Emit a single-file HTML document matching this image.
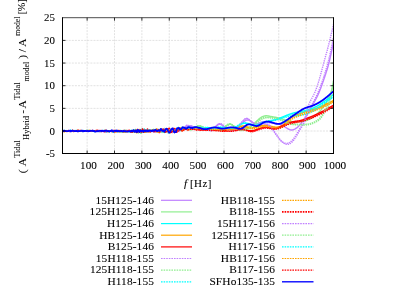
<!DOCTYPE html><html><head><meta charset="utf-8"><style>html,body{margin:0;padding:0;background:#fff}svg{opacity:0.999;will-change:transform}</style></head><body><svg width="407" height="288" viewBox="0 0 407 288" style="display:block;font-family:'Liberation Serif',serif"><rect width="407" height="288" fill="#fff"/><path d="M87.14,17.7 V153.5 M114.51,17.7 V153.5 M141.88,17.7 V153.5 M169.26,17.7 V153.5 M196.63,17.7 V153.5 M224.01,17.7 V153.5 M251.38,17.7 V153.5 M278.75,17.7 V153.5 M306.13,17.7 V153.5 M62.5,131.00 H333.5 M62.5,108.35 H333.5 M62.5,85.70 H333.5 M62.5,63.05 H333.5 M62.5,40.40 H333.5" stroke="#c4c4c4" stroke-width="0.5" stroke-dasharray="2,1.1" fill="none"/><clipPath id="c"><rect x="62.5" y="17.7" width="271.0" height="135.8"/></clipPath><g clip-path="url(#c)" fill="none" stroke-linejoin="round"><path d="M62.5,131.3 L62.8,131.4 L63.1,131.5 L63.4,131.7 L63.7,131.4 L64.0,131.3 L64.3,131.0 L64.6,131.1 L64.9,131.0 L65.2,131.1 L65.5,131.3 L65.8,131.3 L66.1,131.3 L66.4,131.2 L66.7,131.1 L67.0,131.3 L67.3,131.2 L67.6,131.2 L67.9,130.9 L68.2,130.6 L68.5,130.6 L68.8,130.8 L69.1,131.1 L69.4,131.3 L69.7,131.0 L70.1,131.1 L70.4,130.8 L70.7,131.2 L71.0,131.4 L71.3,131.4 L71.6,131.3 L71.9,130.9 L72.2,130.6 L72.5,130.5 L72.8,130.7 L73.1,131.1 L73.4,131.3 L73.7,131.3 L74.0,131.1 L74.3,130.7 L74.6,130.6 L74.9,130.4 L75.2,130.8 L75.5,130.9 L75.8,131.1 L76.1,130.7 L76.4,130.8 L76.7,130.7 L77.0,130.8 L77.3,130.6 L77.6,130.9 L77.9,130.8 L78.2,130.8 L78.5,130.7 L78.8,130.9 L79.1,131.0 L79.4,131.1 L79.7,130.9 L80.0,130.9 L80.3,130.7 L80.6,130.8 L80.9,130.7 L81.2,130.6 L81.5,130.6 L81.8,130.7 L82.1,130.7 L82.4,130.8 L82.7,130.7 L83.0,130.9 L83.3,131.0 L83.6,131.1 L83.9,131.3 L84.2,131.0 L84.5,131.0 L84.8,130.8 L85.2,130.8 L85.5,130.7 L85.8,130.7 L86.1,130.9 L86.4,130.8 L86.7,130.9 L87.0,131.0 L87.3,130.9 L87.6,131.0 L87.9,131.2 L88.2,131.6 L88.5,131.4 L88.8,131.0 L89.1,130.9 L89.4,130.9 L89.7,131.2 L90.0,131.1 L90.3,131.3 L90.6,131.2 L90.9,131.3 L91.2,131.1 L91.5,131.3 L91.8,131.3 L92.1,131.3 L92.4,131.3 L92.7,131.1 L93.0,130.9 L93.3,130.7 L93.6,130.8 L93.9,131.2 L94.2,131.0 L94.5,131.1 L94.8,131.1 L95.1,131.4 L95.4,131.8 L95.7,131.6 L96.0,131.3 L96.3,131.3 L96.6,131.1 L96.9,131.4 L97.2,131.2 L97.5,131.2 L97.8,131.2 L98.1,131.2 L98.4,131.3 L98.7,131.0 L99.0,130.9 L99.3,131.1 L99.6,131.1 L99.9,131.1 L100.3,130.8 L100.6,131.2 L100.9,131.3 L101.2,131.5 L101.5,131.1 L101.8,131.0 L102.1,130.9 L102.4,131.0 L102.7,130.8 L103.0,131.0 L103.3,131.1 L103.6,131.2 L103.9,131.1 L104.2,130.9 L104.5,130.7 L104.8,130.7 L105.1,130.9 L105.4,131.2 L105.7,131.6 L106.0,131.7 L106.3,131.4 L106.6,131.2 L106.9,130.8 L107.2,130.9 L107.5,130.7 L107.8,131.2 L108.1,131.2 L108.4,131.1 L108.7,130.7 L109.0,130.8 L109.3,131.1 L109.6,130.9 L109.9,130.9 L110.2,130.6 L110.5,130.7 L110.8,131.2 L111.1,131.5 L111.4,131.6 L111.7,131.0 L112.0,131.0 L112.3,130.8 L112.6,130.7 L112.9,130.8 L113.2,131.1 L113.5,131.5 L113.8,131.4 L114.1,131.5 L114.4,131.2 L114.7,130.9 L115.0,130.9 L115.4,130.9 L115.7,130.9 L116.0,130.7 L116.3,130.9 L116.6,130.9 L116.9,130.7 L117.2,130.6 L117.5,130.3 L117.8,130.6 L118.1,130.5 L118.4,130.7 L118.7,130.6 L119.0,130.7 L119.3,131.3 L119.6,131.0 L119.9,131.2 L120.2,130.9 L120.5,130.9 L120.8,131.0 L121.1,130.9 L121.4,131.3 L121.7,131.4 L122.0,131.9 L122.3,132.0 L122.6,131.7 L122.9,131.2 L123.2,131.2 L123.5,131.4 L123.8,131.6 L124.1,131.0 L124.4,130.9 L124.7,130.6 L125.0,131.0 L125.3,131.0 L125.6,131.3 L125.9,131.3 L126.2,131.5 L126.5,131.2 L126.8,131.0 L127.1,130.8 L127.4,130.9 L127.7,131.1 L128.0,131.6 L128.3,131.5 L128.6,131.3 L128.9,130.8 L129.2,130.9 L129.5,131.2 L129.8,130.8 L130.1,130.8 L130.5,130.6 L130.8,131.0 L131.1,131.0 L131.4,131.1 L131.7,130.9 L132.0,130.9 L132.3,130.6 L132.6,130.6 L132.9,130.3 L133.2,130.8 L133.5,131.4 L133.8,131.5 L134.1,131.6 L134.4,131.2 L134.7,131.0 L135.0,130.4 L135.3,130.1 L135.6,130.6 L135.9,131.2 L136.2,131.3 L136.5,131.6 L136.8,131.4 L137.1,130.9 L137.4,129.8 L137.7,129.8 L138.0,130.6 L138.3,131.7 L138.6,131.9 L138.9,131.9 L139.2,131.2 L139.5,130.3 L139.8,129.6 L140.1,129.5 L140.4,130.7 L140.7,131.4 L141.0,131.8 L141.3,130.9 L141.6,130.3 L141.9,129.3 L142.2,129.5 L142.5,130.3 L142.8,131.7 L143.1,132.1 L143.4,131.8 L143.7,131.1 L144.0,129.8 L144.3,129.9 L144.6,130.1 L144.9,131.3 L145.2,131.4 L145.6,131.6 L145.9,131.4 L146.2,130.4 L146.5,130.3 L146.8,130.2 L147.1,131.3 L147.4,131.1 L147.7,131.8 L148.0,131.6 L148.3,131.7 L148.6,130.7 L148.9,130.8 L149.2,130.9 L149.5,131.7 L149.8,131.4 L150.1,131.1 L150.4,131.2 L150.7,131.0 L151.0,131.0 L151.3,130.7 L151.6,131.1 L151.9,131.4 L152.2,130.9 L152.5,130.7 L152.8,130.0 L153.1,130.5 L153.4,130.6 L153.7,131.1 L154.0,131.1 L154.3,131.1 L154.6,130.8 L154.9,130.0 L155.2,130.1 L155.5,130.3 L155.8,130.8 L156.1,131.2 L156.4,131.2 L156.7,131.1 L157.0,130.4 L157.3,130.3 L157.6,130.0 L157.9,129.8 L158.2,129.8 L158.5,130.0 L158.8,130.3 L159.1,130.5 L159.4,130.7 L159.7,130.6 L160.0,130.4 L160.3,130.2 L160.7,130.5 L161.0,131.6 L161.3,131.7 L161.6,132.2 L161.9,131.7 L162.2,131.3 L162.5,130.8 L162.8,129.9 L163.1,129.1 L163.4,128.9 L163.7,128.7 L164.0,129.6 L164.3,129.4 L164.6,130.5 L164.9,130.8 L165.2,131.1 L165.5,130.8 L165.8,130.5 L166.1,130.9 L166.4,131.2 L166.7,131.6 L167.0,131.8 L167.3,131.8 L167.6,131.7 L167.9,131.0 L168.2,130.1 L168.5,129.9 L168.8,129.6 L169.1,129.5 L169.4,128.9 L169.7,128.5 L170.0,128.7 L170.3,129.0 L170.6,130.0 L170.9,130.7 L171.2,131.3 L171.5,131.8 L171.8,132.0 L172.1,132.2 L172.4,132.1 L172.7,131.9 L173.0,131.5 L173.3,131.1 L173.6,130.4 L173.9,130.1 L174.2,129.4 L174.5,129.6 L174.8,129.2 L175.1,129.3 L175.4,129.2 L175.8,129.6 L176.1,129.4 L176.4,129.6 L176.7,130.0 L177.0,130.4 L177.3,130.8 L177.6,130.3 L177.9,130.5 L178.2,130.4 L178.5,130.4 L178.8,130.2 L179.1,129.5 L179.4,129.9 L179.7,129.7 L180.0,129.8 L180.3,129.1 L180.6,128.7 L180.9,128.1 L181.2,128.0 L181.5,127.9 L181.8,128.6 L182.1,129.0 L182.4,129.6 L182.7,129.7 L183.0,129.3 L183.3,128.7 L183.6,128.6 L183.9,128.6 L184.2,128.3 L184.5,127.9 L184.8,127.7 L185.1,127.7 L185.4,127.3 L185.7,126.7 L186.0,126.1 L186.3,126.1 L186.6,126.1 L186.9,126.2 L187.2,126.4 L187.5,126.5 L187.8,126.6 L188.1,126.4 L188.4,126.5 L188.7,126.8 L189.0,126.9 L189.3,126.7 L189.6,126.1 L189.9,125.9 L190.2,125.8 L190.5,126.2 L190.9,126.3 L191.2,126.0 L191.5,126.0 L191.8,126.0 L192.1,126.4 L192.4,126.5 L192.7,126.7 L193.0,127.0 L193.3,127.2 L193.6,127.4 L193.9,127.6 L194.2,127.9 L194.5,128.2 L194.8,128.2 L195.1,128.4 L195.4,128.3 L195.7,128.4 L196.0,128.6 L196.3,128.9 L196.6,129.0 L196.9,129.1 L197.2,129.0 L197.5,129.0 L197.8,129.0 L198.1,129.0 L198.4,129.1 L198.7,129.2 L199.0,129.2 L199.3,129.2 L199.6,129.2 L199.9,129.2 L200.2,129.0 L200.5,128.8 L200.8,128.8 L201.1,128.8 L201.4,128.7 L201.7,128.7 L202.0,128.6 L202.3,128.6 L202.6,128.6 L202.9,128.6 L203.2,128.5 L203.5,128.4 L203.8,128.4 L204.1,128.4 L204.4,128.4 L204.7,128.5 L205.0,128.5 L205.3,128.6 L205.6,128.6 L206.0,128.7 L206.3,128.8 L206.6,128.9 L206.9,128.9 L207.2,129.0 L207.5,129.1 L207.8,129.2 L208.1,129.3 L208.4,129.4 L208.7,129.5 L209.0,129.6 L209.3,129.7 L209.6,129.7 L209.9,129.8 L210.2,129.8 L210.5,129.8 L210.8,129.8 L211.1,129.7 L211.4,129.7 L211.7,129.6 L212.0,129.5 L212.3,129.4 L212.6,129.2 L212.9,129.0 L213.2,128.8 L213.5,128.6 L213.8,128.3 L214.1,128.1 L214.4,127.8 L214.7,127.5 L215.0,127.3 L215.3,127.0 L215.6,126.7 L215.9,126.4 L216.2,126.1 L216.5,125.9 L216.8,125.6 L217.1,125.4 L217.4,125.2 L217.7,125.0 L218.0,124.8 L218.3,124.6 L218.6,124.5 L218.9,124.4 L219.2,124.3 L219.5,124.3 L219.8,124.3 L220.1,124.3 L220.4,124.4 L220.7,124.5 L221.1,124.7 L221.4,124.8 L221.7,125.0 L222.0,125.2 L222.3,125.4 L222.6,125.6 L222.9,125.9 L223.2,126.1 L223.5,126.4 L223.8,126.7 L224.1,126.9 L224.4,127.2 L224.7,127.4 L225.0,127.7 L225.3,128.0 L225.6,128.2 L225.9,128.4 L226.2,128.6 L226.5,128.8 L226.8,129.0 L227.1,129.2 L227.4,129.3 L227.7,129.4 L228.0,129.5 L228.3,129.6 L228.6,129.7 L228.9,129.8 L229.2,129.9 L229.5,129.9 L229.8,129.9 L230.1,129.9 L230.4,129.9 L230.7,129.9 L231.0,129.9 L231.3,129.9 L231.6,129.8 L231.9,129.8 L232.2,129.7 L232.5,129.6 L232.8,129.6 L233.1,129.5 L233.4,129.3 L233.7,129.2 L234.0,129.1 L234.3,129.0 L234.6,128.8 L234.9,128.7 L235.2,128.5 L235.5,128.3 L235.8,128.2 L236.2,128.0 L236.5,127.8 L236.8,127.6 L237.1,127.4 L237.4,127.1 L237.7,126.9 L238.0,126.7 L238.3,126.5 L238.6,126.2 L238.9,126.0 L239.2,125.7 L239.5,125.5 L239.8,125.2 L240.1,124.9 L240.4,124.7 L240.7,124.4 L241.0,124.1 L241.3,123.8 L241.6,123.6 L241.9,123.3 L242.2,123.0 L242.5,122.7 L242.8,122.5 L243.1,122.2 L243.4,122.0 L243.7,121.7 L244.0,121.5 L244.3,121.3 L244.6,121.1 L244.9,120.9 L245.2,120.7 L245.5,120.5 L245.8,120.4 L246.1,120.3 L246.4,120.2 L246.7,120.1 L247.0,120.0 L247.3,120.0 L247.6,120.0 L247.9,120.0 L248.2,120.0 L248.5,120.1 L248.8,120.2 L249.1,120.3 L249.4,120.4 L249.7,120.6 L250.0,120.7 L250.3,120.9 L250.6,121.1 L250.9,121.3 L251.3,121.5 L251.6,121.7 L251.9,121.9 L252.2,122.1 L252.5,122.3 L252.8,122.5 L253.1,122.7 L253.4,122.8 L253.7,123.0 L254.0,123.1 L254.3,123.3 L254.6,123.4 L254.9,123.5 L255.2,123.5 L255.5,123.6 L255.8,123.6 L256.1,123.6 L256.4,123.6 L256.7,123.6 L257.0,123.5 L257.3,123.5 L257.6,123.4 L257.9,123.3 L258.2,123.2 L258.5,123.1 L258.8,123.0 L259.1,122.9 L259.4,122.8 L259.7,122.7 L260.0,122.6 L260.3,122.5 L260.6,122.4 L260.9,122.3 L261.2,122.2 L261.5,122.1 L261.8,122.0 L262.1,122.0 L262.4,121.9 L262.7,121.9 L263.0,121.9 L263.3,121.9 L263.6,121.9 L263.9,121.9 L264.2,121.9 L264.5,121.9 L264.8,122.0 L265.1,122.0 L265.4,122.0 L265.7,122.1 L266.0,122.1 L266.4,122.2 L266.7,122.3 L267.0,122.3 L267.3,122.4 L267.6,122.4 L267.9,122.5 L268.2,122.5 L268.5,122.6 L268.8,122.6 L269.1,122.7 L269.4,122.7 L269.7,122.8 L270.0,122.8 L270.3,122.8 L270.6,122.9 L270.9,122.9 L271.2,122.9 L271.5,123.0 L271.8,123.0 L272.1,123.0 L272.4,123.1 L272.7,123.1 L273.0,123.1 L273.3,123.2 L273.6,123.2 L273.9,123.2 L274.2,123.3 L274.5,123.3 L274.8,123.3 L275.1,123.4 L275.4,123.4 L275.7,123.5 L276.0,123.5 L276.3,123.5 L276.6,123.6 L276.9,123.7 L277.2,123.7 L277.5,123.8 L277.8,123.8 L278.1,123.9 L278.4,124.0 L278.7,124.0 L279.0,124.1 L279.3,124.2 L279.6,124.3 L279.9,124.4 L280.2,124.5 L280.5,124.6 L280.8,124.7 L281.1,124.8 L281.5,124.9 L281.8,125.1 L282.1,125.2 L282.4,125.4 L282.7,125.5 L283.0,125.7 L283.3,125.8 L283.6,126.0 L283.9,126.2 L284.2,126.4 L284.5,126.6 L284.8,126.8 L285.1,127.0 L285.4,127.2 L285.7,127.4 L286.0,127.6 L286.3,127.8 L286.6,128.0 L286.9,128.2 L287.2,128.4 L287.5,128.6 L287.8,128.7 L288.1,128.9 L288.4,129.1 L288.7,129.2 L289.0,129.4 L289.3,129.5 L289.6,129.6 L289.9,129.7 L290.2,129.8 L290.5,129.9 L290.8,129.9 L291.1,130.0 L291.4,130.0 L291.7,130.0 L292.0,130.0 L292.3,129.9 L292.6,129.9 L292.9,129.8 L293.2,129.8 L293.5,129.7 L293.8,129.6 L294.1,129.4 L294.4,129.3 L294.7,129.2 L295.0,129.0 L295.3,128.8 L295.6,128.6 L295.9,128.4 L296.2,128.2 L296.6,128.0 L296.9,127.8 L297.2,127.5 L297.5,127.3 L297.8,127.0 L298.1,126.7 L298.4,126.4 L298.7,126.1 L299.0,125.8 L299.3,125.5 L299.6,125.1 L299.9,124.8 L300.2,124.5 L300.5,124.1 L300.8,123.7 L301.1,123.4 L301.4,123.0 L301.7,122.6 L302.0,122.2 L302.3,121.8 L302.6,121.4 L302.9,121.0 L303.2,120.6 L303.5,120.2 L303.8,119.7 L304.1,119.3 L304.4,118.9 L304.7,118.4 L305.0,118.0 L305.3,117.5 L305.6,117.1 L305.9,116.7 L306.2,116.2 L306.5,115.7 L306.8,115.3 L307.1,114.8 L307.4,114.3 L307.7,113.9 L308.0,113.4 L308.3,112.9 L308.6,112.4 L308.9,111.9 L309.2,111.4 L309.5,110.8 L309.8,110.3 L310.1,109.7 L310.4,109.2 L310.7,108.6 L311.0,108.0 L311.3,107.5 L311.7,106.9 L312.0,106.3 L312.3,105.7 L312.6,105.1 L312.9,104.6 L313.2,104.0 L313.5,103.4 L313.8,102.8 L314.1,102.3 L314.4,101.7 L314.7,101.2 L315.0,100.6 L315.3,100.1 L315.6,99.5 L315.9,99.0 L316.2,98.4 L316.5,97.9 L316.8,97.3 L317.1,96.7 L317.4,96.1 L317.7,95.4 L318.0,94.8 L318.3,94.1 L318.6,93.4 L318.9,92.7 L319.2,92.0 L319.5,91.3 L319.8,90.5 L320.1,89.7 L320.4,89.0 L320.7,88.2 L321.0,87.4 L321.3,86.6 L321.6,85.7 L321.9,84.9 L322.2,84.1 L322.5,83.2 L322.8,82.4 L323.1,81.5 L323.4,80.7 L323.7,79.8 L324.0,78.9 L324.3,78.0 L324.6,77.2 L324.9,76.3 L325.2,75.4 L325.5,74.5 L325.8,73.5 L326.1,72.6 L326.4,71.6 L326.8,70.6 L327.1,69.6 L327.4,68.6 L327.7,67.5 L328.0,66.5 L328.3,65.3 L328.6,64.2 L328.9,63.0 L329.2,61.8 L329.5,60.6 L329.8,59.3 L330.1,58.0 L330.4,56.7 L330.7,55.4 L331.0,54.0 L331.3,52.6 L331.6,51.3 L331.9,49.9 L332.2,48.5 L332.5,47.0 L332.8,45.6 L333.1,44.2 L333.4,42.8 L333.7,41.4 L334.0,40.0" stroke="#c080ff" stroke-width="1.4"/><path d="M62.5,131.1 L62.8,131.1 L63.1,130.7 L63.4,130.9 L63.7,130.6 L64.0,131.0 L64.3,130.8 L64.6,131.2 L64.9,130.9 L65.2,131.2 L65.5,130.9 L65.8,130.9 L66.1,130.6 L66.4,131.0 L66.7,130.9 L67.0,131.0 L67.3,130.7 L67.6,130.8 L67.9,130.9 L68.2,130.9 L68.5,131.1 L68.8,131.1 L69.1,131.3 L69.4,131.3 L69.7,131.1 L70.1,131.0 L70.4,130.7 L70.7,130.8 L71.0,130.9 L71.3,130.9 L71.6,130.9 L71.9,130.7 L72.2,130.7 L72.5,130.6 L72.8,130.7 L73.1,130.7 L73.4,130.8 L73.7,131.1 L74.0,131.3 L74.3,131.3 L74.6,130.9 L74.9,130.7 L75.2,131.0 L75.5,131.1 L75.8,131.1 L76.1,130.9 L76.4,131.2 L76.7,131.3 L77.0,131.3 L77.3,131.1 L77.6,131.0 L77.9,130.8 L78.2,130.7 L78.5,130.7 L78.8,130.9 L79.1,131.1 L79.4,131.3 L79.7,131.2 L80.0,131.2 L80.3,131.0 L80.6,131.1 L80.9,131.1 L81.2,131.1 L81.5,131.0 L81.8,130.9 L82.1,131.1 L82.4,131.3 L82.7,131.6 L83.0,131.3 L83.3,130.8 L83.6,130.5 L83.9,130.7 L84.2,131.0 L84.5,131.1 L84.8,130.8 L85.2,130.6 L85.5,130.7 L85.8,131.0 L86.1,131.2 L86.4,131.0 L86.7,131.0 L87.0,130.9 L87.3,131.0 L87.6,131.0 L87.9,131.0 L88.2,130.9 L88.5,130.9 L88.8,130.9 L89.1,131.2 L89.4,131.3 L89.7,131.3 L90.0,131.1 L90.3,130.8 L90.6,130.9 L90.9,130.9 L91.2,131.0 L91.5,130.9 L91.8,130.8 L92.1,131.0 L92.4,130.9 L92.7,131.2 L93.0,131.1 L93.3,131.3 L93.6,130.9 L93.9,130.9 L94.2,130.9 L94.5,131.0 L94.8,130.9 L95.1,130.8 L95.4,130.7 L95.7,130.8 L96.0,130.9 L96.3,131.0 L96.6,131.0 L96.9,130.7 L97.2,130.8 L97.5,130.5 L97.8,130.9 L98.1,131.0 L98.4,131.2 L98.7,130.9 L99.0,131.1 L99.3,131.4 L99.6,131.2 L99.9,131.2 L100.3,131.2 L100.6,131.5 L100.9,131.1 L101.2,131.0 L101.5,130.9 L101.8,131.0 L102.1,130.7 L102.4,130.8 L102.7,131.0 L103.0,131.2 L103.3,131.1 L103.6,130.8 L103.9,131.1 L104.2,131.0 L104.5,131.2 L104.8,131.0 L105.1,131.2 L105.4,131.3 L105.7,131.4 L106.0,131.3 L106.3,131.2 L106.6,131.2 L106.9,131.2 L107.2,131.3 L107.5,131.2 L107.8,130.7 L108.1,130.8 L108.4,131.2 L108.7,131.7 L109.0,131.6 L109.3,131.1 L109.6,131.1 L109.9,131.1 L110.2,130.9 L110.5,130.8 L110.8,130.7 L111.1,130.9 L111.4,130.9 L111.7,131.2 L112.0,131.1 L112.3,131.4 L112.6,131.3 L112.9,131.8 L113.2,131.3 L113.5,131.1 L113.8,130.9 L114.1,131.7 L114.4,131.8 L114.7,131.6 L115.0,131.1 L115.4,131.4 L115.7,131.3 L116.0,131.5 L116.3,131.2 L116.6,131.0 L116.9,131.0 L117.2,131.1 L117.5,131.6 L117.8,131.5 L118.1,131.3 L118.4,131.2 L118.7,131.2 L119.0,131.4 L119.3,131.3 L119.6,131.5 L119.9,131.5 L120.2,131.9 L120.5,131.9 L120.8,132.0 L121.1,131.3 L121.4,131.2 L121.7,131.1 L122.0,131.6 L122.3,131.7 L122.6,131.5 L122.9,131.5 L123.2,131.2 L123.5,131.7 L123.8,131.2 L124.1,131.0 L124.4,130.2 L124.7,130.3 L125.0,130.5 L125.3,131.3 L125.6,131.4 L125.9,131.3 L126.2,131.1 L126.5,131.0 L126.8,131.0 L127.1,131.0 L127.4,131.3 L127.7,131.6 L128.0,131.7 L128.3,131.5 L128.6,131.8 L128.9,131.6 L129.2,131.9 L129.5,131.7 L129.8,131.5 L130.1,131.7 L130.5,131.5 L130.8,131.5 L131.1,130.6 L131.4,130.7 L131.7,130.9 L132.0,131.4 L132.3,131.8 L132.6,132.1 L132.9,131.8 L133.2,131.0 L133.5,130.1 L133.8,130.0 L134.1,130.3 L134.4,131.2 L134.7,131.5 L135.0,131.6 L135.3,130.9 L135.6,130.1 L135.9,129.8 L136.2,130.3 L136.5,131.4 L136.8,132.1 L137.1,132.4 L137.4,131.5 L137.7,130.7 L138.0,129.7 L138.3,129.4 L138.6,130.5 L138.9,131.5 L139.2,132.4 L139.5,132.2 L139.8,131.5 L140.1,131.0 L140.4,130.0 L140.7,130.2 L141.0,130.5 L141.3,131.7 L141.6,131.8 L141.9,131.7 L142.2,130.9 L142.5,130.4 L142.8,130.3 L143.1,130.6 L143.4,131.2 L143.7,131.9 L144.0,132.2 L144.3,131.9 L144.6,131.2 L144.9,130.1 L145.2,129.9 L145.6,129.9 L145.9,131.0 L146.2,131.4 L146.5,131.9 L146.8,130.8 L147.1,130.3 L147.4,129.8 L147.7,130.5 L148.0,131.0 L148.3,131.3 L148.6,131.1 L148.9,130.9 L149.2,130.3 L149.5,130.2 L149.8,130.2 L150.1,130.6 L150.4,130.9 L150.7,130.7 L151.0,130.6 L151.3,130.3 L151.6,130.5 L151.9,130.8 L152.2,130.8 L152.5,130.9 L152.8,131.1 L153.1,130.7 L153.4,130.1 L153.7,129.2 L154.0,129.6 L154.3,130.6 L154.6,131.2 L154.9,131.3 L155.2,131.0 L155.5,130.6 L155.8,130.8 L156.1,130.6 L156.4,131.2 L156.7,131.0 L157.0,132.1 L157.3,132.1 L157.6,132.3 L157.9,131.1 L158.2,130.2 L158.5,129.4 L158.8,129.3 L159.1,129.4 L159.4,130.1 L159.7,130.2 L160.0,130.8 L160.3,131.0 L160.7,131.0 L161.0,131.2 L161.3,131.0 L161.6,131.7 L161.9,131.8 L162.2,132.4 L162.5,132.0 L162.8,131.7 L163.1,131.5 L163.4,131.1 L163.7,130.2 L164.0,129.1 L164.3,128.4 L164.6,128.4 L164.9,128.8 L165.2,129.8 L165.5,130.4 L165.8,130.8 L166.1,130.7 L166.4,131.2 L166.7,131.4 L167.0,131.8 L167.3,132.2 L167.6,132.2 L167.9,132.5 L168.2,132.4 L168.5,132.4 L168.8,132.0 L169.1,131.1 L169.4,130.6 L169.7,130.0 L170.0,129.8 L170.3,129.6 L170.6,129.3 L170.9,129.3 L171.2,129.8 L171.5,129.8 L171.8,130.4 L172.1,130.6 L172.4,131.7 L172.7,132.0 L173.0,131.6 L173.3,131.6 L173.6,131.4 L173.9,131.9 L174.2,131.3 L174.5,130.9 L174.8,130.3 L175.1,130.4 L175.4,129.8 L175.8,130.1 L176.1,129.2 L176.4,128.5 L176.7,128.2 L177.0,128.7 L177.3,129.4 L177.6,129.1 L177.9,129.1 L178.2,129.5 L178.5,130.0 L178.8,130.2 L179.1,129.9 L179.4,129.6 L179.7,129.3 L180.0,128.7 L180.3,129.0 L180.6,128.6 L180.9,128.7 L181.2,127.8 L181.5,127.9 L181.8,127.3 L182.1,127.7 L182.4,127.6 L182.7,128.6 L183.0,128.4 L183.3,128.6 L183.6,128.4 L183.9,129.2 L184.2,129.2 L184.5,129.2 L184.8,128.6 L185.1,128.5 L185.4,128.5 L185.7,129.1 L186.0,129.1 L186.3,129.3 L186.6,129.3 L186.9,129.3 L187.2,128.4 L187.5,127.8 L187.8,127.7 L188.1,128.4 L188.4,128.8 L188.7,128.7 L189.0,128.6 L189.3,128.9 L189.6,129.2 L189.9,129.1 L190.2,129.2 L190.5,129.2 L190.9,129.2 L191.2,128.8 L191.5,128.7 L191.8,128.6 L192.1,128.6 L192.4,128.6 L192.7,128.6 L193.0,128.3 L193.3,128.2 L193.6,127.9 L193.9,127.8 L194.2,127.7 L194.5,127.7 L194.8,127.7 L195.1,127.5 L195.4,127.1 L195.7,126.6 L196.0,126.6 L196.3,126.6 L196.6,126.6 L196.9,126.3 L197.2,126.3 L197.5,126.1 L197.8,126.2 L198.1,126.0 L198.4,126.1 L198.7,126.0 L199.0,126.0 L199.3,126.0 L199.6,125.9 L199.9,126.0 L200.2,126.0 L200.5,126.1 L200.8,126.2 L201.1,126.3 L201.4,126.4 L201.7,126.6 L202.0,126.8 L202.3,126.9 L202.6,127.0 L202.9,127.2 L203.2,127.4 L203.5,127.5 L203.8,127.6 L204.1,127.8 L204.4,127.9 L204.7,128.0 L205.0,128.2 L205.3,128.3 L205.6,128.4 L206.0,128.5 L206.3,128.6 L206.6,128.6 L206.9,128.7 L207.2,128.7 L207.5,128.8 L207.8,128.8 L208.1,128.8 L208.4,128.8 L208.7,128.8 L209.0,128.8 L209.3,128.8 L209.6,128.8 L209.9,128.8 L210.2,128.7 L210.5,128.7 L210.8,128.7 L211.1,128.7 L211.4,128.6 L211.7,128.6 L212.0,128.6 L212.3,128.5 L212.6,128.5 L212.9,128.5 L213.2,128.5 L213.5,128.5 L213.8,128.5 L214.1,128.5 L214.4,128.5 L214.7,128.5 L215.0,128.6 L215.3,128.6 L215.6,128.7 L215.9,128.7 L216.2,128.7 L216.5,128.8 L216.8,128.8 L217.1,128.9 L217.4,128.9 L217.7,128.9 L218.0,129.0 L218.3,129.0 L218.6,129.0 L218.9,129.0 L219.2,129.0 L219.5,129.0 L219.8,129.0 L220.1,129.0 L220.4,128.9 L220.7,128.9 L221.1,128.8 L221.4,128.7 L221.7,128.6 L222.0,128.5 L222.3,128.4 L222.6,128.2 L222.9,128.1 L223.2,127.9 L223.5,127.7 L223.8,127.5 L224.1,127.3 L224.4,127.0 L224.7,126.8 L225.0,126.6 L225.3,126.4 L225.6,126.1 L225.9,125.9 L226.2,125.7 L226.5,125.5 L226.8,125.3 L227.1,125.1 L227.4,124.9 L227.7,124.8 L228.0,124.6 L228.3,124.5 L228.6,124.4 L228.9,124.3 L229.2,124.2 L229.5,124.2 L229.8,124.2 L230.1,124.2 L230.4,124.3 L230.7,124.3 L231.0,124.4 L231.3,124.6 L231.6,124.7 L231.9,124.9 L232.2,125.1 L232.5,125.2 L232.8,125.5 L233.1,125.7 L233.4,125.9 L233.7,126.1 L234.0,126.4 L234.3,126.6 L234.6,126.8 L234.9,127.1 L235.2,127.3 L235.5,127.5 L235.8,127.8 L236.2,128.0 L236.5,128.2 L236.8,128.4 L237.1,128.5 L237.4,128.7 L237.7,128.8 L238.0,128.9 L238.3,129.0 L238.6,129.1 L238.9,129.2 L239.2,129.3 L239.5,129.3 L239.8,129.4 L240.1,129.4 L240.4,129.4 L240.7,129.4 L241.0,129.4 L241.3,129.4 L241.6,129.4 L241.9,129.4 L242.2,129.3 L242.5,129.3 L242.8,129.2 L243.1,129.2 L243.4,129.1 L243.7,129.1 L244.0,129.0 L244.3,128.9 L244.6,128.9 L244.9,128.8 L245.2,128.7 L245.5,128.6 L245.8,128.6 L246.1,128.5 L246.4,128.4 L246.7,128.3 L247.0,128.2 L247.3,128.1 L247.6,128.0 L247.9,127.8 L248.2,127.7 L248.5,127.6 L248.8,127.4 L249.1,127.3 L249.4,127.1 L249.7,127.0 L250.0,126.8 L250.3,126.6 L250.6,126.5 L250.9,126.3 L251.3,126.0 L251.6,125.8 L251.9,125.6 L252.2,125.4 L252.5,125.1 L252.8,124.9 L253.1,124.6 L253.4,124.3 L253.7,124.1 L254.0,123.8 L254.3,123.5 L254.6,123.2 L254.9,122.9 L255.2,122.6 L255.5,122.3 L255.8,122.0 L256.1,121.7 L256.4,121.4 L256.7,121.1 L257.0,120.8 L257.3,120.5 L257.6,120.3 L257.9,120.0 L258.2,119.7 L258.5,119.4 L258.8,119.2 L259.1,118.9 L259.4,118.7 L259.7,118.4 L260.0,118.2 L260.3,118.0 L260.6,117.8 L260.9,117.6 L261.2,117.4 L261.5,117.2 L261.8,117.0 L262.1,116.9 L262.4,116.7 L262.7,116.6 L263.0,116.5 L263.3,116.3 L263.6,116.2 L263.9,116.1 L264.2,116.1 L264.5,116.0 L264.8,115.9 L265.1,115.9 L265.4,115.8 L265.7,115.8 L266.0,115.8 L266.4,115.8 L266.7,115.8 L267.0,115.8 L267.3,115.8 L267.6,115.9 L267.9,115.9 L268.2,115.9 L268.5,116.0 L268.8,116.0 L269.1,116.1 L269.4,116.2 L269.7,116.2 L270.0,116.3 L270.3,116.4 L270.6,116.4 L270.9,116.5 L271.2,116.5 L271.5,116.6 L271.8,116.7 L272.1,116.7 L272.4,116.8 L272.7,116.8 L273.0,116.9 L273.3,116.9 L273.6,117.0 L273.9,117.0 L274.2,117.1 L274.5,117.1 L274.8,117.2 L275.1,117.2 L275.4,117.3 L275.7,117.3 L276.0,117.4 L276.3,117.5 L276.6,117.5 L276.9,117.6 L277.2,117.7 L277.5,117.7 L277.8,117.8 L278.1,117.9 L278.4,118.0 L278.7,118.0 L279.0,118.1 L279.3,118.2 L279.6,118.3 L279.9,118.4 L280.2,118.5 L280.5,118.6 L280.8,118.6 L281.1,118.7 L281.5,118.8 L281.8,118.9 L282.1,119.0 L282.4,119.1 L282.7,119.2 L283.0,119.3 L283.3,119.4 L283.6,119.5 L283.9,119.6 L284.2,119.7 L284.5,119.8 L284.8,119.9 L285.1,120.0 L285.4,120.1 L285.7,120.2 L286.0,120.3 L286.3,120.4 L286.6,120.5 L286.9,120.5 L287.2,120.6 L287.5,120.7 L287.8,120.8 L288.1,120.9 L288.4,120.9 L288.7,121.0 L289.0,121.1 L289.3,121.2 L289.6,121.2 L289.9,121.3 L290.2,121.3 L290.5,121.4 L290.8,121.4 L291.1,121.5 L291.4,121.5 L291.7,121.6 L292.0,121.6 L292.3,121.6 L292.6,121.6 L292.9,121.7 L293.2,121.7 L293.5,121.7 L293.8,121.7 L294.1,121.7 L294.4,121.7 L294.7,121.7 L295.0,121.7 L295.3,121.8 L295.6,121.7 L295.9,121.7 L296.2,121.7 L296.6,121.7 L296.9,121.7 L297.2,121.7 L297.5,121.7 L297.8,121.7 L298.1,121.7 L298.4,121.6 L298.7,121.6 L299.0,121.6 L299.3,121.6 L299.6,121.5 L299.9,121.5 L300.2,121.5 L300.5,121.5 L300.8,121.4 L301.1,121.4 L301.4,121.4 L301.7,121.3 L302.0,121.3 L302.3,121.2 L302.6,121.2 L302.9,121.2 L303.2,121.1 L303.5,121.1 L303.8,121.0 L304.1,120.9 L304.4,120.9 L304.7,120.8 L305.0,120.8 L305.3,120.7 L305.6,120.6 L305.9,120.5 L306.2,120.5 L306.5,120.4 L306.8,120.3 L307.1,120.2 L307.4,120.1 L307.7,120.0 L308.0,119.9 L308.3,119.7 L308.6,119.6 L308.9,119.5 L309.2,119.4 L309.5,119.2 L309.8,119.1 L310.1,118.9 L310.4,118.8 L310.7,118.6 L311.0,118.4 L311.3,118.3 L311.7,118.1 L312.0,117.9 L312.3,117.7 L312.6,117.5 L312.9,117.3 L313.2,117.1 L313.5,116.9 L313.8,116.6 L314.1,116.4 L314.4,116.2 L314.7,115.9 L315.0,115.7 L315.3,115.4 L315.6,115.2 L315.9,114.9 L316.2,114.7 L316.5,114.4 L316.8,114.1 L317.1,113.9 L317.4,113.6 L317.7,113.3 L318.0,113.0 L318.3,112.7 L318.6,112.4 L318.9,112.1 L319.2,111.8 L319.5,111.5 L319.8,111.2 L320.1,110.9 L320.4,110.5 L320.7,110.2 L321.0,109.8 L321.3,109.5 L321.6,109.1 L321.9,108.8 L322.2,108.4 L322.5,108.0 L322.8,107.6 L323.1,107.2 L323.4,106.8 L323.7,106.4 L324.0,106.0 L324.3,105.5 L324.6,105.1 L324.9,104.6 L325.2,104.1 L325.5,103.6 L325.8,103.1 L326.1,102.6 L326.4,102.1 L326.8,101.6 L327.1,101.0 L327.4,100.4 L327.7,99.8 L328.0,99.2 L328.3,98.6 L328.6,98.0 L328.9,97.3 L329.2,96.6 L329.5,95.9 L329.8,95.2 L330.1,94.5 L330.4,93.7 L330.7,93.0 L331.0,92.2 L331.3,91.4 L331.6,90.6 L331.9,89.8 L332.2,89.0 L332.5,88.2 L332.8,87.3 L333.1,86.5 L333.4,85.7 L333.7,84.8 L334.0,84.0" stroke="#90ee90" stroke-width="1.4"/><path d="M62.5,130.9 L62.8,130.6 L63.1,130.9 L63.4,130.7 L63.7,130.9 L64.0,130.7 L64.3,130.8 L64.6,130.7 L64.9,130.5 L65.2,130.8 L65.5,131.3 L65.8,131.4 L66.1,131.2 L66.4,130.9 L66.7,130.8 L67.0,131.0 L67.3,131.1 L67.6,131.0 L67.9,131.0 L68.2,130.8 L68.5,130.8 L68.8,130.9 L69.1,130.8 L69.4,130.8 L69.7,130.8 L70.1,130.8 L70.4,130.7 L70.7,130.5 L71.0,130.6 L71.3,130.7 L71.6,131.2 L71.9,130.9 L72.2,131.0 L72.5,130.7 L72.8,131.2 L73.1,131.3 L73.4,131.1 L73.7,130.9 L74.0,130.9 L74.3,131.0 L74.6,131.1 L74.9,130.8 L75.2,131.0 L75.5,131.1 L75.8,131.4 L76.1,131.2 L76.4,131.0 L76.7,130.9 L77.0,130.9 L77.3,131.0 L77.6,131.0 L77.9,131.0 L78.2,130.8 L78.5,130.9 L78.8,131.2 L79.1,131.1 L79.4,131.1 L79.7,131.0 L80.0,130.8 L80.3,130.7 L80.6,130.6 L80.9,130.9 L81.2,131.0 L81.5,130.7 L81.8,130.7 L82.1,130.6 L82.4,130.7 L82.7,130.7 L83.0,130.9 L83.3,131.0 L83.6,131.1 L83.9,130.9 L84.2,131.0 L84.5,130.7 L84.8,131.0 L85.2,130.6 L85.5,130.8 L85.8,130.7 L86.1,130.7 L86.4,130.7 L86.7,130.6 L87.0,131.0 L87.3,131.2 L87.6,131.2 L87.9,130.9 L88.2,130.9 L88.5,131.1 L88.8,131.2 L89.1,131.1 L89.4,131.0 L89.7,131.1 L90.0,131.1 L90.3,131.3 L90.6,130.9 L90.9,131.1 L91.2,130.9 L91.5,131.1 L91.8,131.1 L92.1,130.8 L92.4,131.0 L92.7,130.8 L93.0,131.0 L93.3,130.9 L93.6,130.8 L93.9,131.4 L94.2,131.6 L94.5,131.7 L94.8,131.2 L95.1,130.8 L95.4,130.7 L95.7,130.7 L96.0,130.7 L96.3,130.7 L96.6,130.7 L96.9,130.8 L97.2,130.7 L97.5,130.6 L97.8,131.1 L98.1,131.0 L98.4,131.0 L98.7,130.7 L99.0,130.8 L99.3,131.1 L99.6,131.1 L99.9,131.4 L100.3,131.5 L100.6,131.2 L100.9,131.1 L101.2,130.7 L101.5,130.9 L101.8,130.6 L102.1,130.7 L102.4,130.9 L102.7,130.9 L103.0,131.3 L103.3,130.9 L103.6,131.1 L103.9,131.0 L104.2,131.3 L104.5,130.9 L104.8,130.8 L105.1,130.5 L105.4,130.4 L105.7,131.0 L106.0,131.4 L106.3,132.1 L106.6,131.5 L106.9,131.4 L107.2,131.2 L107.5,131.4 L107.8,131.3 L108.1,131.1 L108.4,130.7 L108.7,130.8 L109.0,130.9 L109.3,131.5 L109.6,131.3 L109.9,131.6 L110.2,131.3 L110.5,131.1 L110.8,131.0 L111.1,131.0 L111.4,131.0 L111.7,130.8 L112.0,131.1 L112.3,131.3 L112.6,131.4 L112.9,132.0 L113.2,132.1 L113.5,132.3 L113.8,131.2 L114.1,131.1 L114.4,131.0 L114.7,131.3 L115.0,131.1 L115.4,131.0 L115.7,131.0 L116.0,131.1 L116.3,131.2 L116.6,131.5 L116.9,131.7 L117.2,131.4 L117.5,131.2 L117.8,131.3 L118.1,131.6 L118.4,131.2 L118.7,131.0 L119.0,130.9 L119.3,131.3 L119.6,131.6 L119.9,131.7 L120.2,131.3 L120.5,131.0 L120.8,130.6 L121.1,131.2 L121.4,131.3 L121.7,131.7 L122.0,131.6 L122.3,131.5 L122.6,131.1 L122.9,130.8 L123.2,130.8 L123.5,131.4 L123.8,131.6 L124.1,131.5 L124.4,131.3 L124.7,131.3 L125.0,131.3 L125.3,131.1 L125.6,130.5 L125.9,130.8 L126.2,130.8 L126.5,130.9 L126.8,130.8 L127.1,130.9 L127.4,131.0 L127.7,131.2 L128.0,131.2 L128.3,131.1 L128.6,131.0 L128.9,131.5 L129.2,131.8 L129.5,131.7 L129.8,131.1 L130.1,130.6 L130.5,130.9 L130.8,131.0 L131.1,131.7 L131.4,131.9 L131.7,132.0 L132.0,131.9 L132.3,131.5 L132.6,131.0 L132.9,130.4 L133.2,130.4 L133.5,130.3 L133.8,131.3 L134.1,131.1 L134.4,131.4 L134.7,130.2 L135.0,129.7 L135.3,129.7 L135.6,130.3 L135.9,131.3 L136.2,131.9 L136.5,131.7 L136.8,131.3 L137.1,130.6 L137.4,130.3 L137.7,130.3 L138.0,131.0 L138.3,131.9 L138.6,132.2 L138.9,131.2 L139.2,130.4 L139.5,129.7 L139.8,130.0 L140.1,130.6 L140.4,131.8 L140.7,132.6 L141.0,132.6 L141.3,131.3 L141.6,130.2 L141.9,129.3 L142.2,129.4 L142.5,130.3 L142.8,131.0 L143.1,131.7 L143.4,131.1 L143.7,130.1 L144.0,129.3 L144.3,129.1 L144.6,129.6 L144.9,130.3 L145.2,131.1 L145.6,131.7 L145.9,131.8 L146.2,131.4 L146.5,130.6 L146.8,130.6 L147.1,130.4 L147.4,130.4 L147.7,130.4 L148.0,130.7 L148.3,130.9 L148.6,130.5 L148.9,129.9 L149.2,129.7 L149.5,130.2 L149.8,131.1 L150.1,131.2 L150.4,131.3 L150.7,130.7 L151.0,130.7 L151.3,130.4 L151.6,130.5 L151.9,130.6 L152.2,130.4 L152.5,130.3 L152.8,130.5 L153.1,130.6 L153.4,130.5 L153.7,130.3 L154.0,130.4 L154.3,130.7 L154.6,130.4 L154.9,130.1 L155.2,130.1 L155.5,130.2 L155.8,130.6 L156.1,130.4 L156.4,130.6 L156.7,130.7 L157.0,130.8 L157.3,130.6 L157.6,130.1 L157.9,130.0 L158.2,130.3 L158.5,130.2 L158.8,130.5 L159.1,131.2 L159.4,131.5 L159.7,130.7 L160.0,129.7 L160.3,129.6 L160.7,130.5 L161.0,130.6 L161.3,130.8 L161.6,131.2 L161.9,131.7 L162.2,131.5 L162.5,131.4 L162.8,131.1 L163.1,131.9 L163.4,131.6 L163.7,131.9 L164.0,131.6 L164.3,131.7 L164.6,131.1 L164.9,130.6 L165.2,130.1 L165.5,130.0 L165.8,130.1 L166.1,130.5 L166.4,130.6 L166.7,131.0 L167.0,131.5 L167.3,131.8 L167.6,132.1 L167.9,131.8 L168.2,132.0 L168.5,132.5 L168.8,132.8 L169.1,133.1 L169.4,132.2 L169.7,131.4 L170.0,130.6 L170.3,130.1 L170.6,130.6 L170.9,130.5 L171.2,130.3 L171.5,129.4 L171.8,129.0 L172.1,129.6 L172.4,129.9 L172.7,130.6 L173.0,131.3 L173.3,131.7 L173.6,131.5 L173.9,131.5 L174.2,131.6 L174.5,132.1 L174.8,131.7 L175.1,131.6 L175.4,131.0 L175.8,130.5 L176.1,129.7 L176.4,129.3 L176.7,129.6 L177.0,129.7 L177.3,129.3 L177.6,128.9 L177.9,128.8 L178.2,128.7 L178.5,128.9 L178.8,129.5 L179.1,130.0 L179.4,129.8 L179.7,129.7 L180.0,130.2 L180.3,130.6 L180.6,130.5 L180.9,130.3 L181.2,130.1 L181.5,129.7 L181.8,128.8 L182.1,128.2 L182.4,127.8 L182.7,127.9 L183.0,127.6 L183.3,128.0 L183.6,127.9 L183.9,128.2 L184.2,128.1 L184.5,127.8 L184.8,127.9 L185.1,127.6 L185.4,128.3 L185.7,128.3 L186.0,128.7 L186.3,128.4 L186.6,128.4 L186.9,127.9 L187.2,128.1 L187.5,127.8 L187.8,127.9 L188.1,127.6 L188.4,127.4 L188.7,127.2 L189.0,127.5 L189.3,127.6 L189.6,127.4 L189.9,127.3 L190.2,127.6 L190.5,127.7 L190.9,127.7 L191.2,127.7 L191.5,127.8 L191.8,127.8 L192.1,128.0 L192.4,128.0 L192.7,127.9 L193.0,127.8 L193.3,127.7 L193.6,127.6 L193.9,127.3 L194.2,127.2 L194.5,127.5 L194.8,127.6 L195.1,127.8 L195.4,127.7 L195.7,127.6 L196.0,127.6 L196.3,127.5 L196.6,127.4 L196.9,127.3 L197.2,127.3 L197.5,127.4 L197.8,127.5 L198.1,127.7 L198.4,127.7 L198.7,127.6 L199.0,127.5 L199.3,127.5 L199.6,127.5 L199.9,127.4 L200.2,127.4 L200.5,127.4 L200.8,127.4 L201.1,127.4 L201.4,127.4 L201.7,127.5 L202.0,127.5 L202.3,127.6 L202.6,127.6 L202.9,127.6 L203.2,127.5 L203.5,127.6 L203.8,127.6 L204.1,127.6 L204.4,127.6 L204.7,127.6 L205.0,127.7 L205.3,127.7 L205.6,127.7 L206.0,127.7 L206.3,127.7 L206.6,127.7 L206.9,127.7 L207.2,127.7 L207.5,127.8 L207.8,127.8 L208.1,127.8 L208.4,127.8 L208.7,127.8 L209.0,127.8 L209.3,127.8 L209.6,127.8 L209.9,127.8 L210.2,127.8 L210.5,127.8 L210.8,127.8 L211.1,127.8 L211.4,127.8 L211.7,127.8 L212.0,127.8 L212.3,127.8 L212.6,127.8 L212.9,127.8 L213.2,127.8 L213.5,127.7 L213.8,127.7 L214.1,127.7 L214.4,127.7 L214.7,127.7 L215.0,127.7 L215.3,127.6 L215.6,127.6 L215.9,127.6 L216.2,127.6 L216.5,127.6 L216.8,127.6 L217.1,127.5 L217.4,127.5 L217.7,127.5 L218.0,127.5 L218.3,127.5 L218.6,127.4 L218.9,127.4 L219.2,127.4 L219.5,127.4 L219.8,127.4 L220.1,127.4 L220.4,127.4 L220.7,127.4 L221.1,127.4 L221.4,127.4 L221.7,127.4 L222.0,127.4 L222.3,127.4 L222.6,127.4 L222.9,127.4 L223.2,127.4 L223.5,127.4 L223.8,127.4 L224.1,127.4 L224.4,127.4 L224.7,127.5 L225.0,127.5 L225.3,127.5 L225.6,127.6 L225.9,127.6 L226.2,127.6 L226.5,127.7 L226.8,127.7 L227.1,127.8 L227.4,127.8 L227.7,127.9 L228.0,127.9 L228.3,127.9 L228.6,128.0 L228.9,128.0 L229.2,128.0 L229.5,128.1 L229.8,128.1 L230.1,128.1 L230.4,128.1 L230.7,128.2 L231.0,128.2 L231.3,128.2 L231.6,128.2 L231.9,128.1 L232.2,128.1 L232.5,128.1 L232.8,128.1 L233.1,128.0 L233.4,128.0 L233.7,127.9 L234.0,127.8 L234.3,127.7 L234.6,127.6 L234.9,127.5 L235.2,127.4 L235.5,127.3 L235.8,127.1 L236.2,127.0 L236.5,126.8 L236.8,126.6 L237.1,126.5 L237.4,126.3 L237.7,126.1 L238.0,125.9 L238.3,125.7 L238.6,125.5 L238.9,125.4 L239.2,125.2 L239.5,125.0 L239.8,124.8 L240.1,124.6 L240.4,124.5 L240.7,124.3 L241.0,124.2 L241.3,124.0 L241.6,123.9 L241.9,123.8 L242.2,123.7 L242.5,123.6 L242.8,123.5 L243.1,123.4 L243.4,123.4 L243.7,123.3 L244.0,123.3 L244.3,123.3 L244.6,123.3 L244.9,123.3 L245.2,123.3 L245.5,123.3 L245.8,123.4 L246.1,123.4 L246.4,123.5 L246.7,123.5 L247.0,123.6 L247.3,123.6 L247.6,123.7 L247.9,123.8 L248.2,123.8 L248.5,123.9 L248.8,124.0 L249.1,124.1 L249.4,124.2 L249.7,124.2 L250.0,124.3 L250.3,124.4 L250.6,124.5 L250.9,124.5 L251.3,124.6 L251.6,124.7 L251.9,124.7 L252.2,124.8 L252.5,124.9 L252.8,124.9 L253.1,125.0 L253.4,125.0 L253.7,125.0 L254.0,125.1 L254.3,125.1 L254.6,125.1 L254.9,125.1 L255.2,125.1 L255.5,125.1 L255.8,125.0 L256.1,125.0 L256.4,124.9 L256.7,124.9 L257.0,124.8 L257.3,124.7 L257.6,124.6 L257.9,124.6 L258.2,124.5 L258.5,124.4 L258.8,124.2 L259.1,124.1 L259.4,124.0 L259.7,123.9 L260.0,123.8 L260.3,123.7 L260.6,123.5 L260.9,123.4 L261.2,123.3 L261.5,123.2 L261.8,123.1 L262.1,123.0 L262.4,122.8 L262.7,122.7 L263.0,122.6 L263.3,122.6 L263.6,122.5 L263.9,122.4 L264.2,122.3 L264.5,122.2 L264.8,122.1 L265.1,122.0 L265.4,122.0 L265.7,121.9 L266.0,121.8 L266.4,121.8 L266.7,121.7 L267.0,121.6 L267.3,121.6 L267.6,121.5 L267.9,121.4 L268.2,121.4 L268.5,121.3 L268.8,121.2 L269.1,121.2 L269.4,121.1 L269.7,121.1 L270.0,121.0 L270.3,120.9 L270.6,120.9 L270.9,120.8 L271.2,120.8 L271.5,120.7 L271.8,120.6 L272.1,120.6 L272.4,120.5 L272.7,120.4 L273.0,120.4 L273.3,120.3 L273.6,120.2 L273.9,120.1 L274.2,120.1 L274.5,120.0 L274.8,119.9 L275.1,119.8 L275.4,119.7 L275.7,119.6 L276.0,119.5 L276.3,119.4 L276.6,119.3 L276.9,119.2 L277.2,119.1 L277.5,119.0 L277.8,118.9 L278.1,118.8 L278.4,118.7 L278.7,118.6 L279.0,118.5 L279.3,118.4 L279.6,118.2 L279.9,118.1 L280.2,118.0 L280.5,117.9 L280.8,117.7 L281.1,117.6 L281.5,117.5 L281.8,117.4 L282.1,117.2 L282.4,117.1 L282.7,117.0 L283.0,116.9 L283.3,116.7 L283.6,116.6 L283.9,116.5 L284.2,116.3 L284.5,116.2 L284.8,116.1 L285.1,116.0 L285.4,115.8 L285.7,115.7 L286.0,115.6 L286.3,115.5 L286.6,115.4 L286.9,115.2 L287.2,115.1 L287.5,115.0 L287.8,114.9 L288.1,114.8 L288.4,114.7 L288.7,114.5 L289.0,114.4 L289.3,114.3 L289.6,114.2 L289.9,114.1 L290.2,114.0 L290.5,113.9 L290.8,113.8 L291.1,113.7 L291.4,113.6 L291.7,113.5 L292.0,113.4 L292.3,113.3 L292.6,113.2 L292.9,113.2 L293.2,113.1 L293.5,113.0 L293.8,112.9 L294.1,112.8 L294.4,112.8 L294.7,112.7 L295.0,112.6 L295.3,112.6 L295.6,112.5 L295.9,112.4 L296.2,112.4 L296.6,112.3 L296.9,112.2 L297.2,112.2 L297.5,112.1 L297.8,112.0 L298.1,112.0 L298.4,111.9 L298.7,111.9 L299.0,111.8 L299.3,111.7 L299.6,111.7 L299.9,111.6 L300.2,111.6 L300.5,111.5 L300.8,111.4 L301.1,111.4 L301.4,111.3 L301.7,111.3 L302.0,111.2 L302.3,111.1 L302.6,111.1 L302.9,111.0 L303.2,111.0 L303.5,110.9 L303.8,110.8 L304.1,110.8 L304.4,110.7 L304.7,110.6 L305.0,110.6 L305.3,110.5 L305.6,110.4 L305.9,110.3 L306.2,110.3 L306.5,110.2 L306.8,110.1 L307.1,110.0 L307.4,109.9 L307.7,109.9 L308.0,109.8 L308.3,109.7 L308.6,109.6 L308.9,109.5 L309.2,109.4 L309.5,109.3 L309.8,109.2 L310.1,109.1 L310.4,109.0 L310.7,108.9 L311.0,108.8 L311.3,108.7 L311.7,108.5 L312.0,108.4 L312.3,108.3 L312.6,108.2 L312.9,108.1 L313.2,107.9 L313.5,107.8 L313.8,107.7 L314.1,107.5 L314.4,107.4 L314.7,107.2 L315.0,107.1 L315.3,106.9 L315.6,106.8 L315.9,106.6 L316.2,106.5 L316.5,106.3 L316.8,106.2 L317.1,106.0 L317.4,105.8 L317.7,105.7 L318.0,105.5 L318.3,105.3 L318.6,105.1 L318.9,105.0 L319.2,104.8 L319.5,104.6 L319.8,104.4 L320.1,104.2 L320.4,104.0 L320.7,103.8 L321.0,103.6 L321.3,103.5 L321.6,103.3 L321.9,103.1 L322.2,102.9 L322.5,102.6 L322.8,102.4 L323.1,102.2 L323.4,102.0 L323.7,101.8 L324.0,101.6 L324.3,101.4 L324.6,101.2 L324.9,101.0 L325.2,100.7 L325.5,100.5 L325.8,100.3 L326.1,100.1 L326.4,99.9 L326.8,99.6 L327.1,99.4 L327.4,99.2 L327.7,98.9 L328.0,98.7 L328.3,98.5 L328.6,98.3 L328.9,98.0 L329.2,97.8 L329.5,97.6 L329.8,97.3 L330.1,97.1 L330.4,96.9 L330.7,96.6 L331.0,96.4 L331.3,96.1 L331.6,95.9 L331.9,95.7 L332.2,95.4 L332.5,95.2 L332.8,95.0 L333.1,94.7 L333.4,94.5 L333.7,94.2 L334.0,94.0" stroke="#00ffff" stroke-width="1.4"/><path d="M62.5,131.3 L62.8,131.3 L63.1,130.8 L63.4,130.7 L63.7,130.6 L64.0,130.9 L64.3,130.8 L64.6,130.9 L64.9,130.8 L65.2,130.7 L65.5,130.9 L65.8,131.1 L66.1,131.5 L66.4,131.4 L66.7,131.2 L67.0,130.9 L67.3,130.6 L67.6,130.8 L67.9,130.8 L68.2,130.8 L68.5,130.6 L68.8,131.0 L69.1,131.2 L69.4,131.1 L69.7,130.8 L70.1,130.8 L70.4,130.9 L70.7,130.9 L71.0,130.8 L71.3,130.9 L71.6,131.3 L71.9,131.2 L72.2,131.0 L72.5,130.6 L72.8,130.4 L73.1,130.4 L73.4,130.4 L73.7,130.9 L74.0,131.0 L74.3,130.9 L74.6,130.8 L74.9,130.8 L75.2,130.8 L75.5,130.6 L75.8,130.6 L76.1,130.7 L76.4,130.8 L76.7,130.5 L77.0,130.6 L77.3,130.8 L77.6,131.2 L77.9,131.4 L78.2,131.4 L78.5,131.5 L78.8,131.2 L79.1,131.1 L79.4,130.7 L79.7,130.7 L80.0,130.3 L80.3,130.8 L80.6,131.0 L80.9,131.3 L81.2,131.4 L81.5,131.1 L81.8,131.1 L82.1,130.9 L82.4,130.9 L82.7,130.9 L83.0,131.1 L83.3,131.1 L83.6,131.2 L83.9,130.9 L84.2,131.3 L84.5,131.3 L84.8,131.4 L85.2,131.2 L85.5,131.2 L85.8,130.9 L86.1,131.0 L86.4,130.8 L86.7,131.0 L87.0,130.9 L87.3,131.0 L87.6,130.9 L87.9,131.0 L88.2,131.1 L88.5,131.0 L88.8,130.4 L89.1,130.3 L89.4,130.3 L89.7,130.7 L90.0,130.7 L90.3,130.8 L90.6,130.8 L90.9,130.9 L91.2,131.0 L91.5,130.9 L91.8,130.9 L92.1,131.1 L92.4,131.4 L92.7,131.2 L93.0,130.9 L93.3,130.9 L93.6,131.2 L93.9,131.3 L94.2,131.1 L94.5,130.8 L94.8,130.9 L95.1,131.0 L95.4,131.0 L95.7,130.9 L96.0,130.8 L96.3,131.0 L96.6,130.9 L96.9,131.1 L97.2,131.1 L97.5,131.3 L97.8,131.1 L98.1,131.1 L98.4,131.0 L98.7,131.2 L99.0,130.8 L99.3,130.7 L99.6,130.6 L99.9,130.8 L100.3,131.1 L100.6,131.1 L100.9,130.9 L101.2,130.8 L101.5,130.8 L101.8,131.2 L102.1,131.4 L102.4,131.4 L102.7,131.2 L103.0,130.9 L103.3,131.0 L103.6,131.0 L103.9,131.0 L104.2,130.8 L104.5,130.5 L104.8,130.6 L105.1,130.9 L105.4,131.3 L105.7,131.1 L106.0,131.3 L106.3,131.1 L106.6,131.2 L106.9,131.2 L107.2,131.3 L107.5,131.1 L107.8,131.2 L108.1,130.9 L108.4,131.0 L108.7,130.9 L109.0,131.1 L109.3,131.0 L109.6,131.0 L109.9,130.9 L110.2,131.2 L110.5,131.1 L110.8,131.1 L111.1,130.9 L111.4,130.8 L111.7,131.3 L112.0,131.3 L112.3,131.3 L112.6,131.1 L112.9,130.9 L113.2,131.2 L113.5,131.1 L113.8,131.2 L114.1,131.1 L114.4,130.8 L114.7,130.9 L115.0,130.7 L115.4,130.5 L115.7,130.5 L116.0,131.0 L116.3,131.4 L116.6,131.8 L116.9,131.7 L117.2,131.5 L117.5,131.1 L117.8,130.6 L118.1,130.5 L118.4,130.3 L118.7,130.8 L119.0,131.1 L119.3,131.2 L119.6,131.0 L119.9,130.6 L120.2,130.7 L120.5,130.9 L120.8,131.3 L121.1,131.1 L121.4,131.5 L121.7,131.6 L122.0,131.8 L122.3,131.3 L122.6,131.0 L122.9,131.0 L123.2,131.1 L123.5,131.3 L123.8,131.4 L124.1,131.7 L124.4,131.8 L124.7,131.7 L125.0,131.5 L125.3,131.1 L125.6,131.0 L125.9,131.3 L126.2,131.3 L126.5,131.8 L126.8,131.4 L127.1,131.6 L127.4,131.4 L127.7,131.5 L128.0,131.4 L128.3,131.1 L128.6,131.0 L128.9,130.9 L129.2,131.0 L129.5,131.5 L129.8,131.5 L130.1,131.8 L130.5,130.7 L130.8,130.7 L131.1,130.5 L131.4,131.2 L131.7,131.7 L132.0,131.8 L132.3,131.6 L132.6,131.2 L132.9,131.4 L133.2,131.4 L133.5,131.7 L133.8,131.4 L134.1,131.6 L134.4,131.2 L134.7,130.9 L135.0,130.9 L135.3,131.1 L135.6,131.5 L135.9,131.7 L136.2,132.5 L136.5,132.7 L136.8,132.7 L137.1,131.8 L137.4,131.1 L137.7,130.8 L138.0,130.4 L138.3,131.0 L138.6,131.3 L138.9,131.7 L139.2,131.2 L139.5,130.1 L139.8,129.6 L140.1,130.4 L140.4,131.4 L140.7,132.4 L141.0,132.5 L141.3,132.1 L141.6,131.5 L141.9,130.4 L142.2,130.5 L142.5,130.3 L142.8,131.3 L143.1,131.6 L143.4,131.9 L143.7,131.5 L144.0,130.4 L144.3,130.5 L144.6,130.3 L144.9,131.2 L145.2,131.5 L145.6,132.1 L145.9,131.4 L146.2,130.9 L146.5,129.9 L146.8,130.1 L147.1,130.2 L147.4,131.0 L147.7,131.1 L148.0,131.7 L148.3,132.0 L148.6,131.8 L148.9,131.0 L149.2,130.5 L149.5,131.0 L149.8,131.6 L150.1,131.4 L150.4,130.8 L150.7,129.9 L151.0,129.9 L151.3,129.7 L151.6,130.2 L151.9,130.4 L152.2,131.2 L152.5,131.2 L152.8,131.0 L153.1,130.2 L153.4,129.8 L153.7,130.7 L154.0,130.9 L154.3,130.8 L154.6,130.3 L154.9,130.3 L155.2,130.1 L155.5,130.3 L155.8,130.3 L156.1,130.9 L156.4,130.7 L156.7,131.0 L157.0,130.9 L157.3,130.5 L157.6,130.3 L157.9,129.7 L158.2,130.2 L158.5,130.0 L158.8,131.2 L159.1,131.5 L159.4,132.1 L159.7,131.6 L160.0,130.7 L160.3,129.4 L160.7,128.8 L161.0,129.3 L161.3,130.1 L161.6,130.6 L161.9,130.9 L162.2,130.7 L162.5,130.7 L162.8,131.1 L163.1,131.4 L163.4,131.0 L163.7,130.7 L164.0,131.0 L164.3,131.7 L164.6,131.5 L164.9,131.4 L165.2,130.4 L165.5,130.4 L165.8,130.4 L166.1,131.0 L166.4,130.1 L166.7,129.7 L167.0,128.6 L167.3,129.2 L167.6,129.3 L167.9,130.1 L168.2,130.5 L168.5,130.9 L168.8,131.8 L169.1,132.1 L169.4,132.4 L169.7,131.7 L170.0,131.3 L170.3,130.9 L170.6,131.2 L170.9,131.0 L171.2,131.1 L171.5,130.3 L171.8,129.8 L172.1,129.2 L172.4,129.2 L172.7,129.4 L173.0,129.3 L173.3,130.0 L173.6,130.1 L173.9,131.0 L174.2,131.0 L174.5,131.9 L174.8,131.5 L175.1,131.8 L175.4,131.3 L175.8,131.6 L176.1,131.5 L176.4,130.9 L176.7,130.1 L177.0,129.1 L177.3,129.0 L177.6,128.5 L177.9,128.6 L178.2,128.1 L178.5,128.2 L178.8,128.2 L179.1,128.8 L179.4,129.2 L179.7,129.5 L180.0,129.6 L180.3,129.9 L180.6,129.6 L180.9,129.5 L181.2,129.6 L181.5,130.3 L181.8,130.6 L182.1,130.5 L182.4,130.0 L182.7,129.0 L183.0,128.7 L183.3,128.6 L183.6,129.0 L183.9,128.7 L184.2,128.6 L184.5,128.6 L184.8,129.3 L185.1,129.4 L185.4,129.2 L185.7,128.8 L186.0,128.8 L186.3,128.8 L186.6,129.1 L186.9,129.4 L187.2,129.5 L187.5,129.5 L187.8,129.1 L188.1,128.9 L188.4,128.5 L188.7,128.5 L189.0,128.6 L189.3,128.6 L189.6,128.3 L189.9,128.1 L190.2,128.0 L190.5,128.1 L190.9,128.0 L191.2,128.3 L191.5,128.8 L191.8,128.9 L192.1,128.9 L192.4,128.8 L192.7,128.7 L193.0,128.6 L193.3,128.4 L193.6,128.5 L193.9,128.3 L194.2,128.2 L194.5,128.3 L194.8,128.6 L195.1,128.8 L195.4,128.7 L195.7,128.7 L196.0,128.6 L196.3,128.5 L196.6,128.4 L196.9,128.4 L197.2,128.5 L197.5,128.5 L197.8,128.6 L198.1,128.6 L198.4,128.6 L198.7,128.5 L199.0,128.5 L199.3,128.5 L199.6,128.6 L199.9,128.5 L200.2,128.5 L200.5,128.4 L200.8,128.4 L201.1,128.4 L201.4,128.5 L201.7,128.6 L202.0,128.6 L202.3,128.5 L202.6,128.6 L202.9,128.6 L203.2,128.7 L203.5,128.7 L203.8,128.7 L204.1,128.7 L204.4,128.7 L204.7,128.7 L205.0,128.7 L205.3,128.7 L205.6,128.7 L206.0,128.7 L206.3,128.8 L206.6,128.8 L206.9,128.8 L207.2,128.8 L207.5,128.8 L207.8,128.8 L208.1,128.8 L208.4,128.9 L208.7,128.9 L209.0,128.9 L209.3,128.9 L209.6,128.9 L209.9,128.9 L210.2,128.9 L210.5,129.0 L210.8,129.0 L211.1,129.0 L211.4,129.0 L211.7,129.0 L212.0,129.0 L212.3,129.0 L212.6,129.0 L212.9,129.0 L213.2,129.0 L213.5,129.0 L213.8,129.0 L214.1,129.0 L214.4,129.0 L214.7,129.1 L215.0,129.1 L215.3,129.1 L215.6,129.1 L215.9,129.1 L216.2,129.1 L216.5,129.1 L216.8,129.1 L217.1,129.1 L217.4,129.1 L217.7,129.1 L218.0,129.1 L218.3,129.1 L218.6,129.1 L218.9,129.1 L219.2,129.1 L219.5,129.1 L219.8,129.1 L220.1,129.1 L220.4,129.1 L220.7,129.1 L221.1,129.1 L221.4,129.1 L221.7,129.1 L222.0,129.1 L222.3,129.1 L222.6,129.1 L222.9,129.1 L223.2,129.1 L223.5,129.2 L223.8,129.2 L224.1,129.2 L224.4,129.2 L224.7,129.2 L225.0,129.2 L225.3,129.2 L225.6,129.2 L225.9,129.2 L226.2,129.2 L226.5,129.3 L226.8,129.3 L227.1,129.3 L227.4,129.3 L227.7,129.3 L228.0,129.3 L228.3,129.3 L228.6,129.3 L228.9,129.3 L229.2,129.3 L229.5,129.3 L229.8,129.3 L230.1,129.3 L230.4,129.3 L230.7,129.3 L231.0,129.2 L231.3,129.2 L231.6,129.2 L231.9,129.2 L232.2,129.1 L232.5,129.1 L232.8,129.0 L233.1,129.0 L233.4,128.9 L233.7,128.8 L234.0,128.8 L234.3,128.7 L234.6,128.6 L234.9,128.5 L235.2,128.4 L235.5,128.3 L235.8,128.2 L236.2,128.1 L236.5,128.0 L236.8,127.8 L237.1,127.7 L237.4,127.6 L237.7,127.5 L238.0,127.3 L238.3,127.2 L238.6,127.1 L238.9,126.9 L239.2,126.8 L239.5,126.7 L239.8,126.6 L240.1,126.5 L240.4,126.4 L240.7,126.3 L241.0,126.2 L241.3,126.2 L241.6,126.1 L241.9,126.1 L242.2,126.0 L242.5,126.0 L242.8,126.0 L243.1,126.0 L243.4,126.0 L243.7,126.0 L244.0,126.1 L244.3,126.1 L244.6,126.2 L244.9,126.2 L245.2,126.3 L245.5,126.4 L245.8,126.4 L246.1,126.5 L246.4,126.6 L246.7,126.7 L247.0,126.8 L247.3,126.9 L247.6,127.0 L247.9,127.1 L248.2,127.1 L248.5,127.2 L248.8,127.3 L249.1,127.4 L249.4,127.4 L249.7,127.5 L250.0,127.6 L250.3,127.6 L250.6,127.7 L250.9,127.7 L251.3,127.7 L251.6,127.7 L251.9,127.7 L252.2,127.7 L252.5,127.7 L252.8,127.7 L253.1,127.7 L253.4,127.6 L253.7,127.6 L254.0,127.5 L254.3,127.5 L254.6,127.4 L254.9,127.3 L255.2,127.3 L255.5,127.2 L255.8,127.1 L256.1,127.0 L256.4,127.0 L256.7,126.9 L257.0,126.8 L257.3,126.7 L257.6,126.6 L257.9,126.5 L258.2,126.4 L258.5,126.4 L258.8,126.3 L259.1,126.2 L259.4,126.1 L259.7,126.0 L260.0,126.0 L260.3,125.9 L260.6,125.8 L260.9,125.8 L261.2,125.7 L261.5,125.6 L261.8,125.6 L262.1,125.5 L262.4,125.5 L262.7,125.4 L263.0,125.4 L263.3,125.4 L263.6,125.3 L263.9,125.3 L264.2,125.3 L264.5,125.3 L264.8,125.3 L265.1,125.3 L265.4,125.3 L265.7,125.3 L266.0,125.3 L266.4,125.4 L266.7,125.4 L267.0,125.4 L267.3,125.5 L267.6,125.5 L267.9,125.6 L268.2,125.6 L268.5,125.7 L268.8,125.8 L269.1,125.8 L269.4,125.9 L269.7,126.0 L270.0,126.0 L270.3,126.1 L270.6,126.2 L270.9,126.3 L271.2,126.3 L271.5,126.4 L271.8,126.5 L272.1,126.5 L272.4,126.6 L272.7,126.7 L273.0,126.7 L273.3,126.8 L273.6,126.9 L273.9,126.9 L274.2,127.0 L274.5,127.0 L274.8,127.0 L275.1,127.1 L275.4,127.1 L275.7,127.1 L276.0,127.1 L276.3,127.1 L276.6,127.1 L276.9,127.1 L277.2,127.1 L277.5,127.1 L277.8,127.0 L278.1,127.0 L278.4,126.9 L278.7,126.9 L279.0,126.8 L279.3,126.7 L279.6,126.7 L279.9,126.6 L280.2,126.5 L280.5,126.3 L280.8,126.2 L281.1,126.1 L281.5,125.9 L281.8,125.8 L282.1,125.6 L282.4,125.4 L282.7,125.3 L283.0,125.1 L283.3,124.8 L283.6,124.6 L283.9,124.4 L284.2,124.1 L284.5,123.9 L284.8,123.6 L285.1,123.3 L285.4,123.0 L285.7,122.7 L286.0,122.4 L286.3,122.1 L286.6,121.8 L286.9,121.4 L287.2,121.1 L287.5,120.8 L287.8,120.4 L288.1,120.1 L288.4,119.8 L288.7,119.5 L289.0,119.1 L289.3,118.8 L289.6,118.6 L289.9,118.3 L290.2,118.0 L290.5,117.8 L290.8,117.6 L291.1,117.3 L291.4,117.1 L291.7,116.9 L292.0,116.8 L292.3,116.6 L292.6,116.4 L292.9,116.3 L293.2,116.1 L293.5,116.0 L293.8,115.9 L294.1,115.7 L294.4,115.6 L294.7,115.5 L295.0,115.4 L295.3,115.3 L295.6,115.1 L295.9,115.0 L296.2,114.9 L296.6,114.8 L296.9,114.7 L297.2,114.6 L297.5,114.5 L297.8,114.3 L298.1,114.2 L298.4,114.1 L298.7,114.0 L299.0,113.9 L299.3,113.8 L299.6,113.7 L299.9,113.6 L300.2,113.4 L300.5,113.3 L300.8,113.2 L301.1,113.1 L301.4,113.0 L301.7,112.9 L302.0,112.8 L302.3,112.7 L302.6,112.6 L302.9,112.5 L303.2,112.4 L303.5,112.3 L303.8,112.2 L304.1,112.1 L304.4,112.0 L304.7,111.9 L305.0,111.8 L305.3,111.7 L305.6,111.6 L305.9,111.5 L306.2,111.4 L306.5,111.3 L306.8,111.3 L307.1,111.2 L307.4,111.1 L307.7,111.0 L308.0,110.9 L308.3,110.8 L308.6,110.7 L308.9,110.6 L309.2,110.6 L309.5,110.5 L309.8,110.4 L310.1,110.3 L310.4,110.2 L310.7,110.1 L311.0,110.0 L311.3,110.0 L311.7,109.9 L312.0,109.8 L312.3,109.7 L312.6,109.6 L312.9,109.5 L313.2,109.4 L313.5,109.3 L313.8,109.2 L314.1,109.1 L314.4,109.0 L314.7,108.9 L315.0,108.8 L315.3,108.7 L315.6,108.6 L315.9,108.5 L316.2,108.4 L316.5,108.3 L316.8,108.2 L317.1,108.0 L317.4,107.9 L317.7,107.8 L318.0,107.7 L318.3,107.6 L318.6,107.4 L318.9,107.3 L319.2,107.2 L319.5,107.1 L319.8,106.9 L320.1,106.8 L320.4,106.7 L320.7,106.5 L321.0,106.4 L321.3,106.3 L321.6,106.1 L321.9,106.0 L322.2,105.9 L322.5,105.7 L322.8,105.6 L323.1,105.5 L323.4,105.3 L323.7,105.2 L324.0,105.0 L324.3,104.9 L324.6,104.8 L324.9,104.6 L325.2,104.5 L325.5,104.3 L325.8,104.2 L326.1,104.1 L326.4,103.9 L326.8,103.8 L327.1,103.6 L327.4,103.5 L327.7,103.3 L328.0,103.2 L328.3,103.1 L328.6,102.9 L328.9,102.8 L329.2,102.6 L329.5,102.5 L329.8,102.3 L330.1,102.2 L330.4,102.0 L330.7,101.9 L331.0,101.8 L331.3,101.6 L331.6,101.5 L331.9,101.3 L332.2,101.2 L332.5,101.0 L332.8,100.9 L333.1,100.7 L333.4,100.6 L333.7,100.4 L334.0,100.3" stroke="#ffa500" stroke-width="1.4"/><path d="M62.5,131.1 L62.8,130.9 L63.1,131.0 L63.4,130.9 L63.7,130.8 L64.0,130.6 L64.3,130.8 L64.6,131.0 L64.9,131.0 L65.2,131.0 L65.5,130.9 L65.8,131.1 L66.1,131.1 L66.4,130.9 L66.7,130.9 L67.0,130.8 L67.3,131.2 L67.6,131.2 L67.9,131.3 L68.2,131.0 L68.5,130.9 L68.8,130.9 L69.1,130.8 L69.4,131.1 L69.7,131.2 L70.1,131.6 L70.4,131.1 L70.7,131.3 L71.0,130.9 L71.3,130.9 L71.6,130.8 L71.9,131.0 L72.2,130.7 L72.5,130.5 L72.8,130.6 L73.1,131.2 L73.4,131.5 L73.7,131.4 L74.0,131.2 L74.3,130.9 L74.6,131.0 L74.9,130.7 L75.2,130.9 L75.5,130.8 L75.8,131.1 L76.1,131.0 L76.4,131.2 L76.7,131.1 L77.0,131.2 L77.3,131.2 L77.6,130.9 L77.9,130.8 L78.2,130.7 L78.5,130.9 L78.8,130.9 L79.1,130.7 L79.4,130.9 L79.7,130.9 L80.0,131.2 L80.3,131.4 L80.6,131.4 L80.9,131.4 L81.2,130.9 L81.5,130.9 L81.8,130.8 L82.1,131.1 L82.4,130.9 L82.7,131.1 L83.0,131.2 L83.3,131.4 L83.6,131.4 L83.9,131.4 L84.2,131.2 L84.5,131.3 L84.8,131.1 L85.2,131.0 L85.5,130.9 L85.8,131.0 L86.1,131.1 L86.4,130.9 L86.7,130.7 L87.0,130.4 L87.3,130.5 L87.6,130.4 L87.9,131.0 L88.2,131.0 L88.5,131.0 L88.8,130.8 L89.1,130.9 L89.4,131.1 L89.7,131.0 L90.0,131.0 L90.3,131.0 L90.6,131.1 L90.9,131.1 L91.2,131.1 L91.5,131.0 L91.8,130.7 L92.1,130.9 L92.4,131.0 L92.7,131.2 L93.0,131.3 L93.3,131.1 L93.6,131.3 L93.9,131.2 L94.2,131.2 L94.5,130.9 L94.8,130.9 L95.1,130.9 L95.4,131.3 L95.7,131.3 L96.0,131.1 L96.3,130.7 L96.6,130.4 L96.9,130.8 L97.2,131.1 L97.5,131.3 L97.8,131.2 L98.1,131.0 L98.4,131.1 L98.7,131.3 L99.0,131.3 L99.3,131.0 L99.6,130.9 L99.9,131.0 L100.3,131.3 L100.6,131.4 L100.9,131.2 L101.2,130.7 L101.5,130.7 L101.8,130.8 L102.1,130.9 L102.4,130.6 L102.7,130.8 L103.0,131.0 L103.3,131.3 L103.6,131.2 L103.9,131.1 L104.2,130.9 L104.5,130.6 L104.8,130.5 L105.1,130.6 L105.4,130.6 L105.7,130.8 L106.0,130.8 L106.3,130.9 L106.6,131.1 L106.9,131.4 L107.2,131.7 L107.5,131.6 L107.8,131.4 L108.1,131.0 L108.4,131.2 L108.7,131.4 L109.0,131.4 L109.3,131.4 L109.6,131.0 L109.9,131.1 L110.2,131.0 L110.5,131.0 L110.8,131.2 L111.1,130.9 L111.4,130.8 L111.7,130.6 L112.0,130.7 L112.3,130.9 L112.6,130.7 L112.9,130.9 L113.2,130.5 L113.5,130.8 L113.8,130.9 L114.1,131.6 L114.4,131.8 L114.7,132.0 L115.0,131.6 L115.4,131.8 L115.7,131.5 L116.0,131.4 L116.3,130.7 L116.6,130.8 L116.9,131.1 L117.2,131.2 L117.5,131.1 L117.8,130.8 L118.1,130.9 L118.4,130.8 L118.7,130.7 L119.0,131.0 L119.3,130.7 L119.6,130.8 L119.9,130.6 L120.2,131.2 L120.5,131.3 L120.8,131.2 L121.1,131.0 L121.4,131.0 L121.7,131.2 L122.0,131.1 L122.3,131.0 L122.6,130.7 L122.9,130.8 L123.2,131.3 L123.5,131.7 L123.8,131.6 L124.1,131.1 L124.4,130.5 L124.7,131.0 L125.0,131.2 L125.3,131.6 L125.6,131.5 L125.9,131.4 L126.2,131.3 L126.5,130.8 L126.8,130.8 L127.1,131.0 L127.4,131.3 L127.7,131.1 L128.0,131.0 L128.3,130.8 L128.6,131.3 L128.9,131.2 L129.2,131.1 L129.5,130.9 L129.8,130.5 L130.1,131.1 L130.5,131.5 L130.8,131.9 L131.1,131.4 L131.4,131.4 L131.7,131.4 L132.0,131.9 L132.3,131.7 L132.6,131.9 L132.9,131.4 L133.2,131.0 L133.5,130.9 L133.8,131.2 L134.1,131.2 L134.4,131.2 L134.7,130.9 L135.0,130.8 L135.3,130.6 L135.6,131.1 L135.9,132.0 L136.2,131.9 L136.5,131.5 L136.8,130.5 L137.1,130.1 L137.4,129.8 L137.7,130.3 L138.0,131.7 L138.3,132.4 L138.6,132.3 L138.9,131.0 L139.2,130.3 L139.5,129.7 L139.8,130.0 L140.1,130.7 L140.4,131.8 L140.7,132.2 L141.0,131.7 L141.3,131.1 L141.6,130.4 L141.9,130.1 L142.2,130.4 L142.5,131.1 L142.8,131.9 L143.1,131.9 L143.4,131.8 L143.7,131.0 L144.0,130.0 L144.3,129.6 L144.6,130.3 L144.9,131.4 L145.2,131.8 L145.6,131.7 L145.9,131.0 L146.2,130.5 L146.5,130.1 L146.8,130.7 L147.1,130.9 L147.4,130.9 L147.7,131.2 L148.0,131.1 L148.3,131.1 L148.6,131.0 L148.9,131.0 L149.2,130.6 L149.5,130.9 L149.8,131.4 L150.1,132.0 L150.4,131.8 L150.7,131.4 L151.0,131.6 L151.3,131.0 L151.6,131.1 L151.9,131.0 L152.2,131.1 L152.5,131.3 L152.8,131.4 L153.1,131.2 L153.4,131.1 L153.7,131.6 L154.0,132.0 L154.3,132.0 L154.6,131.5 L154.9,131.3 L155.2,131.3 L155.5,130.8 L155.8,130.5 L156.1,130.6 L156.4,131.2 L156.7,130.9 L157.0,130.4 L157.3,129.7 L157.6,130.1 L157.9,130.0 L158.2,131.2 L158.5,131.5 L158.8,132.4 L159.1,132.5 L159.4,132.6 L159.7,132.4 L160.0,131.4 L160.3,131.1 L160.7,130.4 L161.0,130.4 L161.3,130.3 L161.6,130.2 L161.9,130.2 L162.2,130.0 L162.5,129.5 L162.8,129.4 L163.1,129.2 L163.4,130.2 L163.7,130.3 L164.0,130.9 L164.3,131.3 L164.6,132.3 L164.9,132.2 L165.2,132.0 L165.5,131.4 L165.8,131.9 L166.1,131.7 L166.4,131.5 L166.7,131.1 L167.0,130.9 L167.3,130.2 L167.6,129.3 L167.9,128.8 L168.2,128.9 L168.5,129.0 L168.8,129.3 L169.1,129.9 L169.4,130.6 L169.7,131.0 L170.0,131.5 L170.3,132.2 L170.6,132.3 L170.9,132.0 L171.2,132.1 L171.5,132.1 L171.8,131.7 L172.1,130.8 L172.4,130.6 L172.7,130.1 L173.0,129.3 L173.3,128.5 L173.6,128.9 L173.9,129.0 L174.2,129.3 L174.5,129.5 L174.8,130.3 L175.1,130.6 L175.4,131.1 L175.8,131.4 L176.1,132.1 L176.4,132.2 L176.7,132.2 L177.0,131.4 L177.3,131.2 L177.6,130.7 L177.9,130.1 L178.2,129.4 L178.5,129.0 L178.8,129.1 L179.1,128.3 L179.4,127.9 L179.7,127.8 L180.0,128.4 L180.3,128.3 L180.6,128.9 L180.9,129.5 L181.2,130.4 L181.5,130.6 L181.8,130.6 L182.1,130.8 L182.4,130.9 L182.7,130.7 L183.0,130.3 L183.3,130.1 L183.6,130.1 L183.9,129.9 L184.2,129.3 L184.5,128.7 L184.8,128.6 L185.1,128.7 L185.4,129.1 L185.7,128.7 L186.0,128.6 L186.3,128.4 L186.6,129.1 L186.9,129.5 L187.2,129.9 L187.5,129.8 L187.8,129.6 L188.1,129.6 L188.4,129.4 L188.7,129.4 L189.0,129.2 L189.3,129.2 L189.6,129.3 L189.9,129.0 L190.2,128.7 L190.5,128.5 L190.9,128.8 L191.2,128.7 L191.5,128.6 L191.8,128.5 L192.1,129.0 L192.4,129.1 L192.7,129.1 L193.0,128.9 L193.3,129.1 L193.6,129.2 L193.9,129.2 L194.2,129.2 L194.5,129.2 L194.8,129.2 L195.1,129.2 L195.4,129.3 L195.7,129.1 L196.0,129.1 L196.3,129.1 L196.6,129.3 L196.9,129.4 L197.2,129.5 L197.5,129.4 L197.8,129.4 L198.1,129.3 L198.4,129.4 L198.7,129.4 L199.0,129.4 L199.3,129.4 L199.6,129.6 L199.9,129.6 L200.2,129.7 L200.5,129.6 L200.8,129.6 L201.1,129.5 L201.4,129.6 L201.7,129.6 L202.0,129.7 L202.3,129.7 L202.6,129.7 L202.9,129.6 L203.2,129.6 L203.5,129.7 L203.8,129.6 L204.1,129.6 L204.4,129.6 L204.7,129.7 L205.0,129.7 L205.3,129.7 L205.6,129.7 L206.0,129.7 L206.3,129.7 L206.6,129.7 L206.9,129.7 L207.2,129.7 L207.5,129.7 L207.8,129.7 L208.1,129.7 L208.4,129.7 L208.7,129.7 L209.0,129.7 L209.3,129.7 L209.6,129.7 L209.9,129.7 L210.2,129.7 L210.5,129.8 L210.8,129.8 L211.1,129.8 L211.4,129.8 L211.7,129.8 L212.0,129.8 L212.3,129.8 L212.6,129.8 L212.9,129.8 L213.2,129.9 L213.5,129.9 L213.8,129.9 L214.1,129.9 L214.4,129.9 L214.7,129.9 L215.0,130.0 L215.3,130.0 L215.6,130.0 L215.9,130.0 L216.2,130.0 L216.5,130.1 L216.8,130.1 L217.1,130.1 L217.4,130.1 L217.7,130.1 L218.0,130.2 L218.3,130.2 L218.6,130.2 L218.9,130.2 L219.2,130.3 L219.5,130.3 L219.8,130.3 L220.1,130.3 L220.4,130.3 L220.7,130.4 L221.1,130.4 L221.4,130.4 L221.7,130.4 L222.0,130.4 L222.3,130.5 L222.6,130.5 L222.9,130.5 L223.2,130.5 L223.5,130.5 L223.8,130.5 L224.1,130.6 L224.4,130.6 L224.7,130.6 L225.0,130.6 L225.3,130.6 L225.6,130.6 L225.9,130.6 L226.2,130.6 L226.5,130.6 L226.8,130.6 L227.1,130.6 L227.4,130.6 L227.7,130.6 L228.0,130.6 L228.3,130.6 L228.6,130.6 L228.9,130.6 L229.2,130.6 L229.5,130.6 L229.8,130.6 L230.1,130.6 L230.4,130.5 L230.7,130.5 L231.0,130.5 L231.3,130.5 L231.6,130.5 L231.9,130.4 L232.2,130.4 L232.5,130.4 L232.8,130.3 L233.1,130.3 L233.4,130.3 L233.7,130.2 L234.0,130.2 L234.3,130.1 L234.6,130.1 L234.9,130.0 L235.2,130.0 L235.5,129.9 L235.8,129.8 L236.2,129.8 L236.5,129.7 L236.8,129.6 L237.1,129.6 L237.4,129.5 L237.7,129.5 L238.0,129.4 L238.3,129.3 L238.6,129.3 L238.9,129.2 L239.2,129.2 L239.5,129.1 L239.8,129.1 L240.1,129.1 L240.4,129.0 L240.7,129.0 L241.0,129.0 L241.3,129.0 L241.6,129.0 L241.9,129.0 L242.2,129.0 L242.5,129.0 L242.8,129.0 L243.1,129.1 L243.4,129.1 L243.7,129.2 L244.0,129.2 L244.3,129.3 L244.6,129.4 L244.9,129.5 L245.2,129.5 L245.5,129.6 L245.8,129.7 L246.1,129.8 L246.4,129.9 L246.7,130.0 L247.0,130.1 L247.3,130.2 L247.6,130.2 L247.9,130.3 L248.2,130.4 L248.5,130.5 L248.8,130.5 L249.1,130.6 L249.4,130.6 L249.7,130.7 L250.0,130.7 L250.3,130.8 L250.6,130.8 L250.9,130.8 L251.3,130.8 L251.6,130.8 L251.9,130.8 L252.2,130.7 L252.5,130.7 L252.8,130.7 L253.1,130.6 L253.4,130.5 L253.7,130.5 L254.0,130.4 L254.3,130.3 L254.6,130.2 L254.9,130.1 L255.2,130.0 L255.5,129.9 L255.8,129.8 L256.1,129.7 L256.4,129.6 L256.7,129.5 L257.0,129.4 L257.3,129.3 L257.6,129.2 L257.9,129.0 L258.2,128.9 L258.5,128.8 L258.8,128.7 L259.1,128.6 L259.4,128.5 L259.7,128.4 L260.0,128.3 L260.3,128.2 L260.6,128.1 L260.9,128.0 L261.2,127.9 L261.5,127.8 L261.8,127.7 L262.1,127.6 L262.4,127.5 L262.7,127.5 L263.0,127.4 L263.3,127.3 L263.6,127.3 L263.9,127.2 L264.2,127.2 L264.5,127.2 L264.8,127.1 L265.1,127.1 L265.4,127.1 L265.7,127.1 L266.0,127.1 L266.4,127.1 L266.7,127.1 L267.0,127.2 L267.3,127.2 L267.6,127.2 L267.9,127.3 L268.2,127.3 L268.5,127.4 L268.8,127.5 L269.1,127.5 L269.4,127.6 L269.7,127.6 L270.0,127.7 L270.3,127.8 L270.6,127.8 L270.9,127.9 L271.2,128.0 L271.5,128.0 L271.8,128.1 L272.1,128.1 L272.4,128.2 L272.7,128.2 L273.0,128.3 L273.3,128.3 L273.6,128.3 L273.9,128.3 L274.2,128.3 L274.5,128.4 L274.8,128.3 L275.1,128.3 L275.4,128.3 L275.7,128.3 L276.0,128.2 L276.3,128.2 L276.6,128.1 L276.9,128.0 L277.2,128.0 L277.5,127.9 L277.8,127.8 L278.1,127.7 L278.4,127.5 L278.7,127.4 L279.0,127.3 L279.3,127.2 L279.6,127.0 L279.9,126.9 L280.2,126.8 L280.5,126.6 L280.8,126.5 L281.1,126.3 L281.5,126.2 L281.8,126.0 L282.1,125.9 L282.4,125.7 L282.7,125.6 L283.0,125.4 L283.3,125.3 L283.6,125.1 L283.9,125.0 L284.2,124.8 L284.5,124.7 L284.8,124.5 L285.1,124.4 L285.4,124.3 L285.7,124.1 L286.0,124.0 L286.3,123.9 L286.6,123.7 L286.9,123.6 L287.2,123.5 L287.5,123.4 L287.8,123.3 L288.1,123.1 L288.4,123.0 L288.7,122.9 L289.0,122.8 L289.3,122.7 L289.6,122.6 L289.9,122.5 L290.2,122.4 L290.5,122.3 L290.8,122.3 L291.1,122.2 L291.4,122.1 L291.7,122.0 L292.0,122.0 L292.3,121.9 L292.6,121.8 L292.9,121.8 L293.2,121.7 L293.5,121.6 L293.8,121.6 L294.1,121.5 L294.4,121.5 L294.7,121.4 L295.0,121.4 L295.3,121.3 L295.6,121.3 L295.9,121.2 L296.2,121.2 L296.6,121.2 L296.9,121.1 L297.2,121.1 L297.5,121.0 L297.8,121.0 L298.1,120.9 L298.4,120.9 L298.7,120.9 L299.0,120.8 L299.3,120.7 L299.6,120.7 L299.9,120.6 L300.2,120.6 L300.5,120.5 L300.8,120.4 L301.1,120.3 L301.4,120.2 L301.7,120.2 L302.0,120.1 L302.3,120.0 L302.6,119.9 L302.9,119.8 L303.2,119.7 L303.5,119.5 L303.8,119.4 L304.1,119.3 L304.4,119.2 L304.7,119.1 L305.0,119.0 L305.3,118.9 L305.6,118.8 L305.9,118.7 L306.2,118.5 L306.5,118.4 L306.8,118.3 L307.1,118.2 L307.4,118.1 L307.7,118.0 L308.0,117.9 L308.3,117.7 L308.6,117.6 L308.9,117.5 L309.2,117.4 L309.5,117.3 L309.8,117.2 L310.1,117.0 L310.4,116.9 L310.7,116.8 L311.0,116.7 L311.3,116.6 L311.7,116.4 L312.0,116.3 L312.3,116.2 L312.6,116.1 L312.9,115.9 L313.2,115.8 L313.5,115.7 L313.8,115.5 L314.1,115.4 L314.4,115.3 L314.7,115.1 L315.0,115.0 L315.3,114.9 L315.6,114.7 L315.9,114.6 L316.2,114.5 L316.5,114.3 L316.8,114.2 L317.1,114.0 L317.4,113.9 L317.7,113.8 L318.0,113.6 L318.3,113.5 L318.6,113.3 L318.9,113.2 L319.2,113.0 L319.5,112.9 L319.8,112.7 L320.1,112.6 L320.4,112.4 L320.7,112.3 L321.0,112.1 L321.3,111.9 L321.6,111.8 L321.9,111.6 L322.2,111.5 L322.5,111.3 L322.8,111.2 L323.1,111.0 L323.4,110.8 L323.7,110.7 L324.0,110.5 L324.3,110.4 L324.6,110.2 L324.9,110.0 L325.2,109.9 L325.5,109.7 L325.8,109.5 L326.1,109.4 L326.4,109.2 L326.8,109.0 L327.1,108.9 L327.4,108.7 L327.7,108.5 L328.0,108.4 L328.3,108.2 L328.6,108.0 L328.9,107.9 L329.2,107.7 L329.5,107.5 L329.8,107.4 L330.1,107.2 L330.4,107.0 L330.7,106.9 L331.0,106.7 L331.3,106.5 L331.6,106.4 L331.9,106.2 L332.2,106.0 L332.5,105.9 L332.8,105.7 L333.1,105.5 L333.4,105.3 L333.7,105.2 L334.0,105.0" stroke="#ff0000" stroke-width="1.4"/><path d="M62.5,131.0 L62.8,131.4 L63.1,131.3 L63.4,131.3 L63.7,131.2 L64.0,131.1 L64.3,131.0 L64.6,130.8 L64.9,130.9 L65.2,130.8 L65.5,130.8 L65.8,130.7 L66.1,131.0 L66.4,130.8 L66.7,130.7 L67.0,130.8 L67.3,131.3 L67.6,131.2 L67.9,131.1 L68.2,130.7 L68.5,130.8 L68.8,130.6 L69.1,130.7 L69.4,130.9 L69.7,131.2 L70.1,131.2 L70.4,131.0 L70.7,130.9 L71.0,130.9 L71.3,131.1 L71.6,131.0 L71.9,131.0 L72.2,130.9 L72.5,131.0 L72.8,131.0 L73.1,131.0 L73.4,131.2 L73.7,131.2 L74.0,131.4 L74.3,131.1 L74.6,131.1 L74.9,130.9 L75.2,131.0 L75.5,131.1 L75.8,131.2 L76.1,131.4 L76.4,131.4 L76.7,131.2 L77.0,131.0 L77.3,131.1 L77.6,131.2 L77.9,131.0 L78.2,130.7 L78.5,130.6 L78.8,131.0 L79.1,131.0 L79.4,131.4 L79.7,131.4 L80.0,131.4 L80.3,131.0 L80.6,131.1 L80.9,131.0 L81.2,131.0 L81.5,130.9 L81.8,130.9 L82.1,131.2 L82.4,131.1 L82.7,130.7 L83.0,130.7 L83.3,130.4 L83.6,131.0 L83.9,131.2 L84.2,131.4 L84.5,131.0 L84.8,130.6 L85.2,130.7 L85.5,130.9 L85.8,131.0 L86.1,130.8 L86.4,131.2 L86.7,131.3 L87.0,131.4 L87.3,131.2 L87.6,131.3 L87.9,131.4 L88.2,131.2 L88.5,131.0 L88.8,130.7 L89.1,130.7 L89.4,130.9 L89.7,131.0 L90.0,131.1 L90.3,130.8 L90.6,130.8 L90.9,130.9 L91.2,130.9 L91.5,131.0 L91.8,130.9 L92.1,131.1 L92.4,131.2 L92.7,131.2 L93.0,130.9 L93.3,130.8 L93.6,130.9 L93.9,131.3 L94.2,131.1 L94.5,131.4 L94.8,131.1 L95.1,131.3 L95.4,130.9 L95.7,131.0 L96.0,131.0 L96.3,131.0 L96.6,130.7 L96.9,130.4 L97.2,130.5 L97.5,131.2 L97.8,131.2 L98.1,131.1 L98.4,131.0 L98.7,131.3 L99.0,131.3 L99.3,130.8 L99.6,130.4 L99.9,130.4 L100.3,130.5 L100.6,130.5 L100.9,130.3 L101.2,130.4 L101.5,130.7 L101.8,130.9 L102.1,130.8 L102.4,130.7 L102.7,131.0 L103.0,131.3 L103.3,131.8 L103.6,131.7 L103.9,131.6 L104.2,131.5 L104.5,131.7 L104.8,131.8 L105.1,131.8 L105.4,131.4 L105.7,130.8 L106.0,130.8 L106.3,130.9 L106.6,131.2 L106.9,130.8 L107.2,130.6 L107.5,130.9 L107.8,131.1 L108.1,131.2 L108.4,131.0 L108.7,131.0 L109.0,131.3 L109.3,131.6 L109.6,131.5 L109.9,131.2 L110.2,130.8 L110.5,130.7 L110.8,131.0 L111.1,131.1 L111.4,131.2 L111.7,131.0 L112.0,131.1 L112.3,130.9 L112.6,131.1 L112.9,131.0 L113.2,130.9 L113.5,130.9 L113.8,130.8 L114.1,131.3 L114.4,131.3 L114.7,131.5 L115.0,131.3 L115.4,131.2 L115.7,130.6 L116.0,130.8 L116.3,130.7 L116.6,131.3 L116.9,131.0 L117.2,131.1 L117.5,130.9 L117.8,130.8 L118.1,130.8 L118.4,130.9 L118.7,131.1 L119.0,130.8 L119.3,130.6 L119.6,130.8 L119.9,131.2 L120.2,131.5 L120.5,131.5 L120.8,131.1 L121.1,131.1 L121.4,131.1 L121.7,131.2 L122.0,131.2 L122.3,131.3 L122.6,131.5 L122.9,131.1 L123.2,130.8 L123.5,130.4 L123.8,130.7 L124.1,130.8 L124.4,131.3 L124.7,131.3 L125.0,131.2 L125.3,131.5 L125.6,131.2 L125.9,131.1 L126.2,130.5 L126.5,130.8 L126.8,131.0 L127.1,131.0 L127.4,130.6 L127.7,131.0 L128.0,131.1 L128.3,131.1 L128.6,130.8 L128.9,130.7 L129.2,130.7 L129.5,131.0 L129.8,131.1 L130.1,131.3 L130.5,131.1 L130.8,131.2 L131.1,131.3 L131.4,131.3 L131.7,131.0 L132.0,130.6 L132.3,130.6 L132.6,131.1 L132.9,131.6 L133.2,131.7 L133.5,130.8 L133.8,130.6 L134.1,130.0 L134.4,130.1 L134.7,130.2 L135.0,131.1 L135.3,131.7 L135.6,131.4 L135.9,130.8 L136.2,130.1 L136.5,129.6 L136.8,129.9 L137.1,130.5 L137.4,131.7 L137.7,131.9 L138.0,131.8 L138.3,131.1 L138.6,130.7 L138.9,130.7 L139.2,131.3 L139.5,131.9 L139.8,132.5 L140.1,132.0 L140.4,131.3 L140.7,130.3 L141.0,130.0 L141.3,130.4 L141.6,130.8 L141.9,131.6 L142.2,131.9 L142.5,131.9 L142.8,131.4 L143.1,130.6 L143.4,130.3 L143.7,130.6 L144.0,131.5 L144.3,131.7 L144.6,131.5 L144.9,131.2 L145.2,130.5 L145.6,130.4 L145.9,129.9 L146.2,131.0 L146.5,131.2 L146.8,131.6 L147.1,130.7 L147.4,130.4 L147.7,130.3 L148.0,130.3 L148.3,130.7 L148.6,130.6 L148.9,131.2 L149.2,130.3 L149.5,130.6 L149.8,130.2 L150.1,130.7 L150.4,130.1 L150.7,130.2 L151.0,130.7 L151.3,130.9 L151.6,131.2 L151.9,130.6 L152.2,130.8 L152.5,130.6 L152.8,130.9 L153.1,131.6 L153.4,131.9 L153.7,131.7 L154.0,130.6 L154.3,130.6 L154.6,130.9 L154.9,131.0 L155.2,130.8 L155.5,131.2 L155.8,131.8 L156.1,131.9 L156.4,131.1 L156.7,130.9 L157.0,131.0 L157.3,130.9 L157.6,131.4 L157.9,131.3 L158.2,131.1 L158.5,130.2 L158.8,129.8 L159.1,129.7 L159.4,129.7 L159.7,130.1 L160.0,129.8 L160.3,130.1 L160.7,130.6 L161.0,131.7 L161.3,131.7 L161.6,131.1 L161.9,131.1 L162.2,131.1 L162.5,131.0 L162.8,131.1 L163.1,131.0 L163.4,131.0 L163.7,130.2 L164.0,130.0 L164.3,129.4 L164.6,129.1 L164.9,129.5 L165.2,129.8 L165.5,130.4 L165.8,130.2 L166.1,130.8 L166.4,131.0 L166.7,131.1 L167.0,131.6 L167.3,131.6 L167.6,132.3 L167.9,131.6 L168.2,131.6 L168.5,131.4 L168.8,131.3 L169.1,130.5 L169.4,129.6 L169.7,129.3 L170.0,129.3 L170.3,129.2 L170.6,129.2 L170.9,129.7 L171.2,130.0 L171.5,130.4 L171.8,130.9 L172.1,131.4 L172.4,132.6 L172.7,132.5 L173.0,132.3 L173.3,131.4 L173.6,131.3 L173.9,130.9 L174.2,130.2 L174.5,130.1 L174.8,129.6 L175.1,129.9 L175.4,129.3 L175.8,129.3 L176.1,129.4 L176.4,129.5 L176.7,129.8 L177.0,129.7 L177.3,130.5 L177.6,131.2 L177.9,131.7 L178.2,132.0 L178.5,131.9 L178.8,131.7 L179.1,131.0 L179.4,130.3 L179.7,129.8 L180.0,129.9 L180.3,129.4 L180.6,129.4 L180.9,128.8 L181.2,128.7 L181.5,128.3 L181.8,128.6 L182.1,128.7 L182.4,128.9 L182.7,128.8 L183.0,128.8 L183.3,128.7 L183.6,128.6 L183.9,128.6 L184.2,128.4 L184.5,128.0 L184.8,127.7 L185.1,127.0 L185.4,126.8 L185.7,126.5 L186.0,126.4 L186.3,125.8 L186.6,125.4 L186.9,125.2 L187.2,125.4 L187.5,125.5 L187.8,125.8 L188.1,125.8 L188.4,125.9 L188.7,125.5 L189.0,125.8 L189.3,125.6 L189.6,125.9 L189.9,125.9 L190.2,126.1 L190.5,126.0 L190.9,125.8 L191.2,126.0 L191.5,126.4 L191.8,126.6 L192.1,126.5 L192.4,126.4 L192.7,126.5 L193.0,126.7 L193.3,127.0 L193.6,127.5 L193.9,127.7 L194.2,128.1 L194.5,128.0 L194.8,128.2 L195.1,128.3 L195.4,128.5 L195.7,128.6 L196.0,128.9 L196.3,129.3 L196.6,129.4 L196.9,129.3 L197.2,129.3 L197.5,129.3 L197.8,129.5 L198.1,129.6 L198.4,129.5 L198.7,129.5 L199.0,129.4 L199.3,129.4 L199.6,129.2 L199.9,129.1 L200.2,129.1 L200.5,129.0 L200.8,128.9 L201.1,128.9 L201.4,128.8 L201.7,128.8 L202.0,128.7 L202.3,128.6 L202.6,128.5 L202.9,128.5 L203.2,128.4 L203.5,128.4 L203.8,128.4 L204.1,128.4 L204.4,128.4 L204.7,128.5 L205.0,128.5 L205.3,128.6 L205.6,128.7 L206.0,128.8 L206.3,128.9 L206.6,129.1 L206.9,129.2 L207.2,129.4 L207.5,129.5 L207.8,129.7 L208.1,129.8 L208.4,130.0 L208.7,130.1 L209.0,130.2 L209.3,130.4 L209.6,130.5 L209.9,130.6 L210.2,130.6 L210.5,130.7 L210.8,130.7 L211.1,130.7 L211.4,130.6 L211.7,130.5 L212.0,130.4 L212.3,130.2 L212.6,130.1 L212.9,129.8 L213.2,129.6 L213.5,129.3 L213.8,129.0 L214.1,128.7 L214.4,128.3 L214.7,128.0 L215.0,127.6 L215.3,127.2 L215.6,126.9 L215.9,126.5 L216.2,126.2 L216.5,125.8 L216.8,125.5 L217.1,125.2 L217.4,124.9 L217.7,124.6 L218.0,124.3 L218.3,124.1 L218.6,123.9 L218.9,123.8 L219.2,123.7 L219.5,123.6 L219.8,123.6 L220.1,123.6 L220.4,123.7 L220.7,123.8 L221.1,123.9 L221.4,124.1 L221.7,124.3 L222.0,124.5 L222.3,124.7 L222.6,125.0 L222.9,125.3 L223.2,125.6 L223.5,125.9 L223.8,126.2 L224.1,126.5 L224.4,126.9 L224.7,127.2 L225.0,127.5 L225.3,127.8 L225.6,128.1 L225.9,128.4 L226.2,128.7 L226.5,128.9 L226.8,129.2 L227.1,129.4 L227.4,129.6 L227.7,129.8 L228.0,129.9 L228.3,130.1 L228.6,130.2 L228.9,130.4 L229.2,130.5 L229.5,130.6 L229.8,130.6 L230.1,130.7 L230.4,130.7 L230.7,130.7 L231.0,130.7 L231.3,130.7 L231.6,130.7 L231.9,130.7 L232.2,130.6 L232.5,130.5 L232.8,130.5 L233.1,130.4 L233.4,130.2 L233.7,130.1 L234.0,129.9 L234.3,129.8 L234.6,129.6 L234.9,129.4 L235.2,129.2 L235.5,129.0 L235.8,128.8 L236.2,128.5 L236.5,128.3 L236.8,128.0 L237.1,127.7 L237.4,127.4 L237.7,127.1 L238.0,126.8 L238.3,126.5 L238.6,126.2 L238.9,125.8 L239.2,125.5 L239.5,125.1 L239.8,124.8 L240.1,124.4 L240.4,124.0 L240.7,123.6 L241.0,123.3 L241.3,122.9 L241.6,122.5 L241.9,122.1 L242.2,121.8 L242.5,121.4 L242.8,121.0 L243.1,120.7 L243.4,120.4 L243.7,120.1 L244.0,119.8 L244.3,119.5 L244.6,119.3 L244.9,119.1 L245.2,118.9 L245.5,118.8 L245.8,118.6 L246.1,118.6 L246.4,118.5 L246.7,118.5 L247.0,118.5 L247.3,118.6 L247.6,118.7 L247.9,118.9 L248.2,119.0 L248.5,119.2 L248.8,119.4 L249.1,119.7 L249.4,119.9 L249.7,120.2 L250.0,120.5 L250.3,120.8 L250.6,121.0 L250.9,121.3 L251.3,121.6 L251.6,121.9 L251.9,122.1 L252.2,122.4 L252.5,122.6 L252.8,122.8 L253.1,123.0 L253.4,123.2 L253.7,123.4 L254.0,123.5 L254.3,123.6 L254.6,123.7 L254.9,123.7 L255.2,123.8 L255.5,123.8 L255.8,123.8 L256.1,123.9 L256.4,123.9 L256.7,123.8 L257.0,123.8 L257.3,123.8 L257.6,123.8 L257.9,123.7 L258.2,123.7 L258.5,123.7 L258.8,123.6 L259.1,123.6 L259.4,123.6 L259.7,123.5 L260.0,123.5 L260.3,123.5 L260.6,123.5 L260.9,123.5 L261.2,123.5 L261.5,123.5 L261.8,123.5 L262.1,123.5 L262.4,123.5 L262.7,123.5 L263.0,123.6 L263.3,123.6 L263.6,123.6 L263.9,123.7 L264.2,123.7 L264.5,123.7 L264.8,123.8 L265.1,123.8 L265.4,123.9 L265.7,123.9 L266.0,123.9 L266.4,124.0 L266.7,124.1 L267.0,124.2 L267.3,124.3 L267.6,124.4 L267.9,124.5 L268.2,124.7 L268.5,124.8 L268.8,125.1 L269.1,125.3 L269.4,125.6 L269.7,125.9 L270.0,126.2 L270.3,126.6 L270.6,127.0 L270.9,127.4 L271.2,127.8 L271.5,128.3 L271.8,128.7 L272.1,129.2 L272.4,129.6 L272.7,130.1 L273.0,130.5 L273.3,131.0 L273.6,131.4 L273.9,131.8 L274.2,132.2 L274.5,132.6 L274.8,133.1 L275.1,133.5 L275.4,133.9 L275.7,134.3 L276.0,134.7 L276.3,135.1 L276.6,135.5 L276.9,135.9 L277.2,136.3 L277.5,136.7 L277.8,137.1 L278.1,137.5 L278.4,137.9 L278.7,138.3 L279.0,138.6 L279.3,139.0 L279.6,139.4 L279.9,139.7 L280.2,140.0 L280.5,140.4 L280.8,140.7 L281.1,141.0 L281.5,141.2 L281.8,141.5 L282.1,141.7 L282.4,142.0 L282.7,142.2 L283.0,142.4 L283.3,142.5 L283.6,142.7 L283.9,142.8 L284.2,143.0 L284.5,143.1 L284.8,143.2 L285.1,143.3 L285.4,143.3 L285.7,143.4 L286.0,143.4 L286.3,143.4 L286.6,143.4 L286.9,143.4 L287.2,143.3 L287.5,143.3 L287.8,143.2 L288.1,143.1 L288.4,143.0 L288.7,142.9 L289.0,142.8 L289.3,142.6 L289.6,142.5 L289.9,142.3 L290.2,142.1 L290.5,141.9 L290.8,141.6 L291.1,141.4 L291.4,141.1 L291.7,140.9 L292.0,140.6 L292.3,140.3 L292.6,139.9 L292.9,139.6 L293.2,139.2 L293.5,138.8 L293.8,138.4 L294.1,138.0 L294.4,137.6 L294.7,137.1 L295.0,136.7 L295.3,136.2 L295.6,135.7 L295.9,135.2 L296.2,134.7 L296.6,134.1 L296.9,133.6 L297.2,133.0 L297.5,132.5 L297.8,132.0 L298.1,131.4 L298.4,130.9 L298.7,130.4 L299.0,129.9 L299.3,129.4 L299.6,128.9 L299.9,128.5 L300.2,128.0 L300.5,127.6 L300.8,127.2 L301.1,126.8 L301.4,126.4 L301.7,126.0 L302.0,125.6 L302.3,125.1 L302.6,124.6 L302.9,124.0 L303.2,123.4 L303.5,122.7 L303.8,121.9 L304.1,121.0 L304.4,120.0 L304.7,119.0 L305.0,118.0 L305.3,116.9 L305.6,115.7 L305.9,114.6 L306.2,113.4 L306.5,112.3 L306.8,111.1 L307.1,110.0 L307.4,108.9 L307.7,107.9 L308.0,106.9 L308.3,106.0 L308.6,105.1 L308.9,104.3 L309.2,103.6 L309.5,102.9 L309.8,102.2 L310.1,101.6 L310.4,101.0 L310.7,100.4 L311.0,99.8 L311.3,99.3 L311.7,98.7 L312.0,98.2 L312.3,97.6 L312.6,97.1 L312.9,96.5 L313.2,95.9 L313.5,95.3 L313.8,94.7 L314.1,94.0 L314.4,93.4 L314.7,92.7 L315.0,92.0 L315.3,91.2 L315.6,90.5 L315.9,89.7 L316.2,88.9 L316.5,88.1 L316.8,87.2 L317.1,86.4 L317.4,85.5 L317.7,84.6 L318.0,83.6 L318.3,82.7 L318.6,81.7 L318.9,80.7 L319.2,79.7 L319.5,78.7 L319.8,77.6 L320.1,76.5 L320.4,75.5 L320.7,74.4 L321.0,73.3 L321.3,72.1 L321.6,71.0 L321.9,69.9 L322.2,68.8 L322.5,67.6 L322.8,66.5 L323.1,65.4 L323.4,64.3 L323.7,63.2 L324.0,62.0 L324.3,60.9 L324.6,59.8 L324.9,58.7 L325.2,57.6 L325.5,56.5 L325.8,55.4 L326.1,54.3 L326.4,53.2 L326.8,52.1 L327.1,50.9 L327.4,49.8 L327.7,48.6 L328.0,47.4 L328.3,46.2 L328.6,45.0 L328.9,43.8 L329.2,42.6 L329.5,41.4 L329.8,40.1 L330.1,38.9 L330.4,37.6 L330.7,36.4 L331.0,35.1 L331.3,33.9 L331.6,32.6 L331.9,31.4 L332.2,30.1 L332.5,28.8 L332.8,27.6 L333.1,26.3 L333.4,25.0 L333.7,23.8 L334.0,22.5" stroke="#c080ff" stroke-width="1.4" stroke-dasharray="1.3,0.9"/><path d="M62.5,131.1 L62.8,131.1 L63.1,131.0 L63.4,130.6 L63.7,130.6 L64.0,130.9 L64.3,131.1 L64.6,131.2 L64.9,130.9 L65.2,131.5 L65.5,131.4 L65.8,131.4 L66.1,131.2 L66.4,131.1 L66.7,131.2 L67.0,131.0 L67.3,131.0 L67.6,131.1 L67.9,131.2 L68.2,131.2 L68.5,131.4 L68.8,131.1 L69.1,131.0 L69.4,130.8 L69.7,130.9 L70.1,131.1 L70.4,131.1 L70.7,131.3 L71.0,131.1 L71.3,130.9 L71.6,130.7 L71.9,130.8 L72.2,131.0 L72.5,131.2 L72.8,131.1 L73.1,130.7 L73.4,130.5 L73.7,130.5 L74.0,130.8 L74.3,131.1 L74.6,131.1 L74.9,131.0 L75.2,130.9 L75.5,131.0 L75.8,130.9 L76.1,130.9 L76.4,130.8 L76.7,130.9 L77.0,130.6 L77.3,130.8 L77.6,131.0 L77.9,131.1 L78.2,131.1 L78.5,130.9 L78.8,131.3 L79.1,131.4 L79.4,131.4 L79.7,131.1 L80.0,131.1 L80.3,131.2 L80.6,131.0 L80.9,130.9 L81.2,130.9 L81.5,131.1 L81.8,131.0 L82.1,130.9 L82.4,130.7 L82.7,130.6 L83.0,130.5 L83.3,130.8 L83.6,131.1 L83.9,131.3 L84.2,131.4 L84.5,131.4 L84.8,131.1 L85.2,130.9 L85.5,130.6 L85.8,130.7 L86.1,130.7 L86.4,130.9 L86.7,131.1 L87.0,130.8 L87.3,130.9 L87.6,130.7 L87.9,131.1 L88.2,131.0 L88.5,130.9 L88.8,130.9 L89.1,130.8 L89.4,131.0 L89.7,130.8 L90.0,130.9 L90.3,130.8 L90.6,131.2 L90.9,131.3 L91.2,131.3 L91.5,131.3 L91.8,131.2 L92.1,131.1 L92.4,130.8 L92.7,130.8 L93.0,130.8 L93.3,130.9 L93.6,130.6 L93.9,130.5 L94.2,130.7 L94.5,130.9 L94.8,130.8 L95.1,130.6 L95.4,130.6 L95.7,130.9 L96.0,131.1 L96.3,131.0 L96.6,130.8 L96.9,130.8 L97.2,131.4 L97.5,131.2 L97.8,131.3 L98.1,131.0 L98.4,131.1 L98.7,131.1 L99.0,131.1 L99.3,131.0 L99.6,130.9 L99.9,130.8 L100.3,130.7 L100.6,130.7 L100.9,130.6 L101.2,130.7 L101.5,130.8 L101.8,130.9 L102.1,131.0 L102.4,131.0 L102.7,131.1 L103.0,131.0 L103.3,131.0 L103.6,131.0 L103.9,131.0 L104.2,130.8 L104.5,130.9 L104.8,130.8 L105.1,130.5 L105.4,130.4 L105.7,130.3 L106.0,131.1 L106.3,130.9 L106.6,131.0 L106.9,131.0 L107.2,131.0 L107.5,130.9 L107.8,130.8 L108.1,131.1 L108.4,131.5 L108.7,131.8 L109.0,131.6 L109.3,131.5 L109.6,131.5 L109.9,131.5 L110.2,131.3 L110.5,131.2 L110.8,131.0 L111.1,131.0 L111.4,130.9 L111.7,131.0 L112.0,131.3 L112.3,131.3 L112.6,131.3 L112.9,131.1 L113.2,131.0 L113.5,131.0 L113.8,131.2 L114.1,131.4 L114.4,131.4 L114.7,131.1 L115.0,130.9 L115.4,131.0 L115.7,130.8 L116.0,131.0 L116.3,131.0 L116.6,131.4 L116.9,131.5 L117.2,131.6 L117.5,131.3 L117.8,130.8 L118.1,130.9 L118.4,131.3 L118.7,131.3 L119.0,130.9 L119.3,131.0 L119.6,131.3 L119.9,131.9 L120.2,131.8 L120.5,131.9 L120.8,131.5 L121.1,131.3 L121.4,130.8 L121.7,130.3 L122.0,130.6 L122.3,131.1 L122.6,131.5 L122.9,131.5 L123.2,131.0 L123.5,131.5 L123.8,131.4 L124.1,132.0 L124.4,131.4 L124.7,131.6 L125.0,131.4 L125.3,131.8 L125.6,131.3 L125.9,131.2 L126.2,131.2 L126.5,131.3 L126.8,130.9 L127.1,130.7 L127.4,130.6 L127.7,131.1 L128.0,131.5 L128.3,132.0 L128.6,132.0 L128.9,131.5 L129.2,131.0 L129.5,130.6 L129.8,130.7 L130.1,131.0 L130.5,131.2 L130.8,131.3 L131.1,131.3 L131.4,131.7 L131.7,132.0 L132.0,131.5 L132.3,130.8 L132.6,130.3 L132.9,130.7 L133.2,131.2 L133.5,131.5 L133.8,132.0 L134.1,131.7 L134.4,131.5 L134.7,130.5 L135.0,130.2 L135.3,130.5 L135.6,131.0 L135.9,131.8 L136.2,132.1 L136.5,131.5 L136.8,130.6 L137.1,130.2 L137.4,130.2 L137.7,131.2 L138.0,131.8 L138.3,133.0 L138.6,132.7 L138.9,131.5 L139.2,129.9 L139.5,129.8 L139.8,130.8 L140.1,132.1 L140.4,132.8 L140.7,133.1 L141.0,132.0 L141.3,130.9 L141.6,129.5 L141.9,129.6 L142.2,130.6 L142.5,131.7 L142.8,132.3 L143.1,131.9 L143.4,131.2 L143.7,130.3 L144.0,130.3 L144.3,130.5 L144.6,131.2 L144.9,131.8 L145.2,132.2 L145.6,131.8 L145.9,131.3 L146.2,130.6 L146.5,130.5 L146.8,130.2 L147.1,130.9 L147.4,131.2 L147.7,131.4 L148.0,131.5 L148.3,130.9 L148.6,130.1 L148.9,130.0 L149.2,130.4 L149.5,131.3 L149.8,131.3 L150.1,131.1 L150.4,130.8 L150.7,130.1 L151.0,130.2 L151.3,130.3 L151.6,130.6 L151.9,130.4 L152.2,130.1 L152.5,130.3 L152.8,130.2 L153.1,130.7 L153.4,131.0 L153.7,131.4 L154.0,130.7 L154.3,130.3 L154.6,129.9 L154.9,130.0 L155.2,130.0 L155.5,130.0 L155.8,130.3 L156.1,130.7 L156.4,131.2 L156.7,131.3 L157.0,131.0 L157.3,130.8 L157.6,130.7 L157.9,130.9 L158.2,130.9 L158.5,131.0 L158.8,130.9 L159.1,131.1 L159.4,130.9 L159.7,130.8 L160.0,130.0 L160.3,129.6 L160.7,129.3 L161.0,129.9 L161.3,130.4 L161.6,131.3 L161.9,131.5 L162.2,131.7 L162.5,131.8 L162.8,131.7 L163.1,131.6 L163.4,131.8 L163.7,132.0 L164.0,131.9 L164.3,130.9 L164.6,130.8 L164.9,130.7 L165.2,130.0 L165.5,129.6 L165.8,129.5 L166.1,130.5 L166.4,130.6 L166.7,130.9 L167.0,131.6 L167.3,132.6 L167.6,132.6 L167.9,132.5 L168.2,132.1 L168.5,132.5 L168.8,131.5 L169.1,131.6 L169.4,131.1 L169.7,131.7 L170.0,130.7 L170.3,130.1 L170.6,129.2 L170.9,129.5 L171.2,129.6 L171.5,130.5 L171.8,130.8 L172.1,130.5 L172.4,130.5 L172.7,130.8 L173.0,131.9 L173.3,132.3 L173.6,132.2 L173.9,131.9 L174.2,131.8 L174.5,131.5 L174.8,131.2 L175.1,130.2 L175.4,130.1 L175.8,129.9 L176.1,129.7 L176.4,128.9 L176.7,128.2 L177.0,128.1 L177.3,128.3 L177.6,128.7 L177.9,128.6 L178.2,128.7 L178.5,128.6 L178.8,129.4 L179.1,129.6 L179.4,129.9 L179.7,129.8 L180.0,129.6 L180.3,128.8 L180.6,127.9 L180.9,128.0 L181.2,128.2 L181.5,128.3 L181.8,127.7 L182.1,127.5 L182.4,127.2 L182.7,127.6 L183.0,127.7 L183.3,128.2 L183.6,128.6 L183.9,128.6 L184.2,128.6 L184.5,128.6 L184.8,129.2 L185.1,129.3 L185.4,129.0 L185.7,128.8 L186.0,129.0 L186.3,129.0 L186.6,129.1 L186.9,129.4 L187.2,129.4 L187.5,129.1 L187.8,129.1 L188.1,128.9 L188.4,129.2 L188.7,129.1 L189.0,129.1 L189.3,129.1 L189.6,129.2 L189.9,129.5 L190.2,129.0 L190.5,128.7 L190.9,129.0 L191.2,129.1 L191.5,129.2 L191.8,128.7 L192.1,128.6 L192.4,128.2 L192.7,128.2 L193.0,128.1 L193.3,128.1 L193.6,127.8 L193.9,127.6 L194.2,127.4 L194.5,127.3 L194.8,127.1 L195.1,126.9 L195.4,126.8 L195.7,126.9 L196.0,126.8 L196.3,126.6 L196.6,126.2 L196.9,126.0 L197.2,126.0 L197.5,125.9 L197.8,125.9 L198.1,125.8 L198.4,125.7 L198.7,125.7 L199.0,125.7 L199.3,125.7 L199.6,125.7 L199.9,125.7 L200.2,125.6 L200.5,125.8 L200.8,125.9 L201.1,126.1 L201.4,126.3 L201.7,126.4 L202.0,126.5 L202.3,126.7 L202.6,126.9 L202.9,127.1 L203.2,127.3 L203.5,127.5 L203.8,127.7 L204.1,127.8 L204.4,128.0 L204.7,128.2 L205.0,128.3 L205.3,128.4 L205.6,128.6 L206.0,128.7 L206.3,128.8 L206.6,128.9 L206.9,128.9 L207.2,129.0 L207.5,129.0 L207.8,129.0 L208.1,129.1 L208.4,129.1 L208.7,129.1 L209.0,129.0 L209.3,129.0 L209.6,129.0 L209.9,129.0 L210.2,128.9 L210.5,128.9 L210.8,128.9 L211.1,128.8 L211.4,128.8 L211.7,128.8 L212.0,128.7 L212.3,128.7 L212.6,128.7 L212.9,128.7 L213.2,128.7 L213.5,128.7 L213.8,128.7 L214.1,128.7 L214.4,128.7 L214.7,128.8 L215.0,128.8 L215.3,128.9 L215.6,128.9 L215.9,129.0 L216.2,129.1 L216.5,129.1 L216.8,129.2 L217.1,129.3 L217.4,129.3 L217.7,129.4 L218.0,129.4 L218.3,129.5 L218.6,129.5 L218.9,129.6 L219.2,129.6 L219.5,129.6 L219.8,129.6 L220.1,129.5 L220.4,129.5 L220.7,129.4 L221.1,129.4 L221.4,129.3 L221.7,129.2 L222.0,129.0 L222.3,128.9 L222.6,128.7 L222.9,128.5 L223.2,128.2 L223.5,128.0 L223.8,127.8 L224.1,127.5 L224.4,127.2 L224.7,127.0 L225.0,126.7 L225.3,126.4 L225.6,126.1 L225.9,125.8 L226.2,125.6 L226.5,125.3 L226.8,125.1 L227.1,124.8 L227.4,124.6 L227.7,124.4 L228.0,124.2 L228.3,124.1 L228.6,123.9 L228.9,123.8 L229.2,123.8 L229.5,123.7 L229.8,123.7 L230.1,123.7 L230.4,123.8 L230.7,123.9 L231.0,124.0 L231.3,124.2 L231.6,124.3 L231.9,124.5 L232.2,124.8 L232.5,125.0 L232.8,125.3 L233.1,125.5 L233.4,125.8 L233.7,126.1 L234.0,126.4 L234.3,126.7 L234.6,127.0 L234.9,127.3 L235.2,127.6 L235.5,127.8 L235.8,128.1 L236.2,128.4 L236.5,128.6 L236.8,128.8 L237.1,129.0 L237.4,129.2 L237.7,129.4 L238.0,129.5 L238.3,129.6 L238.6,129.8 L238.9,129.8 L239.2,129.9 L239.5,130.0 L239.8,130.0 L240.1,130.0 L240.4,130.0 L240.7,130.0 L241.0,130.0 L241.3,130.0 L241.6,130.0 L241.9,129.9 L242.2,129.9 L242.5,129.8 L242.8,129.8 L243.1,129.7 L243.4,129.6 L243.7,129.6 L244.0,129.5 L244.3,129.4 L244.6,129.3 L244.9,129.3 L245.2,129.2 L245.5,129.1 L245.8,129.0 L246.1,128.9 L246.4,128.8 L246.7,128.7 L247.0,128.6 L247.3,128.5 L247.6,128.4 L247.9,128.3 L248.2,128.1 L248.5,128.0 L248.8,127.9 L249.1,127.7 L249.4,127.6 L249.7,127.4 L250.0,127.3 L250.3,127.1 L250.6,126.9 L250.9,126.7 L251.3,126.5 L251.6,126.3 L251.9,126.1 L252.2,125.9 L252.5,125.7 L252.8,125.4 L253.1,125.2 L253.4,124.9 L253.7,124.7 L254.0,124.4 L254.3,124.1 L254.6,123.9 L254.9,123.6 L255.2,123.3 L255.5,123.0 L255.8,122.7 L256.1,122.5 L256.4,122.2 L256.7,121.9 L257.0,121.7 L257.3,121.4 L257.6,121.1 L257.9,120.9 L258.2,120.6 L258.5,120.4 L258.8,120.1 L259.1,119.9 L259.4,119.7 L259.7,119.5 L260.0,119.3 L260.3,119.1 L260.6,118.9 L260.9,118.8 L261.2,118.6 L261.5,118.4 L261.8,118.3 L262.1,118.2 L262.4,118.0 L262.7,117.9 L263.0,117.8 L263.3,117.7 L263.6,117.6 L263.9,117.5 L264.2,117.5 L264.5,117.4 L264.8,117.3 L265.1,117.3 L265.4,117.3 L265.7,117.2 L266.0,117.2 L266.4,117.2 L266.7,117.2 L267.0,117.2 L267.3,117.2 L267.6,117.2 L267.9,117.2 L268.2,117.2 L268.5,117.2 L268.8,117.3 L269.1,117.3 L269.4,117.3 L269.7,117.4 L270.0,117.4 L270.3,117.4 L270.6,117.5 L270.9,117.5 L271.2,117.5 L271.5,117.5 L271.8,117.6 L272.1,117.6 L272.4,117.6 L272.7,117.6 L273.0,117.7 L273.3,117.7 L273.6,117.7 L273.9,117.7 L274.2,117.8 L274.5,117.8 L274.8,117.9 L275.1,117.9 L275.4,118.0 L275.7,118.0 L276.0,118.1 L276.3,118.2 L276.6,118.3 L276.9,118.4 L277.2,118.5 L277.5,118.6 L277.8,118.7 L278.1,118.8 L278.4,118.9 L278.7,119.0 L279.0,119.2 L279.3,119.3 L279.6,119.4 L279.9,119.6 L280.2,119.7 L280.5,119.8 L280.8,120.0 L281.1,120.1 L281.5,120.2 L281.8,120.4 L282.1,120.5 L282.4,120.7 L282.7,120.8 L283.0,120.9 L283.3,121.1 L283.6,121.2 L283.9,121.3 L284.2,121.5 L284.5,121.6 L284.8,121.7 L285.1,121.9 L285.4,122.0 L285.7,122.1 L286.0,122.2 L286.3,122.3 L286.6,122.5 L286.9,122.6 L287.2,122.7 L287.5,122.8 L287.8,122.9 L288.1,123.0 L288.4,123.1 L288.7,123.2 L289.0,123.2 L289.3,123.3 L289.6,123.4 L289.9,123.5 L290.2,123.5 L290.5,123.6 L290.8,123.7 L291.1,123.7 L291.4,123.8 L291.7,123.8 L292.0,123.9 L292.3,123.9 L292.6,124.0 L292.9,124.0 L293.2,124.0 L293.5,124.1 L293.8,124.1 L294.1,124.1 L294.4,124.1 L294.7,124.2 L295.0,124.2 L295.3,124.2 L295.6,124.2 L295.9,124.2 L296.2,124.3 L296.6,124.3 L296.9,124.3 L297.2,124.3 L297.5,124.3 L297.8,124.3 L298.1,124.4 L298.4,124.4 L298.7,124.4 L299.0,124.4 L299.3,124.4 L299.6,124.4 L299.9,124.5 L300.2,124.5 L300.5,124.5 L300.8,124.5 L301.1,124.5 L301.4,124.5 L301.7,124.5 L302.0,124.5 L302.3,124.5 L302.6,124.5 L302.9,124.5 L303.2,124.5 L303.5,124.5 L303.8,124.5 L304.1,124.5 L304.4,124.5 L304.7,124.5 L305.0,124.4 L305.3,124.4 L305.6,124.4 L305.9,124.4 L306.2,124.3 L306.5,124.3 L306.8,124.3 L307.1,124.2 L307.4,124.2 L307.7,124.1 L308.0,124.1 L308.3,124.0 L308.6,123.9 L308.9,123.9 L309.2,123.8 L309.5,123.7 L309.8,123.6 L310.1,123.6 L310.4,123.5 L310.7,123.4 L311.0,123.3 L311.3,123.2 L311.7,123.1 L312.0,123.0 L312.3,122.9 L312.6,122.7 L312.9,122.6 L313.2,122.5 L313.5,122.3 L313.8,122.2 L314.1,122.1 L314.4,121.9 L314.7,121.8 L315.0,121.6 L315.3,121.4 L315.6,121.3 L315.9,121.1 L316.2,120.9 L316.5,120.7 L316.8,120.5 L317.1,120.3 L317.4,120.1 L317.7,119.9 L318.0,119.6 L318.3,119.4 L318.6,119.1 L318.9,118.8 L319.2,118.6 L319.5,118.3 L319.8,117.9 L320.1,117.6 L320.4,117.2 L320.7,116.9 L321.0,116.5 L321.3,116.1 L321.6,115.6 L321.9,115.2 L322.2,114.7 L322.5,114.3 L322.8,113.8 L323.1,113.3 L323.4,112.8 L323.7,112.2 L324.0,111.7 L324.3,111.2 L324.6,110.6 L324.9,110.1 L325.2,109.6 L325.5,109.0 L325.8,108.5 L326.1,107.9 L326.4,107.3 L326.8,106.7 L327.1,106.1 L327.4,105.4 L327.7,104.7 L328.0,104.0 L328.3,103.2 L328.6,102.3 L328.9,101.4 L329.2,100.5 L329.5,99.4 L329.8,98.3 L330.1,97.2 L330.4,96.0 L330.7,94.7 L331.0,93.4 L331.3,92.0 L331.6,90.6 L331.9,89.1 L332.2,87.6 L332.5,86.1 L332.8,84.5 L333.1,82.9 L333.4,81.3 L333.7,79.6 L334.0,78.0" stroke="#90ee90" stroke-width="1.4" stroke-dasharray="1.3,0.9"/><path d="M62.5,131.2 L62.8,131.2 L63.1,131.0 L63.4,130.9 L63.7,130.9 L64.0,130.9 L64.3,130.7 L64.6,130.9 L64.9,131.0 L65.2,131.1 L65.5,131.0 L65.8,130.9 L66.1,131.0 L66.4,131.0 L66.7,130.7 L67.0,130.8 L67.3,130.9 L67.6,131.1 L67.9,130.8 L68.2,131.0 L68.5,131.0 L68.8,131.2 L69.1,131.2 L69.4,131.2 L69.7,131.0 L70.1,130.7 L70.4,130.4 L70.7,130.7 L71.0,130.7 L71.3,131.0 L71.6,131.0 L71.9,130.8 L72.2,131.0 L72.5,130.5 L72.8,130.7 L73.1,130.4 L73.4,130.9 L73.7,131.2 L74.0,131.4 L74.3,131.3 L74.6,131.0 L74.9,131.1 L75.2,130.9 L75.5,130.7 L75.8,130.4 L76.1,130.5 L76.4,131.1 L76.7,131.4 L77.0,131.2 L77.3,131.2 L77.6,131.2 L77.9,131.3 L78.2,131.0 L78.5,131.0 L78.8,130.9 L79.1,130.7 L79.4,130.8 L79.7,130.8 L80.0,131.2 L80.3,131.0 L80.6,130.8 L80.9,130.6 L81.2,130.9 L81.5,131.1 L81.8,131.0 L82.1,130.6 L82.4,130.5 L82.7,130.6 L83.0,130.6 L83.3,130.9 L83.6,130.9 L83.9,131.1 L84.2,131.1 L84.5,131.4 L84.8,131.3 L85.2,131.2 L85.5,131.1 L85.8,131.1 L86.1,130.8 L86.4,130.8 L86.7,130.9 L87.0,131.2 L87.3,131.0 L87.6,130.8 L87.9,130.7 L88.2,130.8 L88.5,131.0 L88.8,131.3 L89.1,131.4 L89.4,131.3 L89.7,131.2 L90.0,131.1 L90.3,131.0 L90.6,130.8 L90.9,130.8 L91.2,131.2 L91.5,131.4 L91.8,131.4 L92.1,131.0 L92.4,130.7 L92.7,130.8 L93.0,130.9 L93.3,130.9 L93.6,130.9 L93.9,130.7 L94.2,131.2 L94.5,131.1 L94.8,131.5 L95.1,131.2 L95.4,131.1 L95.7,130.9 L96.0,131.1 L96.3,131.3 L96.6,131.0 L96.9,130.9 L97.2,130.8 L97.5,130.9 L97.8,130.8 L98.1,131.1 L98.4,131.1 L98.7,131.1 L99.0,130.9 L99.3,131.0 L99.6,131.1 L99.9,131.1 L100.3,131.2 L100.6,131.3 L100.9,131.3 L101.2,131.3 L101.5,131.1 L101.8,130.9 L102.1,130.8 L102.4,130.9 L102.7,130.8 L103.0,130.6 L103.3,130.6 L103.6,130.5 L103.9,130.5 L104.2,130.6 L104.5,130.7 L104.8,131.1 L105.1,130.9 L105.4,130.9 L105.7,130.6 L106.0,130.6 L106.3,130.7 L106.6,130.8 L106.9,130.8 L107.2,130.6 L107.5,130.8 L107.8,130.5 L108.1,130.7 L108.4,130.9 L108.7,131.4 L109.0,131.7 L109.3,131.3 L109.6,131.3 L109.9,131.2 L110.2,131.6 L110.5,131.3 L110.8,131.2 L111.1,131.4 L111.4,131.3 L111.7,131.3 L112.0,131.1 L112.3,131.3 L112.6,131.3 L112.9,130.9 L113.2,130.9 L113.5,130.6 L113.8,130.9 L114.1,131.0 L114.4,131.3 L114.7,131.1 L115.0,131.1 L115.4,131.1 L115.7,131.4 L116.0,131.2 L116.3,131.1 L116.6,130.9 L116.9,131.3 L117.2,131.2 L117.5,131.5 L117.8,131.5 L118.1,131.1 L118.4,130.6 L118.7,130.7 L119.0,131.0 L119.3,131.5 L119.6,131.4 L119.9,131.3 L120.2,131.3 L120.5,131.1 L120.8,130.8 L121.1,131.0 L121.4,130.8 L121.7,131.4 L122.0,131.1 L122.3,131.6 L122.6,131.1 L122.9,131.1 L123.2,130.8 L123.5,130.8 L123.8,130.5 L124.1,131.0 L124.4,131.4 L124.7,131.6 L125.0,131.4 L125.3,131.3 L125.6,130.8 L125.9,130.8 L126.2,131.0 L126.5,131.2 L126.8,131.4 L127.1,131.2 L127.4,131.1 L127.7,131.0 L128.0,131.0 L128.3,131.2 L128.6,131.2 L128.9,131.8 L129.2,131.7 L129.5,131.6 L129.8,130.9 L130.1,130.8 L130.5,130.9 L130.8,130.9 L131.1,131.1 L131.4,131.3 L131.7,131.6 L132.0,131.5 L132.3,131.3 L132.6,131.0 L132.9,131.0 L133.2,131.2 L133.5,131.8 L133.8,132.0 L134.1,131.8 L134.4,131.4 L134.7,130.9 L135.0,130.1 L135.3,130.3 L135.6,130.6 L135.9,131.8 L136.2,131.8 L136.5,132.1 L136.8,131.2 L137.1,130.8 L137.4,129.7 L137.7,129.9 L138.0,130.5 L138.3,131.5 L138.6,132.1 L138.9,131.9 L139.2,131.4 L139.5,130.3 L139.8,129.8 L140.1,130.0 L140.4,131.1 L140.7,132.4 L141.0,132.7 L141.3,131.6 L141.6,130.5 L141.9,129.9 L142.2,130.4 L142.5,130.8 L142.8,131.4 L143.1,131.7 L143.4,131.9 L143.7,131.1 L144.0,130.8 L144.3,130.4 L144.6,130.4 L144.9,130.9 L145.2,131.6 L145.6,131.9 L145.9,131.3 L146.2,129.9 L146.5,129.8 L146.8,129.6 L147.1,130.0 L147.4,129.8 L147.7,130.2 L148.0,130.9 L148.3,131.0 L148.6,130.8 L148.9,130.2 L149.2,129.9 L149.5,130.2 L149.8,130.8 L150.1,131.1 L150.4,131.2 L150.7,130.7 L151.0,130.5 L151.3,130.6 L151.6,131.5 L151.9,131.7 L152.2,131.8 L152.5,131.0 L152.8,130.8 L153.1,130.3 L153.4,130.1 L153.7,130.3 L154.0,130.8 L154.3,131.1 L154.6,130.8 L154.9,130.6 L155.2,130.0 L155.5,129.6 L155.8,129.3 L156.1,129.7 L156.4,130.9 L156.7,131.4 L157.0,131.4 L157.3,130.7 L157.6,131.1 L157.9,131.0 L158.2,131.0 L158.5,130.6 L158.8,131.1 L159.1,131.4 L159.4,131.0 L159.7,130.1 L160.0,129.8 L160.3,129.7 L160.7,129.4 L161.0,129.7 L161.3,130.3 L161.6,131.0 L161.9,131.0 L162.2,131.0 L162.5,131.0 L162.8,130.8 L163.1,130.9 L163.4,130.9 L163.7,131.5 L164.0,131.1 L164.3,131.4 L164.6,131.0 L164.9,131.5 L165.2,130.8 L165.5,130.1 L165.8,129.2 L166.1,129.0 L166.4,129.2 L166.7,129.6 L167.0,130.3 L167.3,131.1 L167.6,131.2 L167.9,132.0 L168.2,132.5 L168.5,133.0 L168.8,132.0 L169.1,131.7 L169.4,131.7 L169.7,131.6 L170.0,131.3 L170.3,130.8 L170.6,130.7 L170.9,130.4 L171.2,130.3 L171.5,130.0 L171.8,129.7 L172.1,129.2 L172.4,129.1 L172.7,129.3 L173.0,129.9 L173.3,130.4 L173.6,130.2 L173.9,130.6 L174.2,130.6 L174.5,131.4 L174.8,131.7 L175.1,132.0 L175.4,131.4 L175.8,130.2 L176.1,130.1 L176.4,129.9 L176.7,129.9 L177.0,129.4 L177.3,129.1 L177.6,128.6 L177.9,128.1 L178.2,127.4 L178.5,127.3 L178.8,127.7 L179.1,128.6 L179.4,129.4 L179.7,129.6 L180.0,129.8 L180.3,129.9 L180.6,129.7 L180.9,129.5 L181.2,128.7 L181.5,128.9 L181.8,128.6 L182.1,128.8 L182.4,128.6 L182.7,128.6 L183.0,128.3 L183.3,128.0 L183.6,127.5 L183.9,127.6 L184.2,127.6 L184.5,127.7 L184.8,128.0 L185.1,128.0 L185.4,128.5 L185.7,128.3 L186.0,128.6 L186.3,128.7 L186.6,128.6 L186.9,128.0 L187.2,127.6 L187.5,127.8 L187.8,127.9 L188.1,127.7 L188.4,127.6 L188.7,127.1 L189.0,127.1 L189.3,126.8 L189.6,127.3 L189.9,127.4 L190.2,127.5 L190.5,127.4 L190.9,127.4 L191.2,127.6 L191.5,127.5 L191.8,127.7 L192.1,127.6 L192.4,127.8 L192.7,127.8 L193.0,127.9 L193.3,127.8 L193.6,127.6 L193.9,127.6 L194.2,127.5 L194.5,127.6 L194.8,127.5 L195.1,127.4 L195.4,127.5 L195.7,127.7 L196.0,127.7 L196.3,127.6 L196.6,127.4 L196.9,127.5 L197.2,127.5 L197.5,127.6 L197.8,127.3 L198.1,127.2 L198.4,127.1 L198.7,127.2 L199.0,127.2 L199.3,127.2 L199.6,127.3 L199.9,127.4 L200.2,127.3 L200.5,127.2 L200.8,127.2 L201.1,127.3 L201.4,127.3 L201.7,127.2 L202.0,127.2 L202.3,127.3 L202.6,127.3 L202.9,127.4 L203.2,127.3 L203.5,127.3 L203.8,127.4 L204.1,127.4 L204.4,127.4 L204.7,127.4 L205.0,127.4 L205.3,127.4 L205.6,127.4 L206.0,127.4 L206.3,127.5 L206.6,127.5 L206.9,127.5 L207.2,127.5 L207.5,127.5 L207.8,127.5 L208.1,127.5 L208.4,127.5 L208.7,127.6 L209.0,127.6 L209.3,127.6 L209.6,127.6 L209.9,127.6 L210.2,127.6 L210.5,127.6 L210.8,127.6 L211.1,127.6 L211.4,127.6 L211.7,127.6 L212.0,127.6 L212.3,127.6 L212.6,127.6 L212.9,127.6 L213.2,127.6 L213.5,127.6 L213.8,127.5 L214.1,127.5 L214.4,127.5 L214.7,127.5 L215.0,127.5 L215.3,127.5 L215.6,127.5 L215.9,127.4 L216.2,127.4 L216.5,127.4 L216.8,127.4 L217.1,127.4 L217.4,127.4 L217.7,127.3 L218.0,127.3 L218.3,127.3 L218.6,127.3 L218.9,127.3 L219.2,127.3 L219.5,127.2 L219.8,127.2 L220.1,127.2 L220.4,127.2 L220.7,127.2 L221.1,127.2 L221.4,127.2 L221.7,127.2 L222.0,127.2 L222.3,127.2 L222.6,127.2 L222.9,127.2 L223.2,127.2 L223.5,127.2 L223.8,127.2 L224.1,127.2 L224.4,127.3 L224.7,127.3 L225.0,127.3 L225.3,127.3 L225.6,127.4 L225.9,127.4 L226.2,127.4 L226.5,127.5 L226.8,127.5 L227.1,127.5 L227.4,127.6 L227.7,127.6 L228.0,127.6 L228.3,127.7 L228.6,127.7 L228.9,127.7 L229.2,127.7 L229.5,127.8 L229.8,127.8 L230.1,127.8 L230.4,127.8 L230.7,127.8 L231.0,127.8 L231.3,127.8 L231.6,127.8 L231.9,127.7 L232.2,127.7 L232.5,127.7 L232.8,127.6 L233.1,127.6 L233.4,127.5 L233.7,127.4 L234.0,127.3 L234.3,127.3 L234.6,127.1 L234.9,127.0 L235.2,126.9 L235.5,126.7 L235.8,126.6 L236.2,126.4 L236.5,126.3 L236.8,126.1 L237.1,125.9 L237.4,125.7 L237.7,125.5 L238.0,125.3 L238.3,125.1 L238.6,124.9 L238.9,124.8 L239.2,124.6 L239.5,124.4 L239.8,124.2 L240.1,124.0 L240.4,123.9 L240.7,123.7 L241.0,123.5 L241.3,123.4 L241.6,123.3 L241.9,123.2 L242.2,123.1 L242.5,123.0 L242.8,122.9 L243.1,122.8 L243.4,122.8 L243.7,122.8 L244.0,122.8 L244.3,122.8 L244.6,122.8 L244.9,122.8 L245.2,122.8 L245.5,122.9 L245.8,122.9 L246.1,123.0 L246.4,123.0 L246.7,123.1 L247.0,123.2 L247.3,123.2 L247.6,123.3 L247.9,123.4 L248.2,123.5 L248.5,123.6 L248.8,123.7 L249.1,123.8 L249.4,123.8 L249.7,123.9 L250.0,124.0 L250.3,124.1 L250.6,124.2 L250.9,124.2 L251.3,124.3 L251.6,124.4 L251.9,124.4 L252.2,124.5 L252.5,124.6 L252.8,124.6 L253.1,124.6 L253.4,124.7 L253.7,124.7 L254.0,124.7 L254.3,124.7 L254.6,124.7 L254.9,124.7 L255.2,124.7 L255.5,124.7 L255.8,124.6 L256.1,124.6 L256.4,124.5 L256.7,124.5 L257.0,124.4 L257.3,124.3 L257.6,124.2 L257.9,124.1 L258.2,124.0 L258.5,123.9 L258.8,123.8 L259.1,123.7 L259.4,123.6 L259.7,123.4 L260.0,123.3 L260.3,123.2 L260.6,123.1 L260.9,122.9 L261.2,122.8 L261.5,122.7 L261.8,122.6 L262.1,122.5 L262.4,122.3 L262.7,122.2 L263.0,122.1 L263.3,122.0 L263.6,121.9 L263.9,121.8 L264.2,121.8 L264.5,121.7 L264.8,121.6 L265.1,121.5 L265.4,121.4 L265.7,121.3 L266.0,121.3 L266.4,121.2 L266.7,121.1 L267.0,121.1 L267.3,121.0 L267.6,120.9 L267.9,120.9 L268.2,120.8 L268.5,120.8 L268.8,120.7 L269.1,120.7 L269.4,120.6 L269.7,120.6 L270.0,120.5 L270.3,120.5 L270.6,120.4 L270.9,120.4 L271.2,120.3 L271.5,120.3 L271.8,120.2 L272.1,120.2 L272.4,120.1 L272.7,120.1 L273.0,120.0 L273.3,120.0 L273.6,119.9 L273.9,119.8 L274.2,119.8 L274.5,119.7 L274.8,119.7 L275.1,119.6 L275.4,119.5 L275.7,119.4 L276.0,119.4 L276.3,119.3 L276.6,119.2 L276.9,119.1 L277.2,119.0 L277.5,119.0 L277.8,118.9 L278.1,118.8 L278.4,118.7 L278.7,118.6 L279.0,118.5 L279.3,118.4 L279.6,118.3 L279.9,118.2 L280.2,118.1 L280.5,118.0 L280.8,117.9 L281.1,117.8 L281.5,117.7 L281.8,117.6 L282.1,117.5 L282.4,117.4 L282.7,117.3 L283.0,117.2 L283.3,117.1 L283.6,117.0 L283.9,116.9 L284.2,116.8 L284.5,116.7 L284.8,116.6 L285.1,116.5 L285.4,116.4 L285.7,116.3 L286.0,116.2 L286.3,116.1 L286.6,116.0 L286.9,116.0 L287.2,115.9 L287.5,115.8 L287.8,115.7 L288.1,115.6 L288.4,115.6 L288.7,115.5 L289.0,115.4 L289.3,115.3 L289.6,115.3 L289.9,115.2 L290.2,115.1 L290.5,115.0 L290.8,115.0 L291.1,114.9 L291.4,114.8 L291.7,114.8 L292.0,114.7 L292.3,114.6 L292.6,114.5 L292.9,114.5 L293.2,114.4 L293.5,114.3 L293.8,114.3 L294.1,114.2 L294.4,114.1 L294.7,114.0 L295.0,114.0 L295.3,113.9 L295.6,113.8 L295.9,113.7 L296.2,113.7 L296.6,113.6 L296.9,113.5 L297.2,113.4 L297.5,113.4 L297.8,113.3 L298.1,113.2 L298.4,113.1 L298.7,113.1 L299.0,113.0 L299.3,112.9 L299.6,112.8 L299.9,112.8 L300.2,112.7 L300.5,112.6 L300.8,112.5 L301.1,112.5 L301.4,112.4 L301.7,112.3 L302.0,112.2 L302.3,112.2 L302.6,112.1 L302.9,112.0 L303.2,112.0 L303.5,111.9 L303.8,111.8 L304.1,111.7 L304.4,111.7 L304.7,111.6 L305.0,111.5 L305.3,111.4 L305.6,111.4 L305.9,111.3 L306.2,111.2 L306.5,111.1 L306.8,111.1 L307.1,111.0 L307.4,110.9 L307.7,110.8 L308.0,110.7 L308.3,110.6 L308.6,110.5 L308.9,110.5 L309.2,110.4 L309.5,110.3 L309.8,110.2 L310.1,110.1 L310.4,110.0 L310.7,109.9 L311.0,109.8 L311.3,109.7 L311.7,109.5 L312.0,109.4 L312.3,109.3 L312.6,109.2 L312.9,109.1 L313.2,108.9 L313.5,108.8 L313.8,108.7 L314.1,108.5 L314.4,108.4 L314.7,108.2 L315.0,108.1 L315.3,107.9 L315.6,107.8 L315.9,107.6 L316.2,107.5 L316.5,107.3 L316.8,107.1 L317.1,107.0 L317.4,106.8 L317.7,106.6 L318.0,106.5 L318.3,106.3 L318.6,106.1 L318.9,105.9 L319.2,105.7 L319.5,105.6 L319.8,105.4 L320.1,105.2 L320.4,105.0 L320.7,104.8 L321.0,104.6 L321.3,104.4 L321.6,104.2 L321.9,104.1 L322.2,103.9 L322.5,103.7 L322.8,103.5 L323.1,103.3 L323.4,103.1 L323.7,102.9 L324.0,102.7 L324.3,102.5 L324.6,102.3 L324.9,102.1 L325.2,101.9 L325.5,101.7 L325.8,101.5 L326.1,101.3 L326.4,101.1 L326.8,100.9 L327.1,100.7 L327.4,100.5 L327.7,100.3 L328.0,100.1 L328.3,99.9 L328.6,99.7 L328.9,99.5 L329.2,99.3 L329.5,99.1 L329.8,98.9 L330.1,98.7 L330.4,98.5 L330.7,98.3 L331.0,98.1 L331.3,97.9 L331.6,97.6 L331.9,97.4 L332.2,97.2 L332.5,97.0 L332.8,96.8 L333.1,96.6 L333.4,96.4 L333.7,96.2 L334.0,96.0" stroke="#00ffff" stroke-width="1.4" stroke-dasharray="1.3,0.9"/><path d="M62.5,131.2 L62.8,130.9 L63.1,130.7 L63.4,130.2 L63.7,130.8 L64.0,131.3 L64.3,131.9 L64.6,131.7 L64.9,131.5 L65.2,131.1 L65.5,131.2 L65.8,130.9 L66.1,131.0 L66.4,130.7 L66.7,130.7 L67.0,130.9 L67.3,131.0 L67.6,131.1 L67.9,130.9 L68.2,131.1 L68.5,131.1 L68.8,131.1 L69.1,130.9 L69.4,130.8 L69.7,130.7 L70.1,130.8 L70.4,131.1 L70.7,131.2 L71.0,131.1 L71.3,131.1 L71.6,131.1 L71.9,131.2 L72.2,131.0 L72.5,131.0 L72.8,130.9 L73.1,131.0 L73.4,130.8 L73.7,130.8 L74.0,130.7 L74.3,130.7 L74.6,130.8 L74.9,130.9 L75.2,131.0 L75.5,131.0 L75.8,131.0 L76.1,131.3 L76.4,131.4 L76.7,130.9 L77.0,130.8 L77.3,130.4 L77.6,130.6 L77.9,130.5 L78.2,130.5 L78.5,131.0 L78.8,131.1 L79.1,131.2 L79.4,130.7 L79.7,130.7 L80.0,130.9 L80.3,131.2 L80.6,131.4 L80.9,131.3 L81.2,131.4 L81.5,131.1 L81.8,131.1 L82.1,130.9 L82.4,130.7 L82.7,131.0 L83.0,131.0 L83.3,131.3 L83.6,131.1 L83.9,131.2 L84.2,131.2 L84.5,131.1 L84.8,130.9 L85.2,131.1 L85.5,131.1 L85.8,131.1 L86.1,131.1 L86.4,131.1 L86.7,131.0 L87.0,130.9 L87.3,130.8 L87.6,131.0 L87.9,131.1 L88.2,131.2 L88.5,130.9 L88.8,130.9 L89.1,130.7 L89.4,130.9 L89.7,130.7 L90.0,130.5 L90.3,130.4 L90.6,131.0 L90.9,131.4 L91.2,131.5 L91.5,131.5 L91.8,131.3 L92.1,131.3 L92.4,131.0 L92.7,131.1 L93.0,131.1 L93.3,130.9 L93.6,130.9 L93.9,131.0 L94.2,130.9 L94.5,130.8 L94.8,130.9 L95.1,131.5 L95.4,131.3 L95.7,131.1 L96.0,131.0 L96.3,131.3 L96.6,131.1 L96.9,131.1 L97.2,131.0 L97.5,131.0 L97.8,130.7 L98.1,130.6 L98.4,130.3 L98.7,130.6 L99.0,131.1 L99.3,131.5 L99.6,131.3 L99.9,131.1 L100.3,131.0 L100.6,130.8 L100.9,130.5 L101.2,130.6 L101.5,130.8 L101.8,130.8 L102.1,130.5 L102.4,130.7 L102.7,130.7 L103.0,131.1 L103.3,131.0 L103.6,131.1 L103.9,130.9 L104.2,130.8 L104.5,131.1 L104.8,131.2 L105.1,131.4 L105.4,131.5 L105.7,131.4 L106.0,131.1 L106.3,130.8 L106.6,130.8 L106.9,130.8 L107.2,130.6 L107.5,130.7 L107.8,130.7 L108.1,131.0 L108.4,130.8 L108.7,130.7 L109.0,130.6 L109.3,130.8 L109.6,130.5 L109.9,130.6 L110.2,130.7 L110.5,130.9 L110.8,130.8 L111.1,130.9 L111.4,131.5 L111.7,131.8 L112.0,131.8 L112.3,131.3 L112.6,131.4 L112.9,131.4 L113.2,131.2 L113.5,131.1 L113.8,131.2 L114.1,131.2 L114.4,131.2 L114.7,131.3 L115.0,131.6 L115.4,131.5 L115.7,131.7 L116.0,131.7 L116.3,131.7 L116.6,130.9 L116.9,130.6 L117.2,130.7 L117.5,131.0 L117.8,131.1 L118.1,131.4 L118.4,131.6 L118.7,131.9 L119.0,131.3 L119.3,131.1 L119.6,131.1 L119.9,131.2 L120.2,131.6 L120.5,131.1 L120.8,131.1 L121.1,131.1 L121.4,130.9 L121.7,131.2 L122.0,130.6 L122.3,130.8 L122.6,130.6 L122.9,130.9 L123.2,131.2 L123.5,131.2 L123.8,131.2 L124.1,130.8 L124.4,130.9 L124.7,130.4 L125.0,130.8 L125.3,130.8 L125.6,131.6 L125.9,131.8 L126.2,131.5 L126.5,131.3 L126.8,130.7 L127.1,130.9 L127.4,131.0 L127.7,131.3 L128.0,131.6 L128.3,131.4 L128.6,131.3 L128.9,130.9 L129.2,130.6 L129.5,130.7 L129.8,130.8 L130.1,130.9 L130.5,131.1 L130.8,131.4 L131.1,131.2 L131.4,130.8 L131.7,131.0 L132.0,130.9 L132.3,130.8 L132.6,130.8 L132.9,131.0 L133.2,131.2 L133.5,130.7 L133.8,130.3 L134.1,130.2 L134.4,130.5 L134.7,131.0 L135.0,131.7 L135.3,132.0 L135.6,131.9 L135.9,131.1 L136.2,130.6 L136.5,130.3 L136.8,130.5 L137.1,130.8 L137.4,131.6 L137.7,131.8 L138.0,131.3 L138.3,130.1 L138.6,129.8 L138.9,130.3 L139.2,131.3 L139.5,131.9 L139.8,131.8 L140.1,131.5 L140.4,130.3 L140.7,130.1 L141.0,129.8 L141.3,130.5 L141.6,131.1 L141.9,131.8 L142.2,131.8 L142.5,131.0 L142.8,130.7 L143.1,129.9 L143.4,130.1 L143.7,130.4 L144.0,131.4 L144.3,132.1 L144.6,131.8 L144.9,131.1 L145.2,130.3 L145.6,130.4 L145.9,130.6 L146.2,131.2 L146.5,131.5 L146.8,131.9 L147.1,131.2 L147.4,130.7 L147.7,130.6 L148.0,130.5 L148.3,130.4 L148.6,131.0 L148.9,131.2 L149.2,130.8 L149.5,130.0 L149.8,130.0 L150.1,130.6 L150.4,130.7 L150.7,131.3 L151.0,131.1 L151.3,131.2 L151.6,130.8 L151.9,130.9 L152.2,130.3 L152.5,130.5 L152.8,130.7 L153.1,131.3 L153.4,131.2 L153.7,131.1 L154.0,130.9 L154.3,130.1 L154.6,129.5 L154.9,129.8 L155.2,130.2 L155.5,130.7 L155.8,129.9 L156.1,129.6 L156.4,129.0 L156.7,129.5 L157.0,130.3 L157.3,131.0 L157.6,131.9 L157.9,131.7 L158.2,132.0 L158.5,131.6 L158.8,131.2 L159.1,131.0 L159.4,130.6 L159.7,130.6 L160.0,130.5 L160.3,131.0 L160.7,131.5 L161.0,131.1 L161.3,130.6 L161.6,129.9 L161.9,129.4 L162.2,129.9 L162.5,130.1 L162.8,131.0 L163.1,130.8 L163.4,130.8 L163.7,130.8 L164.0,131.1 L164.3,131.6 L164.6,131.6 L164.9,132.3 L165.2,132.1 L165.5,131.8 L165.8,130.8 L166.1,130.8 L166.4,130.7 L166.7,130.1 L167.0,129.3 L167.3,129.4 L167.6,130.0 L167.9,130.1 L168.2,130.6 L168.5,130.4 L168.8,131.5 L169.1,131.5 L169.4,131.7 L169.7,131.4 L170.0,131.7 L170.3,132.2 L170.6,132.5 L170.9,132.4 L171.2,131.5 L171.5,130.8 L171.8,130.1 L172.1,129.9 L172.4,129.4 L172.7,129.0 L173.0,129.6 L173.3,129.6 L173.6,129.5 L173.9,129.0 L174.2,129.8 L174.5,130.8 L174.8,131.1 L175.1,131.4 L175.4,132.0 L175.8,132.0 L176.1,131.7 L176.4,131.1 L176.7,131.5 L177.0,131.2 L177.3,130.8 L177.6,129.8 L177.9,129.7 L178.2,128.9 L178.5,128.5 L178.8,128.1 L179.1,128.3 L179.4,128.7 L179.7,128.8 L180.0,129.1 L180.3,129.5 L180.6,129.7 L180.9,130.0 L181.2,130.3 L181.5,130.2 L181.8,130.0 L182.1,129.5 L182.4,129.6 L182.7,129.5 L183.0,129.6 L183.3,129.2 L183.6,128.9 L183.9,128.4 L184.2,128.6 L184.5,128.5 L184.8,128.7 L185.1,128.6 L185.4,128.3 L185.7,128.3 L186.0,128.3 L186.3,129.0 L186.6,129.2 L186.9,129.3 L187.2,129.2 L187.5,129.2 L187.8,129.1 L188.1,128.7 L188.4,129.1 L188.7,128.9 L189.0,129.1 L189.3,128.5 L189.6,128.5 L189.9,128.2 L190.2,128.5 L190.5,128.3 L190.9,128.7 L191.2,128.6 L191.5,128.9 L191.8,128.5 L192.1,128.6 L192.4,128.5 L192.7,128.6 L193.0,128.6 L193.3,128.4 L193.6,128.1 L193.9,128.1 L194.2,128.1 L194.5,128.4 L194.8,128.2 L195.1,128.3 L195.4,128.4 L195.7,128.7 L196.0,128.8 L196.3,128.5 L196.6,128.5 L196.9,128.3 L197.2,128.5 L197.5,128.4 L197.8,128.5 L198.1,128.4 L198.4,128.4 L198.7,128.4 L199.0,128.5 L199.3,128.5 L199.6,128.5 L199.9,128.5 L200.2,128.5 L200.5,128.6 L200.8,128.6 L201.1,128.5 L201.4,128.5 L201.7,128.6 L202.0,128.6 L202.3,128.6 L202.6,128.5 L202.9,128.6 L203.2,128.6 L203.5,128.6 L203.8,128.7 L204.1,128.7 L204.4,128.7 L204.7,128.7 L205.0,128.7 L205.3,128.7 L205.6,128.7 L206.0,128.7 L206.3,128.8 L206.6,128.8 L206.9,128.8 L207.2,128.8 L207.5,128.8 L207.8,128.8 L208.1,128.8 L208.4,128.9 L208.7,128.9 L209.0,128.9 L209.3,128.9 L209.6,128.9 L209.9,128.9 L210.2,128.9 L210.5,128.9 L210.8,129.0 L211.1,129.0 L211.4,129.0 L211.7,129.0 L212.0,129.0 L212.3,129.0 L212.6,129.0 L212.9,129.0 L213.2,129.0 L213.5,129.0 L213.8,129.1 L214.1,129.1 L214.4,129.1 L214.7,129.1 L215.0,129.1 L215.3,129.1 L215.6,129.1 L215.9,129.1 L216.2,129.1 L216.5,129.1 L216.8,129.1 L217.1,129.1 L217.4,129.1 L217.7,129.1 L218.0,129.1 L218.3,129.1 L218.6,129.1 L218.9,129.1 L219.2,129.2 L219.5,129.2 L219.8,129.2 L220.1,129.2 L220.4,129.2 L220.7,129.2 L221.1,129.2 L221.4,129.2 L221.7,129.2 L222.0,129.2 L222.3,129.2 L222.6,129.2 L222.9,129.2 L223.2,129.2 L223.5,129.2 L223.8,129.3 L224.1,129.3 L224.4,129.3 L224.7,129.3 L225.0,129.3 L225.3,129.3 L225.6,129.3 L225.9,129.3 L226.2,129.3 L226.5,129.4 L226.8,129.4 L227.1,129.4 L227.4,129.4 L227.7,129.4 L228.0,129.4 L228.3,129.4 L228.6,129.4 L228.9,129.4 L229.2,129.4 L229.5,129.4 L229.8,129.4 L230.1,129.4 L230.4,129.4 L230.7,129.4 L231.0,129.4 L231.3,129.3 L231.6,129.3 L231.9,129.3 L232.2,129.3 L232.5,129.2 L232.8,129.2 L233.1,129.1 L233.4,129.1 L233.7,129.0 L234.0,128.9 L234.3,128.9 L234.6,128.8 L234.9,128.7 L235.2,128.6 L235.5,128.5 L235.8,128.4 L236.2,128.3 L236.5,128.2 L236.8,128.1 L237.1,128.0 L237.4,127.9 L237.7,127.8 L238.0,127.6 L238.3,127.5 L238.6,127.4 L238.9,127.3 L239.2,127.2 L239.5,127.1 L239.8,127.0 L240.1,126.9 L240.4,126.8 L240.7,126.8 L241.0,126.7 L241.3,126.6 L241.6,126.6 L241.9,126.5 L242.2,126.5 L242.5,126.5 L242.8,126.5 L243.1,126.5 L243.4,126.5 L243.7,126.6 L244.0,126.6 L244.3,126.6 L244.6,126.7 L244.9,126.8 L245.2,126.8 L245.5,126.9 L245.8,127.0 L246.1,127.1 L246.4,127.1 L246.7,127.2 L247.0,127.3 L247.3,127.4 L247.6,127.5 L247.9,127.6 L248.2,127.7 L248.5,127.7 L248.8,127.8 L249.1,127.9 L249.4,128.0 L249.7,128.0 L250.0,128.1 L250.3,128.1 L250.6,128.2 L250.9,128.2 L251.3,128.2 L251.6,128.2 L251.9,128.2 L252.2,128.2 L252.5,128.2 L252.8,128.2 L253.1,128.1 L253.4,128.1 L253.7,128.0 L254.0,128.0 L254.3,127.9 L254.6,127.9 L254.9,127.8 L255.2,127.7 L255.5,127.7 L255.8,127.6 L256.1,127.5 L256.4,127.4 L256.7,127.3 L257.0,127.3 L257.3,127.2 L257.6,127.1 L257.9,127.0 L258.2,126.9 L258.5,126.9 L258.8,126.8 L259.1,126.7 L259.4,126.7 L259.7,126.6 L260.0,126.5 L260.3,126.5 L260.6,126.4 L260.9,126.4 L261.2,126.3 L261.5,126.2 L261.8,126.2 L262.1,126.2 L262.4,126.1 L262.7,126.1 L263.0,126.1 L263.3,126.0 L263.6,126.0 L263.9,126.0 L264.2,126.0 L264.5,126.0 L264.8,126.0 L265.1,126.0 L265.4,126.0 L265.7,126.0 L266.0,126.0 L266.4,126.0 L266.7,126.1 L267.0,126.1 L267.3,126.1 L267.6,126.2 L267.9,126.2 L268.2,126.3 L268.5,126.3 L268.8,126.4 L269.1,126.4 L269.4,126.5 L269.7,126.6 L270.0,126.6 L270.3,126.7 L270.6,126.8 L270.9,126.8 L271.2,126.9 L271.5,126.9 L271.8,127.0 L272.1,127.1 L272.4,127.1 L272.7,127.2 L273.0,127.2 L273.3,127.3 L273.6,127.4 L273.9,127.4 L274.2,127.4 L274.5,127.5 L274.8,127.5 L275.1,127.6 L275.4,127.6 L275.7,127.6 L276.0,127.6 L276.3,127.6 L276.6,127.7 L276.9,127.7 L277.2,127.7 L277.5,127.6 L277.8,127.6 L278.1,127.6 L278.4,127.6 L278.7,127.5 L279.0,127.5 L279.3,127.4 L279.6,127.4 L279.9,127.3 L280.2,127.2 L280.5,127.1 L280.8,127.0 L281.1,126.9 L281.5,126.8 L281.8,126.6 L282.1,126.5 L282.4,126.4 L282.7,126.2 L283.0,126.0 L283.3,125.8 L283.6,125.6 L283.9,125.4 L284.2,125.2 L284.5,124.9 L284.8,124.7 L285.1,124.4 L285.4,124.2 L285.7,123.9 L286.0,123.6 L286.3,123.3 L286.6,122.9 L286.9,122.6 L287.2,122.3 L287.5,122.0 L287.8,121.7 L288.1,121.3 L288.4,121.0 L288.7,120.7 L289.0,120.4 L289.3,120.1 L289.6,119.8 L289.9,119.6 L290.2,119.3 L290.5,119.1 L290.8,118.9 L291.1,118.6 L291.4,118.4 L291.7,118.3 L292.0,118.1 L292.3,117.9 L292.6,117.7 L292.9,117.6 L293.2,117.5 L293.5,117.3 L293.8,117.2 L294.1,117.0 L294.4,116.9 L294.7,116.8 L295.0,116.7 L295.3,116.6 L295.6,116.4 L295.9,116.3 L296.2,116.2 L296.6,116.1 L296.9,116.0 L297.2,115.9 L297.5,115.7 L297.8,115.6 L298.1,115.5 L298.4,115.4 L298.7,115.3 L299.0,115.2 L299.3,115.0 L299.6,114.9 L299.9,114.8 L300.2,114.7 L300.5,114.6 L300.8,114.5 L301.1,114.4 L301.4,114.3 L301.7,114.2 L302.0,114.0 L302.3,113.9 L302.6,113.8 L302.9,113.7 L303.2,113.6 L303.5,113.5 L303.8,113.4 L304.1,113.3 L304.4,113.2 L304.7,113.1 L305.0,113.0 L305.3,112.9 L305.6,112.8 L305.9,112.7 L306.2,112.6 L306.5,112.5 L306.8,112.4 L307.1,112.3 L307.4,112.2 L307.7,112.1 L308.0,112.0 L308.3,111.9 L308.6,111.9 L308.9,111.8 L309.2,111.7 L309.5,111.6 L309.8,111.5 L310.1,111.4 L310.4,111.3 L310.7,111.2 L311.0,111.1 L311.3,111.0 L311.7,110.9 L312.0,110.8 L312.3,110.7 L312.6,110.6 L312.9,110.5 L313.2,110.4 L313.5,110.3 L313.8,110.2 L314.1,110.1 L314.4,110.0 L314.7,109.9 L315.0,109.8 L315.3,109.7 L315.6,109.6 L315.9,109.5 L316.2,109.4 L316.5,109.3 L316.8,109.1 L317.1,109.0 L317.4,108.9 L317.7,108.8 L318.0,108.7 L318.3,108.5 L318.6,108.4 L318.9,108.3 L319.2,108.2 L319.5,108.1 L319.8,107.9 L320.1,107.8 L320.4,107.7 L320.7,107.5 L321.0,107.4 L321.3,107.3 L321.6,107.1 L321.9,107.0 L322.2,106.9 L322.5,106.7 L322.8,106.6 L323.1,106.5 L323.4,106.3 L323.7,106.2 L324.0,106.0 L324.3,105.9 L324.6,105.8 L324.9,105.6 L325.2,105.5 L325.5,105.3 L325.8,105.2 L326.1,105.1 L326.4,104.9 L326.8,104.8 L327.1,104.6 L327.4,104.5 L327.7,104.3 L328.0,104.2 L328.3,104.0 L328.6,103.9 L328.9,103.7 L329.2,103.6 L329.5,103.4 L329.8,103.3 L330.1,103.2 L330.4,103.0 L330.7,102.9 L331.0,102.7 L331.3,102.6 L331.6,102.4 L331.9,102.3 L332.2,102.1 L332.5,102.0 L332.8,101.8 L333.1,101.7 L333.4,101.5 L333.7,101.4 L334.0,101.2" stroke="#ffa500" stroke-width="1.4" stroke-dasharray="1.3,0.9"/><path d="M62.5,131.0 L62.8,130.8 L63.1,130.8 L63.4,130.8 L63.7,130.9 L64.0,130.7 L64.3,130.6 L64.6,130.7 L64.9,130.8 L65.2,131.0 L65.5,131.2 L65.8,131.4 L66.1,131.4 L66.4,131.4 L66.7,131.4 L67.0,131.5 L67.3,131.1 L67.6,131.1 L67.9,131.0 L68.2,131.2 L68.5,131.3 L68.8,131.2 L69.1,131.2 L69.4,131.2 L69.7,131.1 L70.1,131.0 L70.4,131.0 L70.7,131.0 L71.0,130.7 L71.3,130.6 L71.6,131.0 L71.9,130.9 L72.2,130.8 L72.5,130.4 L72.8,130.9 L73.1,131.1 L73.4,131.3 L73.7,131.5 L74.0,131.5 L74.3,131.3 L74.6,131.1 L74.9,130.8 L75.2,131.0 L75.5,130.9 L75.8,130.9 L76.1,131.1 L76.4,131.1 L76.7,131.1 L77.0,131.0 L77.3,130.8 L77.6,130.8 L77.9,130.6 L78.2,130.5 L78.5,130.2 L78.8,130.3 L79.1,130.5 L79.4,130.8 L79.7,130.9 L80.0,130.9 L80.3,131.2 L80.6,130.8 L80.9,130.6 L81.2,130.3 L81.5,130.6 L81.8,131.2 L82.1,131.2 L82.4,131.1 L82.7,130.8 L83.0,131.2 L83.3,131.0 L83.6,131.1 L83.9,130.8 L84.2,130.9 L84.5,130.8 L84.8,130.8 L85.2,130.8 L85.5,130.9 L85.8,130.9 L86.1,131.2 L86.4,131.1 L86.7,131.0 L87.0,130.9 L87.3,131.1 L87.6,131.1 L87.9,131.3 L88.2,131.2 L88.5,131.0 L88.8,131.0 L89.1,130.8 L89.4,131.1 L89.7,131.0 L90.0,131.2 L90.3,131.1 L90.6,131.1 L90.9,130.8 L91.2,131.0 L91.5,130.9 L91.8,131.1 L92.1,131.1 L92.4,131.2 L92.7,131.3 L93.0,131.2 L93.3,131.1 L93.6,130.9 L93.9,130.6 L94.2,130.8 L94.5,131.1 L94.8,131.4 L95.1,131.3 L95.4,131.3 L95.7,131.4 L96.0,131.4 L96.3,131.4 L96.6,131.3 L96.9,131.2 L97.2,131.2 L97.5,130.9 L97.8,130.6 L98.1,130.6 L98.4,130.7 L98.7,131.3 L99.0,131.0 L99.3,131.3 L99.6,130.9 L99.9,131.2 L100.3,130.8 L100.6,131.3 L100.9,131.2 L101.2,131.7 L101.5,131.3 L101.8,131.1 L102.1,130.7 L102.4,130.9 L102.7,131.0 L103.0,131.2 L103.3,131.2 L103.6,131.4 L103.9,131.3 L104.2,131.0 L104.5,131.1 L104.8,131.1 L105.1,131.4 L105.4,131.1 L105.7,131.0 L106.0,130.9 L106.3,130.8 L106.6,131.0 L106.9,130.8 L107.2,131.0 L107.5,131.0 L107.8,131.3 L108.1,131.0 L108.4,131.0 L108.7,131.0 L109.0,131.4 L109.3,131.6 L109.6,131.6 L109.9,131.3 L110.2,131.2 L110.5,131.1 L110.8,131.3 L111.1,131.4 L111.4,131.2 L111.7,131.3 L112.0,131.1 L112.3,131.0 L112.6,130.6 L112.9,130.8 L113.2,130.8 L113.5,130.9 L113.8,130.4 L114.1,131.0 L114.4,131.5 L114.7,131.7 L115.0,130.9 L115.4,130.4 L115.7,130.5 L116.0,130.7 L116.3,130.9 L116.6,130.9 L116.9,130.9 L117.2,130.9 L117.5,131.2 L117.8,131.3 L118.1,131.1 L118.4,131.0 L118.7,131.1 L119.0,130.9 L119.3,131.2 L119.6,130.9 L119.9,131.4 L120.2,130.8 L120.5,131.0 L120.8,130.7 L121.1,131.3 L121.4,131.2 L121.7,131.1 L122.0,131.0 L122.3,130.9 L122.6,130.9 L122.9,130.5 L123.2,130.5 L123.5,130.6 L123.8,130.6 L124.1,131.0 L124.4,131.3 L124.7,131.7 L125.0,131.9 L125.3,131.9 L125.6,131.6 L125.9,131.0 L126.2,130.7 L126.5,130.7 L126.8,131.2 L127.1,131.2 L127.4,131.5 L127.7,131.7 L128.0,131.8 L128.3,131.4 L128.6,131.0 L128.9,130.8 L129.2,130.5 L129.5,130.4 L129.8,130.8 L130.1,130.7 L130.5,131.1 L130.8,131.3 L131.1,131.9 L131.4,131.9 L131.7,131.1 L132.0,130.6 L132.3,130.9 L132.6,131.6 L132.9,132.2 L133.2,131.8 L133.5,131.4 L133.8,130.6 L134.1,130.3 L134.4,130.7 L134.7,131.4 L135.0,131.9 L135.3,131.9 L135.6,131.3 L135.9,130.3 L136.2,129.5 L136.5,129.7 L136.8,131.0 L137.1,131.7 L137.4,132.3 L137.7,131.8 L138.0,131.5 L138.3,130.9 L138.6,130.5 L138.9,131.0 L139.2,131.2 L139.5,132.2 L139.8,132.2 L140.1,131.6 L140.4,129.9 L140.7,129.1 L141.0,129.3 L141.3,131.1 L141.6,132.5 L141.9,132.9 L142.2,132.4 L142.5,131.1 L142.8,130.5 L143.1,129.5 L143.4,129.8 L143.7,130.6 L144.0,131.5 L144.3,132.0 L144.6,131.5 L144.9,131.4 L145.2,130.8 L145.6,130.8 L145.9,130.8 L146.2,131.1 L146.5,131.7 L146.8,131.5 L147.1,131.4 L147.4,130.7 L147.7,130.6 L148.0,131.0 L148.3,131.5 L148.6,132.0 L148.9,131.5 L149.2,131.2 L149.5,130.8 L149.8,130.5 L150.1,130.2 L150.4,130.3 L150.7,131.0 L151.0,130.9 L151.3,130.7 L151.6,130.1 L151.9,130.4 L152.2,130.6 L152.5,130.7 L152.8,130.5 L153.1,130.6 L153.4,130.9 L153.7,131.0 L154.0,130.9 L154.3,131.0 L154.6,131.7 L154.9,132.0 L155.2,132.0 L155.5,131.3 L155.8,131.2 L156.1,131.0 L156.4,130.5 L156.7,129.7 L157.0,129.2 L157.3,130.0 L157.6,130.9 L157.9,131.4 L158.2,130.8 L158.5,130.0 L158.8,129.9 L159.1,130.4 L159.4,131.0 L159.7,131.2 L160.0,131.4 L160.3,131.6 L160.7,131.5 L161.0,130.9 L161.3,130.1 L161.6,129.7 L161.9,129.7 L162.2,129.9 L162.5,130.2 L162.8,130.1 L163.1,130.8 L163.4,130.4 L163.7,130.8 L164.0,130.3 L164.3,130.4 L164.6,130.9 L164.9,131.2 L165.2,131.8 L165.5,132.1 L165.8,132.0 L166.1,132.0 L166.4,131.1 L166.7,131.0 L167.0,130.7 L167.3,131.1 L167.6,130.3 L167.9,129.9 L168.2,129.1 L168.5,129.4 L168.8,128.9 L169.1,129.1 L169.4,129.2 L169.7,130.5 L170.0,130.8 L170.3,131.6 L170.6,131.7 L170.9,132.5 L171.2,132.4 L171.5,132.0 L171.8,131.9 L172.1,131.4 L172.4,131.3 L172.7,130.1 L173.0,129.9 L173.3,129.6 L173.6,129.5 L173.9,129.0 L174.2,128.6 L174.5,128.8 L174.8,128.9 L175.1,129.5 L175.4,129.9 L175.8,130.7 L176.1,131.2 L176.4,131.7 L176.7,132.0 L177.0,131.9 L177.3,131.5 L177.6,131.3 L177.9,131.4 L178.2,131.2 L178.5,130.8 L178.8,129.6 L179.1,128.7 L179.4,128.4 L179.7,128.4 L180.0,129.0 L180.3,128.9 L180.6,129.2 L180.9,129.4 L181.2,129.6 L181.5,129.5 L181.8,129.9 L182.1,130.1 L182.4,130.8 L182.7,130.4 L183.0,130.3 L183.3,130.0 L183.6,130.0 L183.9,129.9 L184.2,129.3 L184.5,129.0 L184.8,128.8 L185.1,128.9 L185.4,128.9 L185.7,128.5 L186.0,128.6 L186.3,128.5 L186.6,129.2 L186.9,129.4 L187.2,129.7 L187.5,129.4 L187.8,129.5 L188.1,129.2 L188.4,129.3 L188.7,129.0 L189.0,129.3 L189.3,129.2 L189.6,129.2 L189.9,129.1 L190.2,129.0 L190.5,129.0 L190.9,128.9 L191.2,128.7 L191.5,128.4 L191.8,128.3 L192.1,128.6 L192.4,128.8 L192.7,129.0 L193.0,129.0 L193.3,129.2 L193.6,129.2 L193.9,129.2 L194.2,129.1 L194.5,129.0 L194.8,129.2 L195.1,129.4 L195.4,129.3 L195.7,129.2 L196.0,129.3 L196.3,129.4 L196.6,129.5 L196.9,129.1 L197.2,129.3 L197.5,129.2 L197.8,129.3 L198.1,129.3 L198.4,129.4 L198.7,129.6 L199.0,129.8 L199.3,129.7 L199.6,129.7 L199.9,129.7 L200.2,129.9 L200.5,129.9 L200.8,129.9 L201.1,129.9 L201.4,129.8 L201.7,129.9 L202.0,129.9 L202.3,129.9 L202.6,129.9 L202.9,129.9 L203.2,129.9 L203.5,129.9 L203.8,129.9 L204.1,129.9 L204.4,129.9 L204.7,129.9 L205.0,129.9 L205.3,129.9 L205.6,129.9 L206.0,129.9 L206.3,129.9 L206.6,129.9 L206.9,129.9 L207.2,129.9 L207.5,129.9 L207.8,129.9 L208.1,129.9 L208.4,129.9 L208.7,129.9 L209.0,129.9 L209.3,129.9 L209.6,129.9 L209.9,129.9 L210.2,129.9 L210.5,130.0 L210.8,130.0 L211.1,130.0 L211.4,130.0 L211.7,130.0 L212.0,130.0 L212.3,130.0 L212.6,130.0 L212.9,130.0 L213.2,130.1 L213.5,130.1 L213.8,130.1 L214.1,130.1 L214.4,130.1 L214.7,130.2 L215.0,130.2 L215.3,130.2 L215.6,130.2 L215.9,130.2 L216.2,130.3 L216.5,130.3 L216.8,130.3 L217.1,130.3 L217.4,130.4 L217.7,130.4 L218.0,130.4 L218.3,130.4 L218.6,130.5 L218.9,130.5 L219.2,130.5 L219.5,130.5 L219.8,130.6 L220.1,130.6 L220.4,130.6 L220.7,130.6 L221.1,130.7 L221.4,130.7 L221.7,130.7 L222.0,130.7 L222.3,130.8 L222.6,130.8 L222.9,130.8 L223.2,130.8 L223.5,130.8 L223.8,130.8 L224.1,130.9 L224.4,130.9 L224.7,130.9 L225.0,130.9 L225.3,130.9 L225.6,130.9 L225.9,130.9 L226.2,130.9 L226.5,130.9 L226.8,130.9 L227.1,130.9 L227.4,130.9 L227.7,130.9 L228.0,130.9 L228.3,130.9 L228.6,130.9 L228.9,130.9 L229.2,130.9 L229.5,130.9 L229.8,130.9 L230.1,130.9 L230.4,130.9 L230.7,130.8 L231.0,130.8 L231.3,130.8 L231.6,130.8 L231.9,130.7 L232.2,130.7 L232.5,130.7 L232.8,130.6 L233.1,130.6 L233.4,130.6 L233.7,130.5 L234.0,130.5 L234.3,130.4 L234.6,130.4 L234.9,130.3 L235.2,130.3 L235.5,130.2 L235.8,130.1 L236.2,130.1 L236.5,130.0 L236.8,129.9 L237.1,129.9 L237.4,129.8 L237.7,129.7 L238.0,129.7 L238.3,129.6 L238.6,129.6 L238.9,129.5 L239.2,129.5 L239.5,129.4 L239.8,129.4 L240.1,129.3 L240.4,129.3 L240.7,129.3 L241.0,129.3 L241.3,129.3 L241.6,129.3 L241.9,129.3 L242.2,129.3 L242.5,129.3 L242.8,129.3 L243.1,129.4 L243.4,129.4 L243.7,129.5 L244.0,129.6 L244.3,129.6 L244.6,129.7 L244.9,129.8 L245.2,129.9 L245.5,130.0 L245.8,130.1 L246.1,130.1 L246.4,130.2 L246.7,130.3 L247.0,130.4 L247.3,130.5 L247.6,130.6 L247.9,130.7 L248.2,130.8 L248.5,130.8 L248.8,130.9 L249.1,131.0 L249.4,131.0 L249.7,131.1 L250.0,131.1 L250.3,131.2 L250.6,131.2 L250.9,131.2 L251.3,131.2 L251.6,131.2 L251.9,131.2 L252.2,131.1 L252.5,131.1 L252.8,131.1 L253.1,131.0 L253.4,130.9 L253.7,130.9 L254.0,130.8 L254.3,130.7 L254.6,130.6 L254.9,130.5 L255.2,130.4 L255.5,130.3 L255.8,130.2 L256.1,130.1 L256.4,130.0 L256.7,129.9 L257.0,129.8 L257.3,129.7 L257.6,129.6 L257.9,129.4 L258.2,129.3 L258.5,129.2 L258.8,129.1 L259.1,129.0 L259.4,128.9 L259.7,128.8 L260.0,128.7 L260.3,128.6 L260.6,128.5 L260.9,128.4 L261.2,128.3 L261.5,128.2 L261.8,128.1 L262.1,128.1 L262.4,128.0 L262.7,127.9 L263.0,127.9 L263.3,127.8 L263.6,127.8 L263.9,127.7 L264.2,127.7 L264.5,127.7 L264.8,127.6 L265.1,127.6 L265.4,127.6 L265.7,127.6 L266.0,127.6 L266.4,127.6 L266.7,127.6 L267.0,127.7 L267.3,127.7 L267.6,127.7 L267.9,127.8 L268.2,127.8 L268.5,127.9 L268.8,127.9 L269.1,128.0 L269.4,128.0 L269.7,128.1 L270.0,128.2 L270.3,128.2 L270.6,128.3 L270.9,128.3 L271.2,128.4 L271.5,128.4 L271.8,128.5 L272.1,128.5 L272.4,128.6 L272.7,128.6 L273.0,128.7 L273.3,128.7 L273.6,128.7 L273.9,128.7 L274.2,128.7 L274.5,128.8 L274.8,128.7 L275.1,128.7 L275.4,128.7 L275.7,128.7 L276.0,128.6 L276.3,128.6 L276.6,128.5 L276.9,128.5 L277.2,128.4 L277.5,128.3 L277.8,128.2 L278.1,128.1 L278.4,128.0 L278.7,127.9 L279.0,127.8 L279.3,127.7 L279.6,127.5 L279.9,127.4 L280.2,127.3 L280.5,127.1 L280.8,127.0 L281.1,126.9 L281.5,126.7 L281.8,126.6 L282.1,126.4 L282.4,126.3 L282.7,126.1 L283.0,126.0 L283.3,125.9 L283.6,125.7 L283.9,125.6 L284.2,125.4 L284.5,125.3 L284.8,125.2 L285.1,125.0 L285.4,124.9 L285.7,124.8 L286.0,124.7 L286.3,124.5 L286.6,124.4 L286.9,124.3 L287.2,124.2 L287.5,124.1 L287.8,123.9 L288.1,123.8 L288.4,123.7 L288.7,123.6 L289.0,123.5 L289.3,123.4 L289.6,123.3 L289.9,123.2 L290.2,123.1 L290.5,123.1 L290.8,123.0 L291.1,122.9 L291.4,122.8 L291.7,122.7 L292.0,122.7 L292.3,122.6 L292.6,122.5 L292.9,122.5 L293.2,122.4 L293.5,122.3 L293.8,122.3 L294.1,122.2 L294.4,122.2 L294.7,122.1 L295.0,122.1 L295.3,122.0 L295.6,122.0 L295.9,121.9 L296.2,121.9 L296.6,121.9 L296.9,121.8 L297.2,121.8 L297.5,121.7 L297.8,121.7 L298.1,121.6 L298.4,121.6 L298.7,121.5 L299.0,121.5 L299.3,121.4 L299.6,121.4 L299.9,121.3 L300.2,121.3 L300.5,121.2 L300.8,121.1 L301.1,121.0 L301.4,121.0 L301.7,120.9 L302.0,120.8 L302.3,120.7 L302.6,120.6 L302.9,120.5 L303.2,120.4 L303.5,120.3 L303.8,120.2 L304.1,120.1 L304.4,120.0 L304.7,119.9 L305.0,119.8 L305.3,119.7 L305.6,119.6 L305.9,119.5 L306.2,119.4 L306.5,119.3 L306.8,119.2 L307.1,119.1 L307.4,119.0 L307.7,118.8 L308.0,118.7 L308.3,118.6 L308.6,118.5 L308.9,118.4 L309.2,118.3 L309.5,118.2 L309.8,118.1 L310.1,118.0 L310.4,117.8 L310.7,117.7 L311.0,117.6 L311.3,117.5 L311.7,117.4 L312.0,117.3 L312.3,117.1 L312.6,117.0 L312.9,116.9 L313.2,116.8 L313.5,116.7 L313.8,116.5 L314.1,116.4 L314.4,116.3 L314.7,116.1 L315.0,116.0 L315.3,115.9 L315.6,115.7 L315.9,115.6 L316.2,115.5 L316.5,115.3 L316.8,115.2 L317.1,115.1 L317.4,114.9 L317.7,114.8 L318.0,114.6 L318.3,114.5 L318.6,114.3 L318.9,114.2 L319.2,114.0 L319.5,113.9 L319.8,113.7 L320.1,113.6 L320.4,113.4 L320.7,113.3 L321.0,113.1 L321.3,113.0 L321.6,112.8 L321.9,112.6 L322.2,112.5 L322.5,112.3 L322.8,112.2 L323.1,112.0 L323.4,111.8 L323.7,111.7 L324.0,111.5 L324.3,111.4 L324.6,111.2 L324.9,111.0 L325.2,110.9 L325.5,110.7 L325.8,110.5 L326.1,110.4 L326.4,110.2 L326.8,110.0 L327.1,109.9 L327.4,109.7 L327.7,109.5 L328.0,109.4 L328.3,109.2 L328.6,109.0 L328.9,108.9 L329.2,108.7 L329.5,108.5 L329.8,108.4 L330.1,108.2 L330.4,108.0 L330.7,107.9 L331.0,107.7 L331.3,107.5 L331.6,107.4 L331.9,107.2 L332.2,107.0 L332.5,106.8 L332.8,106.7 L333.1,106.5 L333.4,106.3 L333.7,106.2 L334.0,106.0" stroke="#ff0000" stroke-width="1.4" stroke-dasharray="1.3,0.9"/><path d="M62.5,131.3 L62.8,131.1 L63.1,130.9 L63.4,130.9 L63.7,131.0 L64.0,131.0 L64.3,130.9 L64.6,131.0 L64.9,131.0 L65.2,131.0 L65.5,131.2 L65.8,131.1 L66.1,131.2 L66.4,131.0 L66.7,131.2 L67.0,130.9 L67.3,130.9 L67.6,131.1 L67.9,131.1 L68.2,130.8 L68.5,130.3 L68.8,130.5 L69.1,131.1 L69.4,131.5 L69.7,131.7 L70.1,131.4 L70.4,131.4 L70.7,131.2 L71.0,131.2 L71.3,131.0 L71.6,131.0 L71.9,130.9 L72.2,130.9 L72.5,131.1 L72.8,131.1 L73.1,131.3 L73.4,131.0 L73.7,131.2 L74.0,131.0 L74.3,131.1 L74.6,130.9 L74.9,130.9 L75.2,130.7 L75.5,130.7 L75.8,130.8 L76.1,130.8 L76.4,130.9 L76.7,131.1 L77.0,131.1 L77.3,131.0 L77.6,131.0 L77.9,130.9 L78.2,131.0 L78.5,131.1 L78.8,131.2 L79.1,131.5 L79.4,131.5 L79.7,131.4 L80.0,131.0 L80.3,130.9 L80.6,130.8 L80.9,131.0 L81.2,131.0 L81.5,131.0 L81.8,130.8 L82.1,131.0 L82.4,130.9 L82.7,130.9 L83.0,130.7 L83.3,131.0 L83.6,131.1 L83.9,131.1 L84.2,131.1 L84.5,131.1 L84.8,131.5 L85.2,131.2 L85.5,131.2 L85.8,130.7 L86.1,130.8 L86.4,131.0 L86.7,131.4 L87.0,131.2 L87.3,130.9 L87.6,130.7 L87.9,130.6 L88.2,130.7 L88.5,130.7 L88.8,131.1 L89.1,130.8 L89.4,130.9 L89.7,130.9 L90.0,131.2 L90.3,130.9 L90.6,131.0 L90.9,131.1 L91.2,131.1 L91.5,131.1 L91.8,131.0 L92.1,130.8 L92.4,130.8 L92.7,130.4 L93.0,130.6 L93.3,130.6 L93.6,130.9 L93.9,131.0 L94.2,130.9 L94.5,131.0 L94.8,131.2 L95.1,131.1 L95.4,131.0 L95.7,130.8 L96.0,131.3 L96.3,131.2 L96.6,131.2 L96.9,130.8 L97.2,130.8 L97.5,130.9 L97.8,131.0 L98.1,130.8 L98.4,130.7 L98.7,130.4 L99.0,130.9 L99.3,131.4 L99.6,131.8 L99.9,131.7 L100.3,131.4 L100.6,131.2 L100.9,131.5 L101.2,131.4 L101.5,131.3 L101.8,130.9 L102.1,130.7 L102.4,130.8 L102.7,130.8 L103.0,130.8 L103.3,131.0 L103.6,131.2 L103.9,131.6 L104.2,131.6 L104.5,131.5 L104.8,131.0 L105.1,130.7 L105.4,130.7 L105.7,131.0 L106.0,131.3 L106.3,131.2 L106.6,131.0 L106.9,130.8 L107.2,131.2 L107.5,131.4 L107.8,131.4 L108.1,131.4 L108.4,131.4 L108.7,131.3 L109.0,131.1 L109.3,130.9 L109.6,131.0 L109.9,131.2 L110.2,130.8 L110.5,130.9 L110.8,130.7 L111.1,131.3 L111.4,131.2 L111.7,130.8 L112.0,130.5 L112.3,130.3 L112.6,130.6 L112.9,130.9 L113.2,130.9 L113.5,130.7 L113.8,130.8 L114.1,131.1 L114.4,131.5 L114.7,131.2 L115.0,131.0 L115.4,131.0 L115.7,131.2 L116.0,131.5 L116.3,131.3 L116.6,130.9 L116.9,130.6 L117.2,130.8 L117.5,131.2 L117.8,131.7 L118.1,131.7 L118.4,131.6 L118.7,131.1 L119.0,131.0 L119.3,131.1 L119.6,131.2 L119.9,131.3 L120.2,130.9 L120.5,130.8 L120.8,130.8 L121.1,131.2 L121.4,131.4 L121.7,131.3 L122.0,131.3 L122.3,131.0 L122.6,131.2 L122.9,131.2 L123.2,131.2 L123.5,131.2 L123.8,130.7 L124.1,130.5 L124.4,130.6 L124.7,130.9 L125.0,131.1 L125.3,130.6 L125.6,130.5 L125.9,131.0 L126.2,131.4 L126.5,131.3 L126.8,130.9 L127.1,130.8 L127.4,130.6 L127.7,131.1 L128.0,131.2 L128.3,131.8 L128.6,131.3 L128.9,131.3 L129.2,131.1 L129.5,131.0 L129.8,130.9 L130.1,131.0 L130.5,131.3 L130.8,131.1 L131.1,130.9 L131.4,130.8 L131.7,130.6 L132.0,130.8 L132.3,131.2 L132.6,131.7 L132.9,131.6 L133.2,131.3 L133.5,130.8 L133.8,130.4 L134.1,130.2 L134.4,130.9 L134.7,131.1 L135.0,131.6 L135.3,130.8 L135.6,130.4 L135.9,129.5 L136.2,129.6 L136.5,130.5 L136.8,131.0 L137.1,132.0 L137.4,132.2 L137.7,132.0 L138.0,130.8 L138.3,129.7 L138.6,130.0 L138.9,130.7 L139.2,132.1 L139.5,132.3 L139.8,132.2 L140.1,131.0 L140.4,130.2 L140.7,130.1 L141.0,130.5 L141.3,131.7 L141.6,131.8 L141.9,131.8 L142.2,131.2 L142.5,130.4 L142.8,130.1 L143.1,130.1 L143.4,130.6 L143.7,131.3 L144.0,131.7 L144.3,131.8 L144.6,130.9 L144.9,130.0 L145.2,129.7 L145.6,130.3 L145.9,130.9 L146.2,131.7 L146.5,131.7 L146.8,131.4 L147.1,130.7 L147.4,130.4 L147.7,130.7 L148.0,131.4 L148.3,131.6 L148.6,132.1 L148.9,131.5 L149.2,131.5 L149.5,130.4 L149.8,130.1 L150.1,129.8 L150.4,130.8 L150.7,131.1 L151.0,131.5 L151.3,131.3 L151.6,131.1 L151.9,130.8 L152.2,130.8 L152.5,131.1 L152.8,131.4 L153.1,131.5 L153.4,131.0 L153.7,130.3 L154.0,129.9 L154.3,130.2 L154.6,131.1 L154.9,131.7 L155.2,132.0 L155.5,131.1 L155.8,131.5 L156.1,130.7 L156.4,131.4 L156.7,130.6 L157.0,131.4 L157.3,131.4 L157.6,131.6 L157.9,131.2 L158.2,130.4 L158.5,129.9 L158.8,129.9 L159.1,130.1 L159.4,130.1 L159.7,130.5 L160.0,130.5 L160.3,131.1 L160.7,130.7 L161.0,130.8 L161.3,130.9 L161.6,131.0 L161.9,130.9 L162.2,130.6 L162.5,131.0 L162.8,131.2 L163.1,131.4 L163.4,131.1 L163.7,130.8 L164.0,130.4 L164.3,130.4 L164.6,129.8 L164.9,129.9 L165.2,129.8 L165.5,130.4 L165.8,130.6 L166.1,130.8 L166.4,131.1 L166.7,131.6 L167.0,131.8 L167.3,132.5 L167.6,132.1 L167.9,131.6 L168.2,131.2 L168.5,130.8 L168.8,130.5 L169.1,129.5 L169.4,129.3 L169.7,129.6 L170.0,130.2 L170.3,130.0 L170.6,129.7 L170.9,129.6 L171.2,129.8 L171.5,130.4 L171.8,130.7 L172.1,130.8 L172.4,130.9 L172.7,131.4 L173.0,131.8 L173.3,131.9 L173.6,132.3 L173.9,132.3 L174.2,131.5 L174.5,130.7 L174.8,129.4 L175.1,129.5 L175.4,129.2 L175.8,129.5 L176.1,129.0 L176.4,128.7 L176.7,129.0 L177.0,129.4 L177.3,130.2 L177.6,130.3 L177.9,130.6 L178.2,130.9 L178.5,131.2 L178.8,131.3 L179.1,131.1 L179.4,130.9 L179.7,130.7 L180.0,130.3 L180.3,129.8 L180.6,129.5 L180.9,129.1 L181.2,129.0 L181.5,128.8 L181.8,128.4 L182.1,127.9 L182.4,127.6 L182.7,127.9 L183.0,128.3 L183.3,128.1 L183.6,128.2 L183.9,128.2 L184.2,128.0 L184.5,127.9 L184.8,127.9 L185.1,128.0 L185.4,127.4 L185.7,126.7 L186.0,126.3 L186.3,126.1 L186.6,125.3 L186.9,125.4 L187.2,125.3 L187.5,125.7 L187.8,125.6 L188.1,125.7 L188.4,125.6 L188.7,125.5 L189.0,125.6 L189.3,125.8 L189.6,125.9 L189.9,125.9 L190.2,126.0 L190.5,126.1 L190.9,125.9 L191.2,125.9 L191.5,126.1 L191.8,126.3 L192.1,126.4 L192.4,126.5 L192.7,126.8 L193.0,127.2 L193.3,127.4 L193.6,127.9 L193.9,128.0 L194.2,128.0 L194.5,128.0 L194.8,128.1 L195.1,128.2 L195.4,128.5 L195.7,128.7 L196.0,129.0 L196.3,129.0 L196.6,129.1 L196.9,129.1 L197.2,129.2 L197.5,129.3 L197.8,129.3 L198.1,129.3 L198.4,129.3 L198.7,129.3 L199.0,129.4 L199.3,129.4 L199.6,129.4 L199.9,129.3 L200.2,129.2 L200.5,129.1 L200.8,129.0 L201.1,128.8 L201.4,128.8 L201.7,128.8 L202.0,128.7 L202.3,128.6 L202.6,128.5 L202.9,128.5 L203.2,128.4 L203.5,128.4 L203.8,128.4 L204.1,128.4 L204.4,128.4 L204.7,128.5 L205.0,128.5 L205.3,128.6 L205.6,128.7 L206.0,128.8 L206.3,128.9 L206.6,129.1 L206.9,129.2 L207.2,129.4 L207.5,129.5 L207.8,129.7 L208.1,129.8 L208.4,130.0 L208.7,130.1 L209.0,130.2 L209.3,130.4 L209.6,130.5 L209.9,130.6 L210.2,130.6 L210.5,130.7 L210.8,130.7 L211.1,130.7 L211.4,130.6 L211.7,130.5 L212.0,130.4 L212.3,130.2 L212.6,130.1 L212.9,129.8 L213.2,129.6 L213.5,129.3 L213.8,129.0 L214.1,128.7 L214.4,128.3 L214.7,128.0 L215.0,127.6 L215.3,127.2 L215.6,126.9 L215.9,126.5 L216.2,126.2 L216.5,125.8 L216.8,125.5 L217.1,125.2 L217.4,124.9 L217.7,124.6 L218.0,124.3 L218.3,124.1 L218.6,123.9 L218.9,123.8 L219.2,123.7 L219.5,123.6 L219.8,123.6 L220.1,123.6 L220.4,123.7 L220.7,123.8 L221.1,123.9 L221.4,124.1 L221.7,124.3 L222.0,124.5 L222.3,124.7 L222.6,125.0 L222.9,125.3 L223.2,125.6 L223.5,125.9 L223.8,126.2 L224.1,126.5 L224.4,126.9 L224.7,127.2 L225.0,127.5 L225.3,127.8 L225.6,128.1 L225.9,128.4 L226.2,128.7 L226.5,128.9 L226.8,129.2 L227.1,129.4 L227.4,129.6 L227.7,129.8 L228.0,129.9 L228.3,130.1 L228.6,130.2 L228.9,130.4 L229.2,130.5 L229.5,130.6 L229.8,130.6 L230.1,130.7 L230.4,130.7 L230.7,130.7 L231.0,130.7 L231.3,130.7 L231.6,130.7 L231.9,130.7 L232.2,130.6 L232.5,130.5 L232.8,130.5 L233.1,130.4 L233.4,130.2 L233.7,130.1 L234.0,129.9 L234.3,129.8 L234.6,129.6 L234.9,129.4 L235.2,129.2 L235.5,129.0 L235.8,128.8 L236.2,128.5 L236.5,128.3 L236.8,128.0 L237.1,127.7 L237.4,127.4 L237.7,127.1 L238.0,126.8 L238.3,126.5 L238.6,126.2 L238.9,125.8 L239.2,125.5 L239.5,125.1 L239.8,124.8 L240.1,124.4 L240.4,124.0 L240.7,123.6 L241.0,123.3 L241.3,122.9 L241.6,122.5 L241.9,122.1 L242.2,121.8 L242.5,121.4 L242.8,121.0 L243.1,120.7 L243.4,120.4 L243.7,120.1 L244.0,119.8 L244.3,119.5 L244.6,119.3 L244.9,119.1 L245.2,118.9 L245.5,118.8 L245.8,118.6 L246.1,118.6 L246.4,118.5 L246.7,118.5 L247.0,118.5 L247.3,118.6 L247.6,118.7 L247.9,118.9 L248.2,119.0 L248.5,119.2 L248.8,119.4 L249.1,119.7 L249.4,119.9 L249.7,120.2 L250.0,120.5 L250.3,120.7 L250.6,121.0 L250.9,121.3 L251.3,121.6 L251.6,121.9 L251.9,122.1 L252.2,122.4 L252.5,122.6 L252.8,122.8 L253.1,123.0 L253.4,123.2 L253.7,123.4 L254.0,123.5 L254.3,123.6 L254.6,123.7 L254.9,123.8 L255.2,123.8 L255.5,123.8 L255.8,123.9 L256.1,123.9 L256.4,123.9 L256.7,123.9 L257.0,123.9 L257.3,123.8 L257.6,123.8 L257.9,123.8 L258.2,123.7 L258.5,123.7 L258.8,123.6 L259.1,123.6 L259.4,123.6 L259.7,123.5 L260.0,123.5 L260.3,123.5 L260.6,123.5 L260.9,123.4 L261.2,123.4 L261.5,123.4 L261.8,123.4 L262.1,123.4 L262.4,123.5 L262.7,123.5 L263.0,123.5 L263.3,123.5 L263.6,123.6 L263.9,123.6 L264.2,123.7 L264.5,123.7 L264.8,123.8 L265.1,123.8 L265.4,123.9 L265.7,124.0 L266.0,124.0 L266.4,124.1 L266.7,124.2 L267.0,124.3 L267.3,124.4 L267.6,124.6 L267.9,124.7 L268.2,124.9 L268.5,125.0 L268.8,125.2 L269.1,125.4 L269.4,125.6 L269.7,125.8 L270.0,126.1 L270.3,126.3 L270.6,126.6 L270.9,126.9 L271.2,127.2 L271.5,127.6 L271.8,127.9 L272.1,128.2 L272.4,128.6 L272.7,129.0 L273.0,129.4 L273.3,129.8 L273.6,130.2 L273.9,130.6 L274.2,131.0 L274.5,131.4 L274.8,131.9 L275.1,132.3 L275.4,132.7 L275.7,133.2 L276.0,133.6 L276.3,134.1 L276.6,134.5 L276.9,135.0 L277.2,135.4 L277.5,135.9 L277.8,136.3 L278.1,136.8 L278.4,137.2 L278.7,137.6 L279.0,138.1 L279.3,138.5 L279.6,138.9 L279.9,139.3 L280.2,139.7 L280.5,140.1 L280.8,140.4 L281.1,140.8 L281.5,141.1 L281.8,141.4 L282.1,141.8 L282.4,142.0 L282.7,142.3 L283.0,142.6 L283.3,142.8 L283.6,143.1 L283.9,143.3 L284.2,143.5 L284.5,143.6 L284.8,143.8 L285.1,143.9 L285.4,144.1 L285.7,144.2 L286.0,144.2 L286.3,144.3 L286.6,144.4 L286.9,144.4 L287.2,144.4 L287.5,144.4 L287.8,144.4 L288.1,144.3 L288.4,144.3 L288.7,144.2 L289.0,144.1 L289.3,144.0 L289.6,143.8 L289.9,143.7 L290.2,143.5 L290.5,143.3 L290.8,143.1 L291.1,142.9 L291.4,142.6 L291.7,142.4 L292.0,142.1 L292.3,141.8 L292.6,141.5 L292.9,141.2 L293.2,140.8 L293.5,140.4 L293.8,140.1 L294.1,139.7 L294.4,139.2 L294.7,138.8 L295.0,138.4 L295.3,137.9 L295.6,137.4 L295.9,136.9 L296.2,136.4 L296.6,135.9 L296.9,135.4 L297.2,134.9 L297.5,134.3 L297.8,133.8 L298.1,133.3 L298.4,132.7 L298.7,132.2 L299.0,131.6 L299.3,131.1 L299.6,130.6 L299.9,130.0 L300.2,129.5 L300.5,129.0 L300.8,128.5 L301.1,128.0 L301.4,127.5 L301.7,127.1 L302.0,126.6 L302.3,126.1 L302.6,125.6 L302.9,125.1 L303.2,124.6 L303.5,124.0 L303.8,123.4 L304.1,122.8 L304.4,122.2 L304.7,121.5 L305.0,120.7 L305.3,120.0 L305.6,119.2 L305.9,118.4 L306.2,117.5 L306.5,116.7 L306.8,115.8 L307.1,115.0 L307.4,114.1 L307.7,113.3 L308.0,112.5 L308.3,111.7 L308.6,110.9 L308.9,110.2 L309.2,109.4 L309.5,108.8 L309.8,108.1 L310.1,107.5 L310.4,106.9 L310.7,106.3 L311.0,105.8 L311.3,105.2 L311.7,104.7 L312.0,104.2 L312.3,103.7 L312.6,103.2 L312.9,102.6 L313.2,102.1 L313.5,101.6 L313.8,101.1 L314.1,100.5 L314.4,100.0 L314.7,99.4 L315.0,98.9 L315.3,98.3 L315.6,97.7 L315.9,97.1 L316.2,96.5 L316.5,95.9 L316.8,95.2 L317.1,94.5 L317.4,93.9 L317.7,93.2 L318.0,92.4 L318.3,91.7 L318.6,91.0 L318.9,90.2 L319.2,89.5 L319.5,88.7 L319.8,87.9 L320.1,87.1 L320.4,86.3 L320.7,85.5 L321.0,84.6 L321.3,83.8 L321.6,83.0 L321.9,82.1 L322.2,81.3 L322.5,80.4 L322.8,79.5 L323.1,78.7 L323.4,77.8 L323.7,76.9 L324.0,76.0 L324.3,75.1 L324.6,74.2 L324.9,73.2 L325.2,72.3 L325.5,71.3 L325.8,70.3 L326.1,69.3 L326.4,68.3 L326.8,67.2 L327.1,66.1 L327.4,65.0 L327.7,63.8 L328.0,62.7 L328.3,61.5 L328.6,60.2 L328.9,58.9 L329.2,57.6 L329.5,56.3 L329.8,55.0 L330.1,53.6 L330.4,52.2 L330.7,50.9 L331.0,49.4 L331.3,48.0 L331.6,46.6 L331.9,45.2 L332.2,43.7 L332.5,42.3 L332.8,40.8 L333.1,39.4 L333.4,37.9 L333.7,36.5 L334.0,35.0" stroke="#c080ff" stroke-width="1.4" stroke-dasharray="1.3,0.9"/><path d="M62.5,131.2 L62.8,131.1 L63.1,130.5 L63.4,130.6 L63.7,130.6 L64.0,130.9 L64.3,130.9 L64.6,131.0 L64.9,130.9 L65.2,130.8 L65.5,130.6 L65.8,130.9 L66.1,131.1 L66.4,131.0 L66.7,130.7 L67.0,130.7 L67.3,131.1 L67.6,131.3 L67.9,131.1 L68.2,131.0 L68.5,131.0 L68.8,131.2 L69.1,131.2 L69.4,131.4 L69.7,131.3 L70.1,131.2 L70.4,131.0 L70.7,130.9 L71.0,130.8 L71.3,130.8 L71.6,130.8 L71.9,130.8 L72.2,130.8 L72.5,130.9 L72.8,130.9 L73.1,131.0 L73.4,131.2 L73.7,131.0 L74.0,131.1 L74.3,130.9 L74.6,130.9 L74.9,130.7 L75.2,130.8 L75.5,131.1 L75.8,131.0 L76.1,131.0 L76.4,130.8 L76.7,130.7 L77.0,130.6 L77.3,130.6 L77.6,131.0 L77.9,131.3 L78.2,131.3 L78.5,131.2 L78.8,131.1 L79.1,131.2 L79.4,131.0 L79.7,131.0 L80.0,130.8 L80.3,130.7 L80.6,130.9 L80.9,130.8 L81.2,131.0 L81.5,131.1 L81.8,131.1 L82.1,131.0 L82.4,131.0 L82.7,130.9 L83.0,130.9 L83.3,130.8 L83.6,131.0 L83.9,131.1 L84.2,131.1 L84.5,131.3 L84.8,131.3 L85.2,131.3 L85.5,131.1 L85.8,130.8 L86.1,130.5 L86.4,130.7 L86.7,130.5 L87.0,130.9 L87.3,131.1 L87.6,131.2 L87.9,130.9 L88.2,130.6 L88.5,130.9 L88.8,130.9 L89.1,130.9 L89.4,130.7 L89.7,130.8 L90.0,131.0 L90.3,130.9 L90.6,131.0 L90.9,130.9 L91.2,131.1 L91.5,130.9 L91.8,131.0 L92.1,131.0 L92.4,131.3 L92.7,131.1 L93.0,130.8 L93.3,130.6 L93.6,130.7 L93.9,131.0 L94.2,131.1 L94.5,131.2 L94.8,131.5 L95.1,131.6 L95.4,131.6 L95.7,130.9 L96.0,130.6 L96.3,130.5 L96.6,130.7 L96.9,131.2 L97.2,131.1 L97.5,131.1 L97.8,131.2 L98.1,131.1 L98.4,130.9 L98.7,130.8 L99.0,130.8 L99.3,131.3 L99.6,131.1 L99.9,131.1 L100.3,130.8 L100.6,130.9 L100.9,131.2 L101.2,131.3 L101.5,131.3 L101.8,131.0 L102.1,131.1 L102.4,131.0 L102.7,130.9 L103.0,131.1 L103.3,131.4 L103.6,131.4 L103.9,131.1 L104.2,130.9 L104.5,130.7 L104.8,130.9 L105.1,131.0 L105.4,131.3 L105.7,130.9 L106.0,130.8 L106.3,130.8 L106.6,131.1 L106.9,131.1 L107.2,131.1 L107.5,131.3 L107.8,131.2 L108.1,131.1 L108.4,130.7 L108.7,130.7 L109.0,130.9 L109.3,131.1 L109.6,131.4 L109.9,131.1 L110.2,130.8 L110.5,130.7 L110.8,130.9 L111.1,131.1 L111.4,131.0 L111.7,131.2 L112.0,131.5 L112.3,131.9 L112.6,132.1 L112.9,131.8 L113.2,131.6 L113.5,131.3 L113.8,131.4 L114.1,131.2 L114.4,131.2 L114.7,130.9 L115.0,131.1 L115.4,131.3 L115.7,131.4 L116.0,131.1 L116.3,131.0 L116.6,130.7 L116.9,131.2 L117.2,131.2 L117.5,131.5 L117.8,131.2 L118.1,130.9 L118.4,130.6 L118.7,130.6 L119.0,131.2 L119.3,131.3 L119.6,131.2 L119.9,130.9 L120.2,130.8 L120.5,130.6 L120.8,130.5 L121.1,130.8 L121.4,131.1 L121.7,131.5 L122.0,131.4 L122.3,131.6 L122.6,131.6 L122.9,132.0 L123.2,131.6 L123.5,131.2 L123.8,131.1 L124.1,131.1 L124.4,131.0 L124.7,130.5 L125.0,130.5 L125.3,130.4 L125.6,130.7 L125.9,131.3 L126.2,131.9 L126.5,131.9 L126.8,131.2 L127.1,130.9 L127.4,130.8 L127.7,131.2 L128.0,131.1 L128.3,130.8 L128.6,130.9 L128.9,130.6 L129.2,130.9 L129.5,130.8 L129.8,131.2 L130.1,131.5 L130.5,130.9 L130.8,131.0 L131.1,131.0 L131.4,131.6 L131.7,131.7 L132.0,131.2 L132.3,131.1 L132.6,130.8 L132.9,130.8 L133.2,130.8 L133.5,131.0 L133.8,131.4 L134.1,131.7 L134.4,131.4 L134.7,131.3 L135.0,131.1 L135.3,131.2 L135.6,131.4 L135.9,131.5 L136.2,131.5 L136.5,131.0 L136.8,130.7 L137.1,130.0 L137.4,130.1 L137.7,130.5 L138.0,131.3 L138.3,131.9 L138.6,132.2 L138.9,132.1 L139.2,131.1 L139.5,130.1 L139.8,129.8 L140.1,130.6 L140.4,131.9 L140.7,132.6 L141.0,132.6 L141.3,131.9 L141.6,130.8 L141.9,130.1 L142.2,130.1 L142.5,131.3 L142.8,132.0 L143.1,132.3 L143.4,131.8 L143.7,131.3 L144.0,130.6 L144.3,130.1 L144.6,130.0 L144.9,130.9 L145.2,131.6 L145.6,131.7 L145.9,130.7 L146.2,129.9 L146.5,129.4 L146.8,129.7 L147.1,130.1 L147.4,130.9 L147.7,131.1 L148.0,131.1 L148.3,130.9 L148.6,130.5 L148.9,130.5 L149.2,130.5 L149.5,131.2 L149.8,131.2 L150.1,131.6 L150.4,130.8 L150.7,130.9 L151.0,130.6 L151.3,130.7 L151.6,130.0 L151.9,130.4 L152.2,130.1 L152.5,130.3 L152.8,129.7 L153.1,130.1 L153.4,130.6 L153.7,130.7 L154.0,130.4 L154.3,130.4 L154.6,130.0 L154.9,130.1 L155.2,129.9 L155.5,130.6 L155.8,130.9 L156.1,131.1 L156.4,131.1 L156.7,130.7 L157.0,130.4 L157.3,129.8 L157.6,129.7 L157.9,129.8 L158.2,130.1 L158.5,131.1 L158.8,131.5 L159.1,131.1 L159.4,130.4 L159.7,129.4 L160.0,129.7 L160.3,129.7 L160.7,130.3 L161.0,130.7 L161.3,131.3 L161.6,131.4 L161.9,130.9 L162.2,130.5 L162.5,130.3 L162.8,130.8 L163.1,130.9 L163.4,131.5 L163.7,131.6 L164.0,132.1 L164.3,131.3 L164.6,131.4 L164.9,130.4 L165.2,130.3 L165.5,129.4 L165.8,129.8 L166.1,130.2 L166.4,130.4 L166.7,130.4 L167.0,130.5 L167.3,131.2 L167.6,131.5 L167.9,132.0 L168.2,132.3 L168.5,133.1 L168.8,132.8 L169.1,132.4 L169.4,131.6 L169.7,131.5 L170.0,130.9 L170.3,130.5 L170.6,129.9 L170.9,130.2 L171.2,130.3 L171.5,129.8 L171.8,130.2 L172.1,130.2 L172.4,130.9 L172.7,130.8 L173.0,131.1 L173.3,131.3 L173.6,131.4 L173.9,132.0 L174.2,131.9 L174.5,131.2 L174.8,130.7 L175.1,130.7 L175.4,131.0 L175.8,130.8 L176.1,130.0 L176.4,129.4 L176.7,128.8 L177.0,129.1 L177.3,129.2 L177.6,129.0 L177.9,128.5 L178.2,128.4 L178.5,128.5 L178.8,129.4 L179.1,129.5 L179.4,130.0 L179.7,129.5 L180.0,129.9 L180.3,129.9 L180.6,129.7 L180.9,129.2 L181.2,128.8 L181.5,128.7 L181.8,128.6 L182.1,128.3 L182.4,128.2 L182.7,128.0 L183.0,128.3 L183.3,128.5 L183.6,128.5 L183.9,128.4 L184.2,128.5 L184.5,128.5 L184.8,129.0 L185.1,129.1 L185.4,129.5 L185.7,129.3 L186.0,129.2 L186.3,128.9 L186.6,129.1 L186.9,129.2 L187.2,129.3 L187.5,128.7 L187.8,128.7 L188.1,128.2 L188.4,128.8 L188.7,128.9 L189.0,129.6 L189.3,129.2 L189.6,129.2 L189.9,129.3 L190.2,129.6 L190.5,129.9 L190.9,130.0 L191.2,130.1 L191.5,129.7 L191.8,129.3 L192.1,129.0 L192.4,129.0 L192.7,128.8 L193.0,128.5 L193.3,128.4 L193.6,128.5 L193.9,128.6 L194.2,128.5 L194.5,128.6 L194.8,128.2 L195.1,127.9 L195.4,127.6 L195.7,127.6 L196.0,127.5 L196.3,127.4 L196.6,127.3 L196.9,127.4 L197.2,127.1 L197.5,126.9 L197.8,126.6 L198.1,126.5 L198.4,126.5 L198.7,126.4 L199.0,126.3 L199.3,126.1 L199.6,126.1 L199.9,126.2 L200.2,126.3 L200.5,126.4 L200.8,126.3 L201.1,126.4 L201.4,126.4 L201.7,126.6 L202.0,126.8 L202.3,127.0 L202.6,127.1 L202.9,127.2 L203.2,127.5 L203.5,127.7 L203.8,127.9 L204.1,128.0 L204.4,128.2 L204.7,128.4 L205.0,128.5 L205.3,128.7 L205.6,128.9 L206.0,129.0 L206.3,129.1 L206.6,129.2 L206.9,129.4 L207.2,129.4 L207.5,129.5 L207.8,129.6 L208.1,129.6 L208.4,129.6 L208.7,129.7 L209.0,129.7 L209.3,129.7 L209.6,129.7 L209.9,129.6 L210.2,129.6 L210.5,129.6 L210.8,129.6 L211.1,129.5 L211.4,129.5 L211.7,129.5 L212.0,129.4 L212.3,129.4 L212.6,129.4 L212.9,129.3 L213.2,129.3 L213.5,129.3 L213.8,129.3 L214.1,129.3 L214.4,129.3 L214.7,129.3 L215.0,129.3 L215.3,129.4 L215.6,129.4 L215.9,129.5 L216.2,129.5 L216.5,129.6 L216.8,129.6 L217.1,129.7 L217.4,129.8 L217.7,129.8 L218.0,129.9 L218.3,130.0 L218.6,130.0 L218.9,130.1 L219.2,130.1 L219.5,130.1 L219.8,130.2 L220.1,130.2 L220.4,130.2 L220.7,130.2 L221.1,130.1 L221.4,130.1 L221.7,130.0 L222.0,129.9 L222.3,129.8 L222.6,129.7 L222.9,129.5 L223.2,129.3 L223.5,129.1 L223.8,128.9 L224.1,128.7 L224.4,128.4 L224.7,128.2 L225.0,127.9 L225.3,127.6 L225.6,127.4 L225.9,127.1 L226.2,126.8 L226.5,126.5 L226.8,126.3 L227.1,126.0 L227.4,125.7 L227.7,125.5 L228.0,125.3 L228.3,125.1 L228.6,124.9 L228.9,124.7 L229.2,124.6 L229.5,124.5 L229.8,124.4 L230.1,124.3 L230.4,124.3 L230.7,124.3 L231.0,124.4 L231.3,124.4 L231.6,124.6 L231.9,124.7 L232.2,124.9 L232.5,125.1 L232.8,125.3 L233.1,125.5 L233.4,125.8 L233.7,126.0 L234.0,126.3 L234.3,126.6 L234.6,126.9 L234.9,127.2 L235.2,127.5 L235.5,127.8 L235.8,128.1 L236.2,128.3 L236.5,128.6 L236.8,128.9 L237.1,129.1 L237.4,129.4 L237.7,129.6 L238.0,129.8 L238.3,129.9 L238.6,130.1 L238.9,130.2 L239.2,130.3 L239.5,130.4 L239.8,130.5 L240.1,130.6 L240.4,130.6 L240.7,130.6 L241.0,130.6 L241.3,130.6 L241.6,130.6 L241.9,130.6 L242.2,130.6 L242.5,130.6 L242.8,130.5 L243.1,130.5 L243.4,130.4 L243.7,130.3 L244.0,130.3 L244.3,130.2 L244.6,130.1 L244.9,130.0 L245.2,130.0 L245.5,129.9 L245.8,129.8 L246.1,129.7 L246.4,129.6 L246.7,129.5 L247.0,129.4 L247.3,129.3 L247.6,129.2 L247.9,129.1 L248.2,129.0 L248.5,128.9 L248.8,128.8 L249.1,128.6 L249.4,128.5 L249.7,128.4 L250.0,128.2 L250.3,128.1 L250.6,127.9 L250.9,127.7 L251.3,127.6 L251.6,127.4 L251.9,127.2 L252.2,127.0 L252.5,126.8 L252.8,126.6 L253.1,126.3 L253.4,126.1 L253.7,125.8 L254.0,125.6 L254.3,125.3 L254.6,125.1 L254.9,124.8 L255.2,124.5 L255.5,124.3 L255.8,124.0 L256.1,123.7 L256.4,123.4 L256.7,123.2 L257.0,122.9 L257.3,122.6 L257.6,122.3 L257.9,122.1 L258.2,121.8 L258.5,121.6 L258.8,121.3 L259.1,121.1 L259.4,120.8 L259.7,120.6 L260.0,120.4 L260.3,120.2 L260.6,120.0 L260.9,119.8 L261.2,119.6 L261.5,119.4 L261.8,119.3 L262.1,119.1 L262.4,118.9 L262.7,118.8 L263.0,118.7 L263.3,118.6 L263.6,118.4 L263.9,118.3 L264.2,118.3 L264.5,118.2 L264.8,118.1 L265.1,118.0 L265.4,118.0 L265.7,117.9 L266.0,117.9 L266.4,117.8 L266.7,117.8 L267.0,117.8 L267.3,117.8 L267.6,117.8 L267.9,117.8 L268.2,117.8 L268.5,117.8 L268.8,117.8 L269.1,117.8 L269.4,117.9 L269.7,117.9 L270.0,117.9 L270.3,118.0 L270.6,118.0 L270.9,118.0 L271.2,118.1 L271.5,118.1 L271.8,118.1 L272.1,118.1 L272.4,118.2 L272.7,118.2 L273.0,118.2 L273.3,118.2 L273.6,118.3 L273.9,118.3 L274.2,118.3 L274.5,118.3 L274.8,118.4 L275.1,118.4 L275.4,118.5 L275.7,118.5 L276.0,118.6 L276.3,118.6 L276.6,118.7 L276.9,118.8 L277.2,118.9 L277.5,119.0 L277.8,119.0 L278.1,119.1 L278.4,119.3 L278.7,119.4 L279.0,119.5 L279.3,119.6 L279.6,119.7 L279.9,119.9 L280.2,120.0 L280.5,120.1 L280.8,120.3 L281.1,120.4 L281.5,120.5 L281.8,120.7 L282.1,120.8 L282.4,120.9 L282.7,121.1 L283.0,121.2 L283.3,121.4 L283.6,121.5 L283.9,121.6 L284.2,121.8 L284.5,121.9 L284.8,122.0 L285.1,122.2 L285.4,122.3 L285.7,122.4 L286.0,122.5 L286.3,122.7 L286.6,122.8 L286.9,122.9 L287.2,123.0 L287.5,123.1 L287.8,123.2 L288.1,123.3 L288.4,123.4 L288.7,123.5 L289.0,123.6 L289.3,123.7 L289.6,123.8 L289.9,123.9 L290.2,124.0 L290.5,124.1 L290.8,124.1 L291.1,124.2 L291.4,124.3 L291.7,124.3 L292.0,124.4 L292.3,124.4 L292.6,124.5 L292.9,124.5 L293.2,124.5 L293.5,124.6 L293.8,124.6 L294.1,124.6 L294.4,124.7 L294.7,124.7 L295.0,124.7 L295.3,124.7 L295.6,124.8 L295.9,124.8 L296.2,124.8 L296.6,124.8 L296.9,124.8 L297.2,124.9 L297.5,124.9 L297.8,124.9 L298.1,124.9 L298.4,124.9 L298.7,125.0 L299.0,125.0 L299.3,125.0 L299.6,125.0 L299.9,125.0 L300.2,125.0 L300.5,125.1 L300.8,125.1 L301.1,125.1 L301.4,125.1 L301.7,125.1 L302.0,125.1 L302.3,125.1 L302.6,125.1 L302.9,125.1 L303.2,125.1 L303.5,125.1 L303.8,125.1 L304.1,125.1 L304.4,125.1 L304.7,125.1 L305.0,125.1 L305.3,125.1 L305.6,125.1 L305.9,125.0 L306.2,125.0 L306.5,125.0 L306.8,124.9 L307.1,124.9 L307.4,124.9 L307.7,124.8 L308.0,124.8 L308.3,124.7 L308.6,124.7 L308.9,124.6 L309.2,124.6 L309.5,124.5 L309.8,124.4 L310.1,124.4 L310.4,124.3 L310.7,124.2 L311.0,124.1 L311.3,124.0 L311.7,123.9 L312.0,123.8 L312.3,123.7 L312.6,123.6 L312.9,123.5 L313.2,123.3 L313.5,123.2 L313.8,123.1 L314.1,123.0 L314.4,122.8 L314.7,122.7 L315.0,122.5 L315.3,122.4 L315.6,122.2 L315.9,122.1 L316.2,121.9 L316.5,121.7 L316.8,121.6 L317.1,121.4 L317.4,121.2 L317.7,121.0 L318.0,120.8 L318.3,120.6 L318.6,120.4 L318.9,120.1 L319.2,119.9 L319.5,119.6 L319.8,119.3 L320.1,119.0 L320.4,118.7 L320.7,118.4 L321.0,118.0 L321.3,117.6 L321.6,117.2 L321.9,116.8 L322.2,116.3 L322.5,115.8 L322.8,115.3 L323.1,114.8 L323.4,114.3 L323.7,113.8 L324.0,113.3 L324.3,112.7 L324.6,112.2 L324.9,111.7 L325.2,111.3 L325.5,110.8 L325.8,110.4 L326.1,110.0 L326.4,109.6 L326.8,109.2 L327.1,108.8 L327.4,108.3 L327.7,107.8 L328.0,107.2 L328.3,106.5 L328.6,105.7 L328.9,104.8 L329.2,103.8 L329.5,102.6 L329.8,101.3 L330.1,99.8 L330.4,98.1 L330.7,96.4 L331.0,94.6 L331.3,92.9 L331.6,91.1 L331.9,89.4 L332.2,87.8 L332.5,86.2 L332.8,84.6 L333.1,83.1 L333.4,81.6 L333.7,80.1 L334.0,78.6" stroke="#90ee90" stroke-width="1.4" stroke-dasharray="1.3,0.9"/><path d="M62.5,131.0 L62.8,131.0 L63.1,130.7 L63.4,130.9 L63.7,130.6 L64.0,130.9 L64.3,130.8 L64.6,130.9 L64.9,131.3 L65.2,131.2 L65.5,131.4 L65.8,131.1 L66.1,131.0 L66.4,131.2 L66.7,131.0 L67.0,131.3 L67.3,131.0 L67.6,130.8 L67.9,130.9 L68.2,131.1 L68.5,131.2 L68.8,131.2 L69.1,131.2 L69.4,131.0 L69.7,130.6 L70.1,130.3 L70.4,130.2 L70.7,130.2 L71.0,130.3 L71.3,130.5 L71.6,130.8 L71.9,130.9 L72.2,130.9 L72.5,130.9 L72.8,130.9 L73.1,130.8 L73.4,130.7 L73.7,130.7 L74.0,130.8 L74.3,130.8 L74.6,130.8 L74.9,131.0 L75.2,131.2 L75.5,131.1 L75.8,130.9 L76.1,130.8 L76.4,131.2 L76.7,130.8 L77.0,130.9 L77.3,130.6 L77.6,131.2 L77.9,130.9 L78.2,131.2 L78.5,131.2 L78.8,131.4 L79.1,131.1 L79.4,130.9 L79.7,130.9 L80.0,130.8 L80.3,131.1 L80.6,131.1 L80.9,131.1 L81.2,131.1 L81.5,131.1 L81.8,131.1 L82.1,130.8 L82.4,130.9 L82.7,130.7 L83.0,130.8 L83.3,130.6 L83.6,130.9 L83.9,131.2 L84.2,131.0 L84.5,131.1 L84.8,131.1 L85.2,131.3 L85.5,131.1 L85.8,130.8 L86.1,130.7 L86.4,130.6 L86.7,130.4 L87.0,130.5 L87.3,130.7 L87.6,131.2 L87.9,131.1 L88.2,130.8 L88.5,130.5 L88.8,130.6 L89.1,130.9 L89.4,130.9 L89.7,130.8 L90.0,130.6 L90.3,130.8 L90.6,131.0 L90.9,131.0 L91.2,131.0 L91.5,130.7 L91.8,130.8 L92.1,130.7 L92.4,130.7 L92.7,130.6 L93.0,130.6 L93.3,130.8 L93.6,130.9 L93.9,130.8 L94.2,130.7 L94.5,130.6 L94.8,131.1 L95.1,131.2 L95.4,131.6 L95.7,131.0 L96.0,131.3 L96.3,131.3 L96.6,131.4 L96.9,131.1 L97.2,130.7 L97.5,130.8 L97.8,130.7 L98.1,130.7 L98.4,130.8 L98.7,131.3 L99.0,131.5 L99.3,131.2 L99.6,130.9 L99.9,130.9 L100.3,130.9 L100.6,130.7 L100.9,130.6 L101.2,130.7 L101.5,130.7 L101.8,130.6 L102.1,130.6 L102.4,131.2 L102.7,131.4 L103.0,131.3 L103.3,131.4 L103.6,131.2 L103.9,131.1 L104.2,130.9 L104.5,131.2 L104.8,131.4 L105.1,130.9 L105.4,130.8 L105.7,130.9 L106.0,131.3 L106.3,131.3 L106.6,131.4 L106.9,131.4 L107.2,131.2 L107.5,130.6 L107.8,130.6 L108.1,130.6 L108.4,130.9 L108.7,130.7 L109.0,130.8 L109.3,131.1 L109.6,131.4 L109.9,131.1 L110.2,131.1 L110.5,131.1 L110.8,130.9 L111.1,130.8 L111.4,130.4 L111.7,130.7 L112.0,130.7 L112.3,131.2 L112.6,131.3 L112.9,131.0 L113.2,130.9 L113.5,130.7 L113.8,131.0 L114.1,130.8 L114.4,131.3 L114.7,131.2 L115.0,131.1 L115.4,131.0 L115.7,130.9 L116.0,130.9 L116.3,130.6 L116.6,130.5 L116.9,130.8 L117.2,131.1 L117.5,131.3 L117.8,131.1 L118.1,130.9 L118.4,131.0 L118.7,131.4 L119.0,131.3 L119.3,131.3 L119.6,131.0 L119.9,130.7 L120.2,130.4 L120.5,130.4 L120.8,130.7 L121.1,130.9 L121.4,130.9 L121.7,131.1 L122.0,131.0 L122.3,130.8 L122.6,130.8 L122.9,130.9 L123.2,131.4 L123.5,131.1 L123.8,131.5 L124.1,131.0 L124.4,131.0 L124.7,130.9 L125.0,131.5 L125.3,131.6 L125.6,131.7 L125.9,131.7 L126.2,132.0 L126.5,131.6 L126.8,130.9 L127.1,130.4 L127.4,130.3 L127.7,130.8 L128.0,131.1 L128.3,131.0 L128.6,130.9 L128.9,130.7 L129.2,131.0 L129.5,130.9 L129.8,131.5 L130.1,131.3 L130.5,131.2 L130.8,130.7 L131.1,130.3 L131.4,130.7 L131.7,130.9 L132.0,131.3 L132.3,131.4 L132.6,131.4 L132.9,131.2 L133.2,131.5 L133.5,131.7 L133.8,132.3 L134.1,132.0 L134.4,131.6 L134.7,131.1 L135.0,130.3 L135.3,129.5 L135.6,129.7 L135.9,130.5 L136.2,131.5 L136.5,132.1 L136.8,131.8 L137.1,131.3 L137.4,130.1 L137.7,130.0 L138.0,130.3 L138.3,131.2 L138.6,131.5 L138.9,131.6 L139.2,130.9 L139.5,130.0 L139.8,129.2 L140.1,129.7 L140.4,130.2 L140.7,131.5 L141.0,131.8 L141.3,131.8 L141.6,130.9 L141.9,130.1 L142.2,129.8 L142.5,130.2 L142.8,131.0 L143.1,131.4 L143.4,131.4 L143.7,131.4 L144.0,131.0 L144.3,129.9 L144.6,129.3 L144.9,130.2 L145.2,131.7 L145.6,132.2 L145.9,131.9 L146.2,131.4 L146.5,130.7 L146.8,130.2 L147.1,130.5 L147.4,130.8 L147.7,131.6 L148.0,131.0 L148.3,130.7 L148.6,129.9 L148.9,130.1 L149.2,130.0 L149.5,130.2 L149.8,130.1 L150.1,130.4 L150.4,130.8 L150.7,130.7 L151.0,130.8 L151.3,130.6 L151.6,130.7 L151.9,130.8 L152.2,131.2 L152.5,130.6 L152.8,130.5 L153.1,130.4 L153.4,131.0 L153.7,131.1 L154.0,131.2 L154.3,131.5 L154.6,131.3 L154.9,131.1 L155.2,130.8 L155.5,130.6 L155.8,130.4 L156.1,130.2 L156.4,130.5 L156.7,130.8 L157.0,131.2 L157.3,131.0 L157.6,131.1 L157.9,130.9 L158.2,131.2 L158.5,130.6 L158.8,130.6 L159.1,130.5 L159.4,130.8 L159.7,131.1 L160.0,131.6 L160.3,131.2 L160.7,130.6 L161.0,129.8 L161.3,129.8 L161.6,130.3 L161.9,130.6 L162.2,130.7 L162.5,130.8 L162.8,131.0 L163.1,131.5 L163.4,131.5 L163.7,132.0 L164.0,132.3 L164.3,132.5 L164.6,132.1 L164.9,131.7 L165.2,131.2 L165.5,130.8 L165.8,130.6 L166.1,130.3 L166.4,130.7 L166.7,130.5 L167.0,130.6 L167.3,130.3 L167.6,131.0 L167.9,131.0 L168.2,131.0 L168.5,131.4 L168.8,132.1 L169.1,132.8 L169.4,132.4 L169.7,132.6 L170.0,132.5 L170.3,132.2 L170.6,131.3 L170.9,130.6 L171.2,130.6 L171.5,130.2 L171.8,129.8 L172.1,129.1 L172.4,129.3 L172.7,129.8 L173.0,130.0 L173.3,129.7 L173.6,129.8 L173.9,130.4 L174.2,131.0 L174.5,131.3 L174.8,131.4 L175.1,131.4 L175.4,131.1 L175.8,130.5 L176.1,130.0 L176.4,129.7 L176.7,129.6 L177.0,129.4 L177.3,129.0 L177.6,128.8 L177.9,128.3 L178.2,128.7 L178.5,128.1 L178.8,128.5 L179.1,128.7 L179.4,129.4 L179.7,129.5 L180.0,129.5 L180.3,129.2 L180.6,129.4 L180.9,129.5 L181.2,129.5 L181.5,129.6 L181.8,129.4 L182.1,129.4 L182.4,128.6 L182.7,128.2 L183.0,127.9 L183.3,128.1 L183.6,128.2 L183.9,128.0 L184.2,127.7 L184.5,127.4 L184.8,128.1 L185.1,128.6 L185.4,129.3 L185.7,129.0 L186.0,129.2 L186.3,129.1 L186.6,129.1 L186.9,128.6 L187.2,128.2 L187.5,128.2 L187.8,128.2 L188.1,128.3 L188.4,127.9 L188.7,127.5 L189.0,127.3 L189.3,127.7 L189.6,128.3 L189.9,128.4 L190.2,128.3 L190.5,127.8 L190.9,127.9 L191.2,128.0 L191.5,128.2 L191.8,128.4 L192.1,128.5 L192.4,128.6 L192.7,128.4 L193.0,128.4 L193.3,128.5 L193.6,128.6 L193.9,128.4 L194.2,128.3 L194.5,128.3 L194.8,128.1 L195.1,128.1 L195.4,127.9 L195.7,128.0 L196.0,128.1 L196.3,128.2 L196.6,128.3 L196.9,128.2 L197.2,128.2 L197.5,128.0 L197.8,128.0 L198.1,128.1 L198.4,128.1 L198.7,128.0 L199.0,128.0 L199.3,127.9 L199.6,127.9 L199.9,127.8 L200.2,127.9 L200.5,127.8 L200.8,127.9 L201.1,127.8 L201.4,127.8 L201.7,127.8 L202.0,127.9 L202.3,127.9 L202.6,127.9 L202.9,127.9 L203.2,127.9 L203.5,127.9 L203.8,127.9 L204.1,127.9 L204.4,127.9 L204.7,128.0 L205.0,128.0 L205.3,128.0 L205.6,128.0 L206.0,128.0 L206.3,128.0 L206.6,128.0 L206.9,128.0 L207.2,128.1 L207.5,128.1 L207.8,128.1 L208.1,128.1 L208.4,128.1 L208.7,128.1 L209.0,128.1 L209.3,128.1 L209.6,128.2 L209.9,128.2 L210.2,128.2 L210.5,128.2 L210.8,128.2 L211.1,128.2 L211.4,128.2 L211.7,128.2 L212.0,128.2 L212.3,128.2 L212.6,128.2 L212.9,128.2 L213.2,128.2 L213.5,128.2 L213.8,128.2 L214.1,128.2 L214.4,128.1 L214.7,128.1 L215.0,128.1 L215.3,128.1 L215.6,128.1 L215.9,128.1 L216.2,128.1 L216.5,128.0 L216.8,128.0 L217.1,128.0 L217.4,128.0 L217.7,128.0 L218.0,128.0 L218.3,127.9 L218.6,127.9 L218.9,127.9 L219.2,127.9 L219.5,127.9 L219.8,127.9 L220.1,127.8 L220.4,127.8 L220.7,127.8 L221.1,127.8 L221.4,127.8 L221.7,127.8 L222.0,127.8 L222.3,127.8 L222.6,127.8 L222.9,127.8 L223.2,127.8 L223.5,127.8 L223.8,127.8 L224.1,127.8 L224.4,127.8 L224.7,127.8 L225.0,127.9 L225.3,127.9 L225.6,127.9 L225.9,127.9 L226.2,128.0 L226.5,128.0 L226.8,128.0 L227.1,128.1 L227.4,128.1 L227.7,128.1 L228.0,128.2 L228.3,128.2 L228.6,128.2 L228.9,128.3 L229.2,128.3 L229.5,128.3 L229.8,128.3 L230.1,128.4 L230.4,128.4 L230.7,128.4 L231.0,128.4 L231.3,128.4 L231.6,128.4 L231.9,128.4 L232.2,128.4 L232.5,128.3 L232.8,128.3 L233.1,128.3 L233.4,128.2 L233.7,128.2 L234.0,128.1 L234.3,128.0 L234.6,127.9 L234.9,127.8 L235.2,127.7 L235.5,127.6 L235.8,127.4 L236.2,127.3 L236.5,127.1 L236.8,127.0 L237.1,126.8 L237.4,126.6 L237.7,126.4 L238.0,126.3 L238.3,126.1 L238.6,125.9 L238.9,125.7 L239.2,125.5 L239.5,125.3 L239.8,125.1 L240.1,124.9 L240.4,124.7 L240.7,124.6 L241.0,124.4 L241.3,124.2 L241.6,124.1 L241.9,124.0 L242.2,123.8 L242.5,123.7 L242.8,123.6 L243.1,123.5 L243.4,123.5 L243.7,123.4 L244.0,123.4 L244.3,123.4 L244.6,123.4 L244.9,123.4 L245.2,123.4 L245.5,123.4 L245.8,123.4 L246.1,123.5 L246.4,123.5 L246.7,123.6 L247.0,123.6 L247.3,123.7 L247.6,123.8 L247.9,123.9 L248.2,123.9 L248.5,124.0 L248.8,124.1 L249.1,124.2 L249.4,124.3 L249.7,124.4 L250.0,124.5 L250.3,124.6 L250.6,124.6 L250.9,124.7 L251.3,124.8 L251.6,124.9 L251.9,124.9 L252.2,125.0 L252.5,125.1 L252.8,125.1 L253.1,125.2 L253.4,125.2 L253.7,125.2 L254.0,125.3 L254.3,125.3 L254.6,125.3 L254.9,125.3 L255.2,125.3 L255.5,125.3 L255.8,125.3 L256.1,125.3 L256.4,125.2 L256.7,125.2 L257.0,125.1 L257.3,125.0 L257.6,125.0 L257.9,124.9 L258.2,124.8 L258.5,124.7 L258.8,124.6 L259.1,124.5 L259.4,124.3 L259.7,124.2 L260.0,124.1 L260.3,124.0 L260.6,123.9 L260.9,123.7 L261.2,123.6 L261.5,123.5 L261.8,123.4 L262.1,123.2 L262.4,123.1 L262.7,123.0 L263.0,122.9 L263.3,122.8 L263.6,122.7 L263.9,122.6 L264.2,122.5 L264.5,122.4 L264.8,122.3 L265.1,122.2 L265.4,122.2 L265.7,122.1 L266.0,122.0 L266.4,121.9 L266.7,121.9 L267.0,121.8 L267.3,121.7 L267.6,121.6 L267.9,121.6 L268.2,121.5 L268.5,121.5 L268.8,121.4 L269.1,121.4 L269.4,121.3 L269.7,121.2 L270.0,121.2 L270.3,121.1 L270.6,121.1 L270.9,121.0 L271.2,121.0 L271.5,120.9 L271.8,120.9 L272.1,120.8 L272.4,120.8 L272.7,120.7 L273.0,120.7 L273.3,120.6 L273.6,120.6 L273.9,120.5 L274.2,120.5 L274.5,120.4 L274.8,120.4 L275.1,120.3 L275.4,120.2 L275.7,120.2 L276.0,120.1 L276.3,120.0 L276.6,120.0 L276.9,119.9 L277.2,119.8 L277.5,119.7 L277.8,119.6 L278.1,119.5 L278.4,119.5 L278.7,119.4 L279.0,119.3 L279.3,119.2 L279.6,119.1 L279.9,119.0 L280.2,118.9 L280.5,118.8 L280.8,118.7 L281.1,118.6 L281.5,118.5 L281.8,118.4 L282.1,118.3 L282.4,118.2 L282.7,118.1 L283.0,118.0 L283.3,117.9 L283.6,117.8 L283.9,117.8 L284.2,117.7 L284.5,117.6 L284.8,117.5 L285.1,117.4 L285.4,117.3 L285.7,117.3 L286.0,117.2 L286.3,117.1 L286.6,117.1 L286.9,117.0 L287.2,116.9 L287.5,116.9 L287.8,116.8 L288.1,116.8 L288.4,116.7 L288.7,116.6 L289.0,116.6 L289.3,116.5 L289.6,116.5 L289.9,116.5 L290.2,116.4 L290.5,116.4 L290.8,116.3 L291.1,116.3 L291.4,116.3 L291.7,116.2 L292.0,116.2 L292.3,116.1 L292.6,116.1 L292.9,116.1 L293.2,116.1 L293.5,116.0 L293.8,116.0 L294.1,116.0 L294.4,115.9 L294.7,115.9 L295.0,115.9 L295.3,115.8 L295.6,115.8 L295.9,115.8 L296.2,115.8 L296.6,115.7 L296.9,115.7 L297.2,115.7 L297.5,115.6 L297.8,115.6 L298.1,115.6 L298.4,115.6 L298.7,115.5 L299.0,115.5 L299.3,115.4 L299.6,115.4 L299.9,115.4 L300.2,115.3 L300.5,115.3 L300.8,115.2 L301.1,115.2 L301.4,115.2 L301.7,115.1 L302.0,115.1 L302.3,115.0 L302.6,115.0 L302.9,114.9 L303.2,114.8 L303.5,114.8 L303.8,114.7 L304.1,114.6 L304.4,114.6 L304.7,114.5 L305.0,114.4 L305.3,114.3 L305.6,114.3 L305.9,114.2 L306.2,114.1 L306.5,114.0 L306.8,113.9 L307.1,113.8 L307.4,113.7 L307.7,113.6 L308.0,113.5 L308.3,113.4 L308.6,113.3 L308.9,113.2 L309.2,113.0 L309.5,112.9 L309.8,112.8 L310.1,112.7 L310.4,112.5 L310.7,112.4 L311.0,112.3 L311.3,112.1 L311.7,112.0 L312.0,111.8 L312.3,111.7 L312.6,111.5 L312.9,111.4 L313.2,111.2 L313.5,111.0 L313.8,110.9 L314.1,110.7 L314.4,110.5 L314.7,110.3 L315.0,110.1 L315.3,110.0 L315.6,109.8 L315.9,109.6 L316.2,109.4 L316.5,109.2 L316.8,109.0 L317.1,108.8 L317.4,108.6 L317.7,108.4 L318.0,108.2 L318.3,108.0 L318.6,107.7 L318.9,107.5 L319.2,107.3 L319.5,107.1 L319.8,106.9 L320.1,106.7 L320.4,106.5 L320.7,106.2 L321.0,106.0 L321.3,105.8 L321.6,105.6 L321.9,105.4 L322.2,105.1 L322.5,104.9 L322.8,104.7 L323.1,104.5 L323.4,104.3 L323.7,104.0 L324.0,103.8 L324.3,103.6 L324.6,103.4 L324.9,103.2 L325.2,102.9 L325.5,102.7 L325.8,102.5 L326.1,102.3 L326.4,102.1 L326.8,101.8 L327.1,101.6 L327.4,101.4 L327.7,101.2 L328.0,101.0 L328.3,100.7 L328.6,100.5 L328.9,100.3 L329.2,100.1 L329.5,99.9 L329.8,99.7 L330.1,99.4 L330.4,99.2 L330.7,99.0 L331.0,98.8 L331.3,98.6 L331.6,98.4 L331.9,98.1 L332.2,97.9 L332.5,97.7 L332.8,97.5 L333.1,97.3 L333.4,97.0 L333.7,96.8 L334.0,96.6" stroke="#00ffff" stroke-width="1.4" stroke-dasharray="1.3,0.9"/><path d="M62.5,131.0 L62.8,131.0 L63.1,131.2 L63.4,131.2 L63.7,131.3 L64.0,131.4 L64.3,131.4 L64.6,131.5 L64.9,131.2 L65.2,130.9 L65.5,130.6 L65.8,130.8 L66.1,130.9 L66.4,131.2 L66.7,131.1 L67.0,131.2 L67.3,131.3 L67.6,131.4 L67.9,131.4 L68.2,130.9 L68.5,131.0 L68.8,131.1 L69.1,131.1 L69.4,130.9 L69.7,130.8 L70.1,130.8 L70.4,130.7 L70.7,130.9 L71.0,130.9 L71.3,131.0 L71.6,131.1 L71.9,131.2 L72.2,131.1 L72.5,130.9 L72.8,131.0 L73.1,131.1 L73.4,130.9 L73.7,130.7 L74.0,130.7 L74.3,130.8 L74.6,131.1 L74.9,131.0 L75.2,131.0 L75.5,131.1 L75.8,131.2 L76.1,131.1 L76.4,130.8 L76.7,130.8 L77.0,131.0 L77.3,131.1 L77.6,131.1 L77.9,130.9 L78.2,130.8 L78.5,131.0 L78.8,131.4 L79.1,131.4 L79.4,131.3 L79.7,131.1 L80.0,131.0 L80.3,130.9 L80.6,130.7 L80.9,130.5 L81.2,130.5 L81.5,130.6 L81.8,131.0 L82.1,131.1 L82.4,131.0 L82.7,131.0 L83.0,131.3 L83.3,131.2 L83.6,131.0 L83.9,130.7 L84.2,130.9 L84.5,130.9 L84.8,131.0 L85.2,130.8 L85.5,131.0 L85.8,130.9 L86.1,130.9 L86.4,131.0 L86.7,130.8 L87.0,130.8 L87.3,130.8 L87.6,131.1 L87.9,131.2 L88.2,130.8 L88.5,130.8 L88.8,130.8 L89.1,131.1 L89.4,130.7 L89.7,130.8 L90.0,131.1 L90.3,131.4 L90.6,131.5 L90.9,131.1 L91.2,131.1 L91.5,130.8 L91.8,130.7 L92.1,130.7 L92.4,130.6 L92.7,130.7 L93.0,130.6 L93.3,130.7 L93.6,130.8 L93.9,130.9 L94.2,130.8 L94.5,130.9 L94.8,130.6 L95.1,130.8 L95.4,130.7 L95.7,130.6 L96.0,130.6 L96.3,130.7 L96.6,131.2 L96.9,131.1 L97.2,130.9 L97.5,130.9 L97.8,131.0 L98.1,131.2 L98.4,131.2 L98.7,131.3 L99.0,131.2 L99.3,131.1 L99.6,130.8 L99.9,130.6 L100.3,130.8 L100.6,130.8 L100.9,131.1 L101.2,130.8 L101.5,130.9 L101.8,130.6 L102.1,130.9 L102.4,130.9 L102.7,131.1 L103.0,130.8 L103.3,130.6 L103.6,130.6 L103.9,130.9 L104.2,131.0 L104.5,131.2 L104.8,131.2 L105.1,131.1 L105.4,131.0 L105.7,130.4 L106.0,130.5 L106.3,130.7 L106.6,130.9 L106.9,131.1 L107.2,131.1 L107.5,131.3 L107.8,131.2 L108.1,131.1 L108.4,130.9 L108.7,130.9 L109.0,131.3 L109.3,131.3 L109.6,131.3 L109.9,130.9 L110.2,131.0 L110.5,131.3 L110.8,131.1 L111.1,130.9 L111.4,130.6 L111.7,130.9 L112.0,131.2 L112.3,131.3 L112.6,131.1 L112.9,130.9 L113.2,130.8 L113.5,130.8 L113.8,131.0 L114.1,131.0 L114.4,131.1 L114.7,131.2 L115.0,131.2 L115.4,131.3 L115.7,131.1 L116.0,131.2 L116.3,131.2 L116.6,131.2 L116.9,131.3 L117.2,131.0 L117.5,130.8 L117.8,130.7 L118.1,130.8 L118.4,131.1 L118.7,131.2 L119.0,131.3 L119.3,131.1 L119.6,131.2 L119.9,131.1 L120.2,131.5 L120.5,131.4 L120.8,131.1 L121.1,130.8 L121.4,130.7 L121.7,131.2 L122.0,131.3 L122.3,131.5 L122.6,131.5 L122.9,131.3 L123.2,131.1 L123.5,130.9 L123.8,130.9 L124.1,131.6 L124.4,131.7 L124.7,131.7 L125.0,130.7 L125.3,130.6 L125.6,130.8 L125.9,130.7 L126.2,130.3 L126.5,130.4 L126.8,130.7 L127.1,131.2 L127.4,131.2 L127.7,131.4 L128.0,130.9 L128.3,131.0 L128.6,130.6 L128.9,130.9 L129.2,131.1 L129.5,130.9 L129.8,131.0 L130.1,130.6 L130.5,131.1 L130.8,130.7 L131.1,131.0 L131.4,131.1 L131.7,131.6 L132.0,131.6 L132.3,131.2 L132.6,130.6 L132.9,130.2 L133.2,129.8 L133.5,130.7 L133.8,131.4 L134.1,131.8 L134.4,131.7 L134.7,131.0 L135.0,130.5 L135.3,129.8 L135.6,130.2 L135.9,131.1 L136.2,131.6 L136.5,131.8 L136.8,131.3 L137.1,130.7 L137.4,129.7 L137.7,129.9 L138.0,130.7 L138.3,131.6 L138.6,131.9 L138.9,131.5 L139.2,131.1 L139.5,130.1 L139.8,130.2 L140.1,130.4 L140.4,131.7 L140.7,132.0 L141.0,132.7 L141.3,132.2 L141.6,131.0 L141.9,130.0 L142.2,129.7 L142.5,130.4 L142.8,131.0 L143.1,131.4 L143.4,131.8 L143.7,131.4 L144.0,130.5 L144.3,129.9 L144.6,130.1 L144.9,130.5 L145.2,131.3 L145.6,131.5 L145.9,132.2 L146.2,131.6 L146.5,130.9 L146.8,130.3 L147.1,130.3 L147.4,130.7 L147.7,131.4 L148.0,130.8 L148.3,130.5 L148.6,130.7 L148.9,131.1 L149.2,131.5 L149.5,131.1 L149.8,131.1 L150.1,131.1 L150.4,131.1 L150.7,130.9 L151.0,130.6 L151.3,130.6 L151.6,130.7 L151.9,130.6 L152.2,130.8 L152.5,131.1 L152.8,131.1 L153.1,131.2 L153.4,131.2 L153.7,131.6 L154.0,131.3 L154.3,131.4 L154.6,131.0 L154.9,130.7 L155.2,129.9 L155.5,130.1 L155.8,130.2 L156.1,130.7 L156.4,130.9 L156.7,131.7 L157.0,132.0 L157.3,131.2 L157.6,130.3 L157.9,130.0 L158.2,130.3 L158.5,130.4 L158.8,131.3 L159.1,132.0 L159.4,132.5 L159.7,131.9 L160.0,131.6 L160.3,131.0 L160.7,130.7 L161.0,130.3 L161.3,129.9 L161.6,129.8 L161.9,129.9 L162.2,129.8 L162.5,130.0 L162.8,129.8 L163.1,130.3 L163.4,130.1 L163.7,130.9 L164.0,131.4 L164.3,132.3 L164.6,132.3 L164.9,132.4 L165.2,132.0 L165.5,132.0 L165.8,131.4 L166.1,130.6 L166.4,130.3 L166.7,130.1 L167.0,130.5 L167.3,129.8 L167.6,129.8 L167.9,129.4 L168.2,129.5 L168.5,129.3 L168.8,129.9 L169.1,130.5 L169.4,131.6 L169.7,132.2 L170.0,132.9 L170.3,132.6 L170.6,132.1 L170.9,131.3 L171.2,131.0 L171.5,131.2 L171.8,131.5 L172.1,130.7 L172.4,130.0 L172.7,129.4 L173.0,129.4 L173.3,129.2 L173.6,128.8 L173.9,129.3 L174.2,129.7 L174.5,130.1 L174.8,130.5 L175.1,130.6 L175.4,131.1 L175.8,130.5 L176.1,130.9 L176.4,131.0 L176.7,131.3 L177.0,130.9 L177.3,130.4 L177.6,130.1 L177.9,129.5 L178.2,129.0 L178.5,129.0 L178.8,128.7 L179.1,128.7 L179.4,128.6 L179.7,128.8 L180.0,129.0 L180.3,129.4 L180.6,130.0 L180.9,130.2 L181.2,130.3 L181.5,130.3 L181.8,130.3 L182.1,130.2 L182.4,130.6 L182.7,130.2 L183.0,129.6 L183.3,129.1 L183.6,129.4 L183.9,129.3 L184.2,129.0 L184.5,128.8 L184.8,128.2 L185.1,128.4 L185.4,128.5 L185.7,129.3 L186.0,129.5 L186.3,129.2 L186.6,129.2 L186.9,129.1 L187.2,129.4 L187.5,129.4 L187.8,129.1 L188.1,129.5 L188.4,129.4 L188.7,129.8 L189.0,129.3 L189.3,129.2 L189.6,129.1 L189.9,129.2 L190.2,128.8 L190.5,128.8 L190.9,128.8 L191.2,129.2 L191.5,129.3 L191.8,129.3 L192.1,129.2 L192.4,129.0 L192.7,128.8 L193.0,128.8 L193.3,128.9 L193.6,129.1 L193.9,129.0 L194.2,129.0 L194.5,129.0 L194.8,129.1 L195.1,129.1 L195.4,129.0 L195.7,129.1 L196.0,129.0 L196.3,128.9 L196.6,128.9 L196.9,129.0 L197.2,129.1 L197.5,129.0 L197.8,128.8 L198.1,128.9 L198.4,129.0 L198.7,129.1 L199.0,129.0 L199.3,129.0 L199.6,129.0 L199.9,129.1 L200.2,129.1 L200.5,129.0 L200.8,129.0 L201.1,129.1 L201.4,129.2 L201.7,129.2 L202.0,129.2 L202.3,129.2 L202.6,129.2 L202.9,129.2 L203.2,129.2 L203.5,129.2 L203.8,129.2 L204.1,129.2 L204.4,129.2 L204.7,129.2 L205.0,129.3 L205.3,129.3 L205.6,129.3 L206.0,129.3 L206.3,129.3 L206.6,129.3 L206.9,129.3 L207.2,129.4 L207.5,129.4 L207.8,129.4 L208.1,129.4 L208.4,129.4 L208.7,129.4 L209.0,129.4 L209.3,129.5 L209.6,129.5 L209.9,129.5 L210.2,129.5 L210.5,129.5 L210.8,129.5 L211.1,129.5 L211.4,129.6 L211.7,129.6 L212.0,129.6 L212.3,129.6 L212.6,129.6 L212.9,129.6 L213.2,129.6 L213.5,129.6 L213.8,129.6 L214.1,129.6 L214.4,129.7 L214.7,129.7 L215.0,129.7 L215.3,129.7 L215.6,129.7 L215.9,129.7 L216.2,129.7 L216.5,129.7 L216.8,129.7 L217.1,129.7 L217.4,129.7 L217.7,129.7 L218.0,129.7 L218.3,129.7 L218.6,129.7 L218.9,129.7 L219.2,129.7 L219.5,129.8 L219.8,129.8 L220.1,129.8 L220.4,129.8 L220.7,129.8 L221.1,129.8 L221.4,129.8 L221.7,129.8 L222.0,129.8 L222.3,129.8 L222.6,129.8 L222.9,129.8 L223.2,129.8 L223.5,129.8 L223.8,129.8 L224.1,129.9 L224.4,129.9 L224.7,129.9 L225.0,129.9 L225.3,129.9 L225.6,129.9 L225.9,129.9 L226.2,129.9 L226.5,129.9 L226.8,130.0 L227.1,130.0 L227.4,130.0 L227.7,130.0 L228.0,130.0 L228.3,130.0 L228.6,130.0 L228.9,130.0 L229.2,130.0 L229.5,130.0 L229.8,130.0 L230.1,130.0 L230.4,130.0 L230.7,130.0 L231.0,130.0 L231.3,130.0 L231.6,130.0 L231.9,129.9 L232.2,129.9 L232.5,129.9 L232.8,129.8 L233.1,129.8 L233.4,129.8 L233.7,129.7 L234.0,129.7 L234.3,129.6 L234.6,129.5 L234.9,129.5 L235.2,129.4 L235.5,129.3 L235.8,129.2 L236.2,129.1 L236.5,129.0 L236.8,128.9 L237.1,128.8 L237.4,128.7 L237.7,128.5 L238.0,128.4 L238.3,128.3 L238.6,128.2 L238.9,128.1 L239.2,128.0 L239.5,127.9 L239.8,127.8 L240.1,127.7 L240.4,127.6 L240.7,127.5 L241.0,127.4 L241.3,127.3 L241.6,127.3 L241.9,127.2 L242.2,127.2 L242.5,127.1 L242.8,127.1 L243.1,127.1 L243.4,127.1 L243.7,127.1 L244.0,127.1 L244.3,127.2 L244.6,127.2 L244.9,127.3 L245.2,127.3 L245.5,127.4 L245.8,127.5 L246.1,127.5 L246.4,127.6 L246.7,127.7 L247.0,127.8 L247.3,127.9 L247.6,128.0 L247.9,128.0 L248.2,128.1 L248.5,128.2 L248.8,128.3 L249.1,128.4 L249.4,128.5 L249.7,128.5 L250.0,128.6 L250.3,128.6 L250.6,128.7 L250.9,128.7 L251.3,128.8 L251.6,128.8 L251.9,128.8 L252.2,128.8 L252.5,128.8 L252.8,128.8 L253.1,128.8 L253.4,128.8 L253.7,128.7 L254.0,128.7 L254.3,128.6 L254.6,128.6 L254.9,128.5 L255.2,128.5 L255.5,128.4 L255.8,128.3 L256.1,128.2 L256.4,128.2 L256.7,128.1 L257.0,128.0 L257.3,127.9 L257.6,127.8 L257.9,127.8 L258.2,127.7 L258.5,127.6 L258.8,127.5 L259.1,127.4 L259.4,127.4 L259.7,127.3 L260.0,127.2 L260.3,127.2 L260.6,127.1 L260.9,127.0 L261.2,127.0 L261.5,126.9 L261.8,126.9 L262.1,126.8 L262.4,126.8 L262.7,126.7 L263.0,126.7 L263.3,126.7 L263.6,126.7 L263.9,126.6 L264.2,126.6 L264.5,126.6 L264.8,126.6 L265.1,126.6 L265.4,126.6 L265.7,126.6 L266.0,126.6 L266.4,126.6 L266.7,126.6 L267.0,126.7 L267.3,126.7 L267.6,126.7 L267.9,126.8 L268.2,126.8 L268.5,126.9 L268.8,126.9 L269.1,127.0 L269.4,127.0 L269.7,127.1 L270.0,127.1 L270.3,127.2 L270.6,127.3 L270.9,127.3 L271.2,127.4 L271.5,127.4 L271.8,127.5 L272.1,127.6 L272.4,127.6 L272.7,127.7 L273.0,127.8 L273.3,127.8 L273.6,127.9 L273.9,127.9 L274.2,128.0 L274.5,128.0 L274.8,128.1 L275.1,128.1 L275.4,128.1 L275.7,128.2 L276.0,128.2 L276.3,128.2 L276.6,128.2 L276.9,128.3 L277.2,128.3 L277.5,128.3 L277.8,128.3 L278.1,128.2 L278.4,128.2 L278.7,128.2 L279.0,128.2 L279.3,128.1 L279.6,128.1 L279.9,128.0 L280.2,127.9 L280.5,127.9 L280.8,127.8 L281.1,127.7 L281.5,127.6 L281.8,127.5 L282.1,127.3 L282.4,127.2 L282.7,127.1 L283.0,126.9 L283.3,126.7 L283.6,126.5 L283.9,126.4 L284.2,126.2 L284.5,125.9 L284.8,125.7 L285.1,125.5 L285.4,125.2 L285.7,124.9 L286.0,124.7 L286.3,124.4 L286.6,124.1 L286.9,123.8 L287.2,123.4 L287.5,123.1 L287.8,122.8 L288.1,122.5 L288.4,122.2 L288.7,121.8 L289.0,121.5 L289.3,121.2 L289.6,120.9 L289.9,120.6 L290.2,120.4 L290.5,120.1 L290.8,119.8 L291.1,119.6 L291.4,119.4 L291.7,119.2 L292.0,119.0 L292.3,118.8 L292.6,118.6 L292.9,118.5 L293.2,118.3 L293.5,118.1 L293.8,118.0 L294.1,117.9 L294.4,117.7 L294.7,117.6 L295.0,117.5 L295.3,117.4 L295.6,117.2 L295.9,117.1 L296.2,117.0 L296.6,116.9 L296.9,116.8 L297.2,116.6 L297.5,116.5 L297.8,116.4 L298.1,116.3 L298.4,116.2 L298.7,116.1 L299.0,116.0 L299.3,115.8 L299.6,115.7 L299.9,115.6 L300.2,115.5 L300.5,115.4 L300.8,115.3 L301.1,115.2 L301.4,115.0 L301.7,114.9 L302.0,114.8 L302.3,114.7 L302.6,114.6 L302.9,114.5 L303.2,114.4 L303.5,114.3 L303.8,114.2 L304.1,114.1 L304.4,114.0 L304.7,113.9 L305.0,113.8 L305.3,113.7 L305.6,113.6 L305.9,113.5 L306.2,113.4 L306.5,113.3 L306.8,113.2 L307.1,113.1 L307.4,113.0 L307.7,112.9 L308.0,112.8 L308.3,112.7 L308.6,112.6 L308.9,112.5 L309.2,112.4 L309.5,112.3 L309.8,112.2 L310.1,112.1 L310.4,112.0 L310.7,111.9 L311.0,111.9 L311.3,111.8 L311.7,111.7 L312.0,111.6 L312.3,111.5 L312.6,111.4 L312.9,111.3 L313.2,111.2 L313.5,111.1 L313.8,111.0 L314.1,110.9 L314.4,110.8 L314.7,110.7 L315.0,110.6 L315.3,110.5 L315.6,110.4 L315.9,110.3 L316.2,110.2 L316.5,110.0 L316.8,109.9 L317.1,109.8 L317.4,109.7 L317.7,109.6 L318.0,109.5 L318.3,109.4 L318.6,109.2 L318.9,109.1 L319.2,109.0 L319.5,108.9 L319.8,108.8 L320.1,108.6 L320.4,108.5 L320.7,108.4 L321.0,108.2 L321.3,108.1 L321.6,108.0 L321.9,107.9 L322.2,107.7 L322.5,107.6 L322.8,107.5 L323.1,107.3 L323.4,107.2 L323.7,107.0 L324.0,106.9 L324.3,106.8 L324.6,106.6 L324.9,106.5 L325.2,106.3 L325.5,106.2 L325.8,106.0 L326.1,105.9 L326.4,105.7 L326.8,105.6 L327.1,105.4 L327.4,105.3 L327.7,105.1 L328.0,105.0 L328.3,104.8 L328.6,104.7 L328.9,104.5 L329.2,104.4 L329.5,104.2 L329.8,104.0 L330.1,103.9 L330.4,103.7 L330.7,103.6 L331.0,103.4 L331.3,103.2 L331.6,103.1 L331.9,102.9 L332.2,102.8 L332.5,102.6 L332.8,102.4 L333.1,102.3 L333.4,102.1 L333.7,102.0 L334.0,101.8" stroke="#ffa500" stroke-width="1.4" stroke-dasharray="1.3,0.9"/><path d="M62.5,131.2 L62.8,131.3 L63.1,131.0 L63.4,130.7 L63.7,130.7 L64.0,130.5 L64.3,130.8 L64.6,130.7 L64.9,131.1 L65.2,131.0 L65.5,131.1 L65.8,130.8 L66.1,130.9 L66.4,130.9 L66.7,131.1 L67.0,131.2 L67.3,131.3 L67.6,131.2 L67.9,130.8 L68.2,130.5 L68.5,130.7 L68.8,131.1 L69.1,131.4 L69.4,131.2 L69.7,131.0 L70.1,130.9 L70.4,131.1 L70.7,131.2 L71.0,131.1 L71.3,130.8 L71.6,130.8 L71.9,130.9 L72.2,131.0 L72.5,131.0 L72.8,130.8 L73.1,130.8 L73.4,130.7 L73.7,130.6 L74.0,130.6 L74.3,130.8 L74.6,130.8 L74.9,130.9 L75.2,130.8 L75.5,131.1 L75.8,131.0 L76.1,131.4 L76.4,131.3 L76.7,131.4 L77.0,131.0 L77.3,130.5 L77.6,130.3 L77.9,130.4 L78.2,130.7 L78.5,130.8 L78.8,130.8 L79.1,131.2 L79.4,131.3 L79.7,131.2 L80.0,130.9 L80.3,130.7 L80.6,130.6 L80.9,130.5 L81.2,130.5 L81.5,130.9 L81.8,131.1 L82.1,131.2 L82.4,131.1 L82.7,131.1 L83.0,130.8 L83.3,130.7 L83.6,130.7 L83.9,131.2 L84.2,131.3 L84.5,131.0 L84.8,130.8 L85.2,130.9 L85.5,131.0 L85.8,130.9 L86.1,130.7 L86.4,130.6 L86.7,130.6 L87.0,130.7 L87.3,130.7 L87.6,130.8 L87.9,130.6 L88.2,130.8 L88.5,131.0 L88.8,131.2 L89.1,130.8 L89.4,130.7 L89.7,130.9 L90.0,131.0 L90.3,131.1 L90.6,131.0 L90.9,130.9 L91.2,130.9 L91.5,131.0 L91.8,131.0 L92.1,130.5 L92.4,130.5 L92.7,130.5 L93.0,130.8 L93.3,131.0 L93.6,131.1 L93.9,130.9 L94.2,131.0 L94.5,131.0 L94.8,131.3 L95.1,131.1 L95.4,131.1 L95.7,130.8 L96.0,130.5 L96.3,130.4 L96.6,130.5 L96.9,130.8 L97.2,130.4 L97.5,130.4 L97.8,130.2 L98.1,130.9 L98.4,130.9 L98.7,131.0 L99.0,130.8 L99.3,130.9 L99.6,130.7 L99.9,130.5 L100.3,130.5 L100.6,130.9 L100.9,131.1 L101.2,131.2 L101.5,130.9 L101.8,131.0 L102.1,130.6 L102.4,130.9 L102.7,130.8 L103.0,130.9 L103.3,131.3 L103.6,131.5 L103.9,131.5 L104.2,131.4 L104.5,131.4 L104.8,131.8 L105.1,131.3 L105.4,131.1 L105.7,130.3 L106.0,130.3 L106.3,130.2 L106.6,130.8 L106.9,131.0 L107.2,131.4 L107.5,131.2 L107.8,131.2 L108.1,131.0 L108.4,130.7 L108.7,131.0 L109.0,131.0 L109.3,131.6 L109.6,131.4 L109.9,131.2 L110.2,130.9 L110.5,130.7 L110.8,130.8 L111.1,130.7 L111.4,130.8 L111.7,130.8 L112.0,130.7 L112.3,130.8 L112.6,130.9 L112.9,130.9 L113.2,131.0 L113.5,130.9 L113.8,131.1 L114.1,131.0 L114.4,131.3 L114.7,130.9 L115.0,131.2 L115.4,130.9 L115.7,131.5 L116.0,131.0 L116.3,131.1 L116.6,130.9 L116.9,131.0 L117.2,130.9 L117.5,130.8 L117.8,131.1 L118.1,130.9 L118.4,130.9 L118.7,130.9 L119.0,131.2 L119.3,131.5 L119.6,130.8 L119.9,130.6 L120.2,130.1 L120.5,130.4 L120.8,130.5 L121.1,130.8 L121.4,130.7 L121.7,130.9 L122.0,130.8 L122.3,131.0 L122.6,131.4 L122.9,131.3 L123.2,131.8 L123.5,131.2 L123.8,131.4 L124.1,131.0 L124.4,131.0 L124.7,131.0 L125.0,131.3 L125.3,131.6 L125.6,131.4 L125.9,131.4 L126.2,131.4 L126.5,131.5 L126.8,130.6 L127.1,130.4 L127.4,130.6 L127.7,130.9 L128.0,130.3 L128.3,129.8 L128.6,129.9 L128.9,130.2 L129.2,130.4 L129.5,130.6 L129.8,130.8 L130.1,130.8 L130.5,130.8 L130.8,130.8 L131.1,130.6 L131.4,130.6 L131.7,131.0 L132.0,131.5 L132.3,131.4 L132.6,130.9 L132.9,131.2 L133.2,130.7 L133.5,130.9 L133.8,130.8 L134.1,131.7 L134.4,131.9 L134.7,131.7 L135.0,130.9 L135.3,130.5 L135.6,129.8 L135.9,130.4 L136.2,131.0 L136.5,132.2 L136.8,132.1 L137.1,131.1 L137.4,130.0 L137.7,129.3 L138.0,130.0 L138.3,130.8 L138.6,131.9 L138.9,132.2 L139.2,132.0 L139.5,130.9 L139.8,130.2 L140.1,130.0 L140.4,130.1 L140.7,130.8 L141.0,131.5 L141.3,132.3 L141.6,132.2 L141.9,131.0 L142.2,129.8 L142.5,128.8 L142.8,130.1 L143.1,131.1 L143.4,131.9 L143.7,132.0 L144.0,131.4 L144.3,131.0 L144.6,130.0 L144.9,130.3 L145.2,130.3 L145.6,130.9 L145.9,131.2 L146.2,131.7 L146.5,131.2 L146.8,130.3 L147.1,129.6 L147.4,129.0 L147.7,129.1 L148.0,130.0 L148.3,131.0 L148.6,131.1 L148.9,130.7 L149.2,131.0 L149.5,131.1 L149.8,131.1 L150.1,131.6 L150.4,131.6 L150.7,131.5 L151.0,130.9 L151.3,130.6 L151.6,130.8 L151.9,130.7 L152.2,131.4 L152.5,131.2 L152.8,131.2 L153.1,130.3 L153.4,130.4 L153.7,130.3 L154.0,131.1 L154.3,132.1 L154.6,132.2 L154.9,131.9 L155.2,131.0 L155.5,130.5 L155.8,130.3 L156.1,130.4 L156.4,131.0 L156.7,131.0 L157.0,131.3 L157.3,131.0 L157.6,130.9 L157.9,130.5 L158.2,130.3 L158.5,130.3 L158.8,130.5 L159.1,130.6 L159.4,130.8 L159.7,131.1 L160.0,131.6 L160.3,131.8 L160.7,131.4 L161.0,130.8 L161.3,130.5 L161.6,130.5 L161.9,130.3 L162.2,130.3 L162.5,130.3 L162.8,130.2 L163.1,129.4 L163.4,129.0 L163.7,129.2 L164.0,129.5 L164.3,130.2 L164.6,130.7 L164.9,131.7 L165.2,131.8 L165.5,132.0 L165.8,131.9 L166.1,132.3 L166.4,131.9 L166.7,131.7 L167.0,131.5 L167.3,131.3 L167.6,130.5 L167.9,129.8 L168.2,129.6 L168.5,129.2 L168.8,128.7 L169.1,128.2 L169.4,128.9 L169.7,129.6 L170.0,130.7 L170.3,131.0 L170.6,131.0 L170.9,131.7 L171.2,132.5 L171.5,132.8 L171.8,132.4 L172.1,131.8 L172.4,131.0 L172.7,130.0 L173.0,129.8 L173.3,129.4 L173.6,129.4 L173.9,129.1 L174.2,129.2 L174.5,128.8 L174.8,128.5 L175.1,128.6 L175.4,129.2 L175.8,130.2 L176.1,131.0 L176.4,131.9 L176.7,132.1 L177.0,132.1 L177.3,131.3 L177.6,130.9 L177.9,130.4 L178.2,130.5 L178.5,130.2 L178.8,130.6 L179.1,130.2 L179.4,130.0 L179.7,129.0 L180.0,128.6 L180.3,128.5 L180.6,128.9 L180.9,129.0 L181.2,129.1 L181.5,129.4 L181.8,130.1 L182.1,130.5 L182.4,130.6 L182.7,130.5 L183.0,130.5 L183.3,130.5 L183.6,130.1 L183.9,129.6 L184.2,129.4 L184.5,129.8 L184.8,129.9 L185.1,129.5 L185.4,128.8 L185.7,129.0 L186.0,129.2 L186.3,129.4 L186.6,129.1 L186.9,129.3 L187.2,129.5 L187.5,129.6 L187.8,129.9 L188.1,129.9 L188.4,129.8 L188.7,129.6 L189.0,129.7 L189.3,129.7 L189.6,129.6 L189.9,129.3 L190.2,129.3 L190.5,129.1 L190.9,129.4 L191.2,129.3 L191.5,129.4 L191.8,129.3 L192.1,129.4 L192.4,129.5 L192.7,129.3 L193.0,129.4 L193.3,129.3 L193.6,129.4 L193.9,129.5 L194.2,129.3 L194.5,129.4 L194.8,129.5 L195.1,129.7 L195.4,129.6 L195.7,129.6 L196.0,129.6 L196.3,129.9 L196.6,130.1 L196.9,130.1 L197.2,129.9 L197.5,129.9 L197.8,129.8 L198.1,129.8 L198.4,129.8 L198.7,129.9 L199.0,130.0 L199.3,129.9 L199.6,130.0 L199.9,130.1 L200.2,130.2 L200.5,130.2 L200.8,130.2 L201.1,130.3 L201.4,130.3 L201.7,130.4 L202.0,130.4 L202.3,130.4 L202.6,130.3 L202.9,130.2 L203.2,130.3 L203.5,130.3 L203.8,130.3 L204.1,130.3 L204.4,130.4 L204.7,130.4 L205.0,130.4 L205.3,130.4 L205.6,130.4 L206.0,130.4 L206.3,130.4 L206.6,130.4 L206.9,130.4 L207.2,130.4 L207.5,130.4 L207.8,130.4 L208.1,130.4 L208.4,130.4 L208.7,130.4 L209.0,130.4 L209.3,130.4 L209.6,130.4 L209.9,130.4 L210.2,130.4 L210.5,130.4 L210.8,130.4 L211.1,130.5 L211.4,130.5 L211.7,130.5 L212.0,130.5 L212.3,130.5 L212.6,130.5 L212.9,130.5 L213.2,130.5 L213.5,130.5 L213.8,130.6 L214.1,130.6 L214.4,130.6 L214.7,130.6 L215.0,130.6 L215.3,130.7 L215.6,130.7 L215.9,130.7 L216.2,130.7 L216.5,130.8 L216.8,130.8 L217.1,130.8 L217.4,130.8 L217.7,130.9 L218.0,130.9 L218.3,130.9 L218.6,130.9 L218.9,131.0 L219.2,131.0 L219.5,131.0 L219.8,131.0 L220.1,131.1 L220.4,131.1 L220.7,131.1 L221.1,131.1 L221.4,131.2 L221.7,131.2 L222.0,131.2 L222.3,131.2 L222.6,131.2 L222.9,131.3 L223.2,131.3 L223.5,131.3 L223.8,131.3 L224.1,131.3 L224.4,131.3 L224.7,131.4 L225.0,131.4 L225.3,131.4 L225.6,131.4 L225.9,131.4 L226.2,131.4 L226.5,131.4 L226.8,131.4 L227.1,131.4 L227.4,131.4 L227.7,131.4 L228.0,131.4 L228.3,131.4 L228.6,131.4 L228.9,131.4 L229.2,131.4 L229.5,131.4 L229.8,131.4 L230.1,131.4 L230.4,131.4 L230.7,131.4 L231.0,131.4 L231.3,131.3 L231.6,131.3 L231.9,131.3 L232.2,131.3 L232.5,131.2 L232.8,131.2 L233.1,131.2 L233.4,131.1 L233.7,131.1 L234.0,131.0 L234.3,131.0 L234.6,131.0 L234.9,130.9 L235.2,130.8 L235.5,130.8 L235.8,130.7 L236.2,130.7 L236.5,130.6 L236.8,130.5 L237.1,130.5 L237.4,130.4 L237.7,130.3 L238.0,130.3 L238.3,130.2 L238.6,130.2 L238.9,130.1 L239.2,130.0 L239.5,130.0 L239.8,129.9 L240.1,129.9 L240.4,129.9 L240.7,129.8 L241.0,129.8 L241.3,129.8 L241.6,129.8 L241.9,129.8 L242.2,129.8 L242.5,129.8 L242.8,129.8 L243.1,129.8 L243.4,129.9 L243.7,129.9 L244.0,130.0 L244.3,130.0 L244.6,130.1 L244.9,130.2 L245.2,130.2 L245.5,130.3 L245.8,130.4 L246.1,130.5 L246.4,130.6 L246.7,130.7 L247.0,130.8 L247.3,130.9 L247.6,131.0 L247.9,131.0 L248.2,131.1 L248.5,131.2 L248.8,131.3 L249.1,131.4 L249.4,131.4 L249.7,131.5 L250.0,131.6 L250.3,131.6 L250.6,131.6 L250.9,131.7 L251.3,131.7 L251.6,131.7 L251.9,131.7 L252.2,131.7 L252.5,131.7 L252.8,131.6 L253.1,131.6 L253.4,131.5 L253.7,131.5 L254.0,131.4 L254.3,131.3 L254.6,131.3 L254.9,131.2 L255.2,131.1 L255.5,131.0 L255.8,130.9 L256.1,130.8 L256.4,130.7 L256.7,130.6 L257.0,130.5 L257.3,130.4 L257.6,130.2 L257.9,130.1 L258.2,130.0 L258.5,129.9 L258.8,129.8 L259.1,129.7 L259.4,129.6 L259.7,129.5 L260.0,129.4 L260.3,129.2 L260.6,129.1 L260.9,129.1 L261.2,129.0 L261.5,128.9 L261.8,128.8 L262.1,128.7 L262.4,128.6 L262.7,128.5 L263.0,128.5 L263.3,128.4 L263.6,128.3 L263.9,128.3 L264.2,128.2 L264.5,128.2 L264.8,128.2 L265.1,128.1 L265.4,128.1 L265.7,128.1 L266.0,128.1 L266.4,128.1 L266.7,128.1 L267.0,128.1 L267.3,128.2 L267.6,128.2 L267.9,128.2 L268.2,128.3 L268.5,128.3 L268.8,128.3 L269.1,128.4 L269.4,128.4 L269.7,128.5 L270.0,128.6 L270.3,128.6 L270.6,128.7 L270.9,128.7 L271.2,128.8 L271.5,128.9 L271.8,128.9 L272.1,129.0 L272.4,129.0 L272.7,129.1 L273.0,129.1 L273.3,129.1 L273.6,129.2 L273.9,129.2 L274.2,129.2 L274.5,129.2 L274.8,129.2 L275.1,129.2 L275.4,129.2 L275.7,129.2 L276.0,129.2 L276.3,129.2 L276.6,129.1 L276.9,129.1 L277.2,129.0 L277.5,128.9 L277.8,128.8 L278.1,128.8 L278.4,128.7 L278.7,128.6 L279.0,128.5 L279.3,128.4 L279.6,128.2 L279.9,128.1 L280.2,128.0 L280.5,127.9 L280.8,127.7 L281.1,127.6 L281.5,127.5 L281.8,127.3 L282.1,127.2 L282.4,127.0 L282.7,126.9 L283.0,126.7 L283.3,126.6 L283.6,126.5 L283.9,126.3 L284.2,126.2 L284.5,126.0 L284.8,125.9 L285.1,125.8 L285.4,125.6 L285.7,125.5 L286.0,125.4 L286.3,125.2 L286.6,125.1 L286.9,125.0 L287.2,124.9 L287.5,124.7 L287.8,124.6 L288.1,124.5 L288.4,124.4 L288.7,124.3 L289.0,124.2 L289.3,124.1 L289.6,124.0 L289.9,123.9 L290.2,123.8 L290.5,123.7 L290.8,123.6 L291.1,123.5 L291.4,123.4 L291.7,123.4 L292.0,123.3 L292.3,123.2 L292.6,123.1 L292.9,123.1 L293.2,123.0 L293.5,122.9 L293.8,122.9 L294.1,122.8 L294.4,122.8 L294.7,122.7 L295.0,122.7 L295.3,122.6 L295.6,122.6 L295.9,122.5 L296.2,122.5 L296.6,122.4 L296.9,122.4 L297.2,122.3 L297.5,122.3 L297.8,122.3 L298.1,122.2 L298.4,122.2 L298.7,122.1 L299.0,122.1 L299.3,122.0 L299.6,122.0 L299.9,121.9 L300.2,121.9 L300.5,121.8 L300.8,121.7 L301.1,121.7 L301.4,121.6 L301.7,121.5 L302.0,121.4 L302.3,121.3 L302.6,121.3 L302.9,121.2 L303.2,121.1 L303.5,121.0 L303.8,120.9 L304.1,120.8 L304.4,120.7 L304.7,120.6 L305.0,120.5 L305.3,120.4 L305.6,120.3 L305.9,120.2 L306.2,120.1 L306.5,119.9 L306.8,119.8 L307.1,119.7 L307.4,119.6 L307.7,119.5 L308.0,119.4 L308.3,119.3 L308.6,119.2 L308.9,119.1 L309.2,119.0 L309.5,118.9 L309.8,118.8 L310.1,118.6 L310.4,118.5 L310.7,118.4 L311.0,118.3 L311.3,118.2 L311.7,118.1 L312.0,118.0 L312.3,117.8 L312.6,117.7 L312.9,117.6 L313.2,117.5 L313.5,117.4 L313.8,117.2 L314.1,117.1 L314.4,117.0 L314.7,116.9 L315.0,116.7 L315.3,116.6 L315.6,116.5 L315.9,116.3 L316.2,116.2 L316.5,116.1 L316.8,115.9 L317.1,115.8 L317.4,115.7 L317.7,115.5 L318.0,115.4 L318.3,115.2 L318.6,115.1 L318.9,114.9 L319.2,114.8 L319.5,114.7 L319.8,114.5 L320.1,114.4 L320.4,114.2 L320.7,114.0 L321.0,113.9 L321.3,113.7 L321.6,113.6 L321.9,113.4 L322.2,113.3 L322.5,113.1 L322.8,113.0 L323.1,112.8 L323.4,112.6 L323.7,112.5 L324.0,112.3 L324.3,112.1 L324.6,112.0 L324.9,111.8 L325.2,111.6 L325.5,111.5 L325.8,111.3 L326.1,111.1 L326.4,111.0 L326.8,110.8 L327.1,110.6 L327.4,110.4 L327.7,110.3 L328.0,110.1 L328.3,109.9 L328.6,109.7 L328.9,109.6 L329.2,109.4 L329.5,109.2 L329.8,109.0 L330.1,108.9 L330.4,108.7 L330.7,108.5 L331.0,108.3 L331.3,108.1 L331.6,108.0 L331.9,107.8 L332.2,107.6 L332.5,107.4 L332.8,107.2 L333.1,107.0 L333.4,106.9 L333.7,106.7 L334.0,106.5" stroke="#ff0000" stroke-width="1.4" stroke-dasharray="1.3,0.9"/><path d="M62.5,131.0 L62.8,131.0 L63.1,131.0 L63.4,131.0 L63.7,130.8 L64.0,130.7 L64.3,130.6 L64.6,130.7 L64.9,130.8 L65.2,130.9 L65.5,131.0 L65.8,131.1 L66.1,131.2 L66.4,131.0 L66.7,131.0 L67.0,131.0 L67.3,131.2 L67.6,131.2 L67.9,131.2 L68.2,131.1 L68.5,130.9 L68.8,130.9 L69.1,130.8 L69.4,130.9 L69.7,130.7 L70.1,130.7 L70.4,130.8 L70.7,131.2 L71.0,131.4 L71.3,131.1 L71.6,130.8 L71.9,130.5 L72.2,130.5 L72.5,130.7 L72.8,130.8 L73.1,130.9 L73.4,130.9 L73.7,130.8 L74.0,131.1 L74.3,131.2 L74.6,131.2 L74.9,131.1 L75.2,130.9 L75.5,131.0 L75.8,131.0 L76.1,131.0 L76.4,131.0 L76.7,130.8 L77.0,131.1 L77.3,131.3 L77.6,131.4 L77.9,131.4 L78.2,131.0 L78.5,131.0 L78.8,130.9 L79.1,131.1 L79.4,131.1 L79.7,131.0 L80.0,131.1 L80.3,131.1 L80.6,130.9 L80.9,130.8 L81.2,130.7 L81.5,130.9 L81.8,130.8 L82.1,130.7 L82.4,130.8 L82.7,131.0 L83.0,131.4 L83.3,131.3 L83.6,130.9 L83.9,130.8 L84.2,130.8 L84.5,131.1 L84.8,130.8 L85.2,130.8 L85.5,130.9 L85.8,131.0 L86.1,131.1 L86.4,131.1 L86.7,131.1 L87.0,130.9 L87.3,130.9 L87.6,130.9 L87.9,131.3 L88.2,131.2 L88.5,131.1 L88.8,131.0 L89.1,131.1 L89.4,131.1 L89.7,130.8 L90.0,130.9 L90.3,130.8 L90.6,130.9 L90.9,130.7 L91.2,130.8 L91.5,130.9 L91.8,130.9 L92.1,131.0 L92.4,130.8 L92.7,130.7 L93.0,130.7 L93.3,131.0 L93.6,131.0 L93.9,131.2 L94.2,130.9 L94.5,131.2 L94.8,131.3 L95.1,131.6 L95.4,131.4 L95.7,131.3 L96.0,131.3 L96.3,131.4 L96.6,131.2 L96.9,131.0 L97.2,130.9 L97.5,131.2 L97.8,131.3 L98.1,131.4 L98.4,131.1 L98.7,131.0 L99.0,130.9 L99.3,130.9 L99.6,130.9 L99.9,130.9 L100.3,131.0 L100.6,130.9 L100.9,130.9 L101.2,131.0 L101.5,131.1 L101.8,130.8 L102.1,130.7 L102.4,130.6 L102.7,130.9 L103.0,131.1 L103.3,131.2 L103.6,131.1 L103.9,130.9 L104.2,131.0 L104.5,130.8 L104.8,130.9 L105.1,130.7 L105.4,130.9 L105.7,130.9 L106.0,130.8 L106.3,130.7 L106.6,130.7 L106.9,130.8 L107.2,131.1 L107.5,131.2 L107.8,131.1 L108.1,131.0 L108.4,130.9 L108.7,131.1 L109.0,131.3 L109.3,131.4 L109.6,131.3 L109.9,131.1 L110.2,131.0 L110.5,131.2 L110.8,131.2 L111.1,131.0 L111.4,130.4 L111.7,130.3 L112.0,130.4 L112.3,130.8 L112.6,131.2 L112.9,131.3 L113.2,131.6 L113.5,131.1 L113.8,131.2 L114.1,131.0 L114.4,130.9 L114.7,130.7 L115.0,130.8 L115.4,130.9 L115.7,131.1 L116.0,131.2 L116.3,131.1 L116.6,130.5 L116.9,130.6 L117.2,131.0 L117.5,131.4 L117.8,131.2 L118.1,130.9 L118.4,130.9 L118.7,131.0 L119.0,131.2 L119.3,131.2 L119.6,131.4 L119.9,131.3 L120.2,131.2 L120.5,131.0 L120.8,131.1 L121.1,131.2 L121.4,131.0 L121.7,131.2 L122.0,131.0 L122.3,131.3 L122.6,131.3 L122.9,131.3 L123.2,131.0 L123.5,130.8 L123.8,131.0 L124.1,131.0 L124.4,131.2 L124.7,131.2 L125.0,131.3 L125.3,131.3 L125.6,131.0 L125.9,131.1 L126.2,131.2 L126.5,131.4 L126.8,131.4 L127.1,131.3 L127.4,131.6 L127.7,131.4 L128.0,131.4 L128.3,131.0 L128.6,131.0 L128.9,131.0 L129.2,131.1 L129.5,131.1 L129.8,131.3 L130.1,131.2 L130.5,131.5 L130.8,131.3 L131.1,131.1 L131.4,130.7 L131.7,131.0 L132.0,131.3 L132.3,131.4 L132.6,131.3 L132.9,130.7 L133.2,130.5 L133.5,130.2 L133.8,130.7 L134.1,131.1 L134.4,131.7 L134.7,131.8 L135.0,131.6 L135.3,131.0 L135.6,130.5 L135.9,130.7 L136.2,131.3 L136.5,131.9 L136.8,132.1 L137.1,131.7 L137.4,130.7 L137.7,129.8 L138.0,129.8 L138.3,130.2 L138.6,131.0 L138.9,131.6 L139.2,132.0 L139.5,131.6 L139.8,130.7 L140.1,130.3 L140.4,130.6 L140.7,131.0 L141.0,131.3 L141.3,131.3 L141.6,131.2 L141.9,131.2 L142.2,130.7 L142.5,130.6 L142.8,130.7 L143.1,131.5 L143.4,131.8 L143.7,131.3 L144.0,131.2 L144.3,130.7 L144.6,130.5 L144.9,130.3 L145.2,130.6 L145.6,131.1 L145.9,130.9 L146.2,131.2 L146.5,130.7 L146.8,130.6 L147.1,130.4 L147.4,130.6 L147.7,131.3 L148.0,131.4 L148.3,131.2 L148.6,130.7 L148.9,130.7 L149.2,131.0 L149.5,130.7 L149.8,130.5 L150.1,130.4 L150.4,130.8 L150.7,130.8 L151.0,131.0 L151.3,131.0 L151.6,131.2 L151.9,131.0 L152.2,130.5 L152.5,130.4 L152.8,130.7 L153.1,131.0 L153.4,130.6 L153.7,130.5 L154.0,130.4 L154.3,130.8 L154.6,130.5 L154.9,130.2 L155.2,129.8 L155.5,130.0 L155.8,130.0 L156.1,130.2 L156.4,130.6 L156.7,131.0 L157.0,131.2 L157.3,130.9 L157.6,131.2 L157.9,131.0 L158.2,130.6 L158.5,130.1 L158.8,130.2 L159.1,130.6 L159.4,130.8 L159.7,130.9 L160.0,130.6 L160.3,130.0 L160.7,129.0 L161.0,128.9 L161.3,129.2 L161.6,130.0 L161.9,130.5 L162.2,130.7 L162.5,131.0 L162.8,130.8 L163.1,130.8 L163.4,130.4 L163.7,131.0 L164.0,131.4 L164.3,131.8 L164.6,131.8 L164.9,131.0 L165.2,130.5 L165.5,129.5 L165.8,129.2 L166.1,128.9 L166.4,128.8 L166.7,128.7 L167.0,128.9 L167.3,129.3 L167.6,130.0 L167.9,130.5 L168.2,131.1 L168.5,131.6 L168.8,131.9 L169.1,132.5 L169.4,132.4 L169.7,132.5 L170.0,132.1 L170.3,132.0 L170.6,131.2 L170.9,130.1 L171.2,129.5 L171.5,129.2 L171.8,129.1 L172.1,128.6 L172.4,128.4 L172.7,128.3 L173.0,128.8 L173.3,129.2 L173.6,130.3 L173.9,131.4 L174.2,132.1 L174.5,132.5 L174.8,132.2 L175.1,132.1 L175.4,131.9 L175.8,132.1 L176.1,131.8 L176.4,130.5 L176.7,129.3 L177.0,128.5 L177.3,128.6 L177.6,128.2 L177.9,128.5 L178.2,128.1 L178.5,128.4 L178.8,128.0 L179.1,128.6 L179.4,129.0 L179.7,129.3 L180.0,129.6 L180.3,129.5 L180.6,129.4 L180.9,129.3 L181.2,129.1 L181.5,129.0 L181.8,128.4 L182.1,128.0 L182.4,127.6 L182.7,127.2 L183.0,127.5 L183.3,127.4 L183.6,127.8 L183.9,127.4 L184.2,127.7 L184.5,127.6 L184.8,128.1 L185.1,128.0 L185.4,128.4 L185.7,128.7 L186.0,128.8 L186.3,128.5 L186.6,128.4 L186.9,128.3 L187.2,128.3 L187.5,127.7 L187.8,127.5 L188.1,127.3 L188.4,127.3 L188.7,127.2 L189.0,127.3 L189.3,127.4 L189.6,127.4 L189.9,127.3 L190.2,127.6 L190.5,127.8 L190.9,127.9 L191.2,127.9 L191.5,127.7 L191.8,127.8 L192.1,127.8 L192.4,128.2 L192.7,127.8 L193.0,127.6 L193.3,127.4 L193.6,127.6 L193.9,127.6 L194.2,127.5 L194.5,127.3 L194.8,127.1 L195.1,127.1 L195.4,127.1 L195.7,127.2 L196.0,127.2 L196.3,127.2 L196.6,127.2 L196.9,127.3 L197.2,127.4 L197.5,127.4 L197.8,127.5 L198.1,127.7 L198.4,127.8 L198.7,127.8 L199.0,127.8 L199.3,127.8 L199.6,127.9 L199.9,128.0 L200.2,128.2 L200.5,128.2 L200.8,128.3 L201.1,128.5 L201.4,128.6 L201.7,128.6 L202.0,128.7 L202.3,128.8 L202.6,128.8 L202.9,128.9 L203.2,129.0 L203.5,129.0 L203.8,129.1 L204.1,129.1 L204.4,129.2 L204.7,129.2 L205.0,129.2 L205.3,129.2 L205.6,129.2 L206.0,129.2 L206.3,129.1 L206.6,129.1 L206.9,129.1 L207.2,129.0 L207.5,128.9 L207.8,128.9 L208.1,128.8 L208.4,128.7 L208.7,128.6 L209.0,128.6 L209.3,128.5 L209.6,128.4 L209.9,128.3 L210.2,128.2 L210.5,128.1 L210.8,128.1 L211.1,128.0 L211.4,127.9 L211.7,127.8 L212.0,127.7 L212.3,127.7 L212.6,127.6 L212.9,127.6 L213.2,127.5 L213.5,127.5 L213.8,127.4 L214.1,127.4 L214.4,127.4 L214.7,127.4 L215.0,127.4 L215.3,127.4 L215.6,127.5 L215.9,127.5 L216.2,127.5 L216.5,127.6 L216.8,127.6 L217.1,127.7 L217.4,127.8 L217.7,127.8 L218.0,127.9 L218.3,128.0 L218.6,128.0 L218.9,128.1 L219.2,128.2 L219.5,128.2 L219.8,128.3 L220.1,128.4 L220.4,128.4 L220.7,128.5 L221.1,128.5 L221.4,128.5 L221.7,128.6 L222.0,128.6 L222.3,128.6 L222.6,128.6 L222.9,128.6 L223.2,128.6 L223.5,128.6 L223.8,128.6 L224.1,128.5 L224.4,128.5 L224.7,128.4 L225.0,128.4 L225.3,128.3 L225.6,128.3 L225.9,128.2 L226.2,128.2 L226.5,128.1 L226.8,128.0 L227.1,128.0 L227.4,127.9 L227.7,127.9 L228.0,127.8 L228.3,127.7 L228.6,127.7 L228.9,127.6 L229.2,127.6 L229.5,127.5 L229.8,127.5 L230.1,127.4 L230.4,127.4 L230.7,127.4 L231.0,127.4 L231.3,127.3 L231.6,127.3 L231.9,127.3 L232.2,127.3 L232.5,127.4 L232.8,127.4 L233.1,127.4 L233.4,127.4 L233.7,127.5 L234.0,127.5 L234.3,127.5 L234.6,127.6 L234.9,127.7 L235.2,127.7 L235.5,127.8 L235.8,127.9 L236.2,127.9 L236.5,128.0 L236.8,128.1 L237.1,128.2 L237.4,128.3 L237.7,128.4 L238.0,128.4 L238.3,128.5 L238.6,128.6 L238.9,128.6 L239.2,128.7 L239.5,128.7 L239.8,128.7 L240.1,128.7 L240.4,128.7 L240.7,128.6 L241.0,128.6 L241.3,128.5 L241.6,128.4 L241.9,128.3 L242.2,128.2 L242.5,128.0 L242.8,127.8 L243.1,127.7 L243.4,127.5 L243.7,127.3 L244.0,127.0 L244.3,126.8 L244.6,126.6 L244.9,126.3 L245.2,126.1 L245.5,125.8 L245.8,125.6 L246.1,125.4 L246.4,125.2 L246.7,125.0 L247.0,124.8 L247.3,124.7 L247.6,124.6 L247.9,124.5 L248.2,124.5 L248.5,124.4 L248.8,124.4 L249.1,124.4 L249.4,124.4 L249.7,124.4 L250.0,124.4 L250.3,124.5 L250.6,124.5 L250.9,124.6 L251.3,124.7 L251.6,124.8 L251.9,124.9 L252.2,125.0 L252.5,125.0 L252.8,125.1 L253.1,125.2 L253.4,125.3 L253.7,125.4 L254.0,125.5 L254.3,125.6 L254.6,125.7 L254.9,125.8 L255.2,125.8 L255.5,125.9 L255.8,125.9 L256.1,126.0 L256.4,126.0 L256.7,126.0 L257.0,126.0 L257.3,125.9 L257.6,125.9 L257.9,125.8 L258.2,125.7 L258.5,125.6 L258.8,125.4 L259.1,125.3 L259.4,125.1 L259.7,125.0 L260.0,124.8 L260.3,124.6 L260.6,124.4 L260.9,124.2 L261.2,124.0 L261.5,123.8 L261.8,123.6 L262.1,123.4 L262.4,123.2 L262.7,123.0 L263.0,122.8 L263.3,122.6 L263.6,122.5 L263.9,122.3 L264.2,122.2 L264.5,122.1 L264.8,122.0 L265.1,121.9 L265.4,121.8 L265.7,121.7 L266.0,121.7 L266.4,121.6 L266.7,121.6 L267.0,121.6 L267.3,121.6 L267.6,121.6 L267.9,121.6 L268.2,121.6 L268.5,121.7 L268.8,121.7 L269.1,121.7 L269.4,121.8 L269.7,121.9 L270.0,121.9 L270.3,122.0 L270.6,122.1 L270.9,122.1 L271.2,122.2 L271.5,122.3 L271.8,122.4 L272.1,122.5 L272.4,122.6 L272.7,122.7 L273.0,122.8 L273.3,122.9 L273.6,123.0 L273.9,123.1 L274.2,123.2 L274.5,123.3 L274.8,123.4 L275.1,123.5 L275.4,123.5 L275.7,123.6 L276.0,123.7 L276.3,123.7 L276.6,123.8 L276.9,123.8 L277.2,123.8 L277.5,123.9 L277.8,123.9 L278.1,123.9 L278.4,123.9 L278.7,123.9 L279.0,123.9 L279.3,123.8 L279.6,123.8 L279.9,123.7 L280.2,123.6 L280.5,123.6 L280.8,123.5 L281.1,123.4 L281.5,123.2 L281.8,123.1 L282.1,123.0 L282.4,122.8 L282.7,122.7 L283.0,122.5 L283.3,122.4 L283.6,122.2 L283.9,122.0 L284.2,121.8 L284.5,121.6 L284.8,121.4 L285.1,121.3 L285.4,121.1 L285.7,120.8 L286.0,120.6 L286.3,120.4 L286.6,120.2 L286.9,120.0 L287.2,119.8 L287.5,119.6 L287.8,119.4 L288.1,119.2 L288.4,118.9 L288.7,118.7 L289.0,118.5 L289.3,118.3 L289.6,118.1 L289.9,117.9 L290.2,117.7 L290.5,117.4 L290.8,117.2 L291.1,117.0 L291.4,116.8 L291.7,116.6 L292.0,116.4 L292.3,116.2 L292.6,116.0 L292.9,115.8 L293.2,115.6 L293.5,115.4 L293.8,115.2 L294.1,115.0 L294.4,114.8 L294.7,114.6 L295.0,114.4 L295.3,114.2 L295.6,113.9 L295.9,113.7 L296.2,113.5 L296.6,113.3 L296.9,113.1 L297.2,112.9 L297.5,112.7 L297.8,112.4 L298.1,112.2 L298.4,112.0 L298.7,111.8 L299.0,111.6 L299.3,111.4 L299.6,111.2 L299.9,111.0 L300.2,110.8 L300.5,110.6 L300.8,110.4 L301.1,110.2 L301.4,110.0 L301.7,109.8 L302.0,109.7 L302.3,109.5 L302.6,109.3 L302.9,109.2 L303.2,109.0 L303.5,108.9 L303.8,108.7 L304.1,108.6 L304.4,108.4 L304.7,108.3 L305.0,108.2 L305.3,108.0 L305.6,107.9 L305.9,107.8 L306.2,107.7 L306.5,107.6 L306.8,107.5 L307.1,107.4 L307.4,107.3 L307.7,107.2 L308.0,107.1 L308.3,107.0 L308.6,106.9 L308.9,106.8 L309.2,106.7 L309.5,106.7 L309.8,106.6 L310.1,106.5 L310.4,106.4 L310.7,106.3 L311.0,106.2 L311.3,106.1 L311.7,106.0 L312.0,105.9 L312.3,105.8 L312.6,105.7 L312.9,105.5 L313.2,105.4 L313.5,105.3 L313.8,105.2 L314.1,105.0 L314.4,104.9 L314.7,104.8 L315.0,104.6 L315.3,104.5 L315.6,104.3 L315.9,104.2 L316.2,104.1 L316.5,103.9 L316.8,103.7 L317.1,103.6 L317.4,103.4 L317.7,103.3 L318.0,103.1 L318.3,102.9 L318.6,102.8 L318.9,102.6 L319.2,102.4 L319.5,102.3 L319.8,102.1 L320.1,101.9 L320.4,101.7 L320.7,101.5 L321.0,101.3 L321.3,101.1 L321.6,100.9 L321.9,100.7 L322.2,100.5 L322.5,100.3 L322.8,100.1 L323.1,99.9 L323.4,99.7 L323.7,99.5 L324.0,99.2 L324.3,99.0 L324.6,98.8 L324.9,98.5 L325.2,98.3 L325.5,98.0 L325.8,97.8 L326.1,97.6 L326.4,97.3 L326.8,97.1 L327.1,96.8 L327.4,96.5 L327.7,96.3 L328.0,96.0 L328.3,95.8 L328.6,95.5 L328.9,95.3 L329.2,95.0 L329.5,94.7 L329.8,94.5 L330.1,94.2 L330.4,94.0 L330.7,93.7 L331.0,93.4 L331.3,93.2 L331.6,92.9 L331.9,92.6 L332.2,92.4 L332.5,92.1 L332.8,91.9 L333.1,91.6 L333.4,91.3 L333.7,91.1 L334.0,90.8" stroke="#0000ff" stroke-width="1.75"/></g><path d="M87.14,153.5 v-3 M87.14,17.7 v3 M114.51,153.5 v-3 M114.51,17.7 v3 M141.88,153.5 v-3 M141.88,17.7 v3 M169.26,153.5 v-3 M169.26,17.7 v3 M196.63,153.5 v-3 M196.63,17.7 v3 M224.01,153.5 v-3 M224.01,17.7 v3 M251.38,153.5 v-3 M251.38,17.7 v3 M278.75,153.5 v-3 M278.75,17.7 v3 M306.13,153.5 v-3 M306.13,17.7 v3 M62.5,131.00 h3 M333.5,131.00 h-3 M62.5,108.35 h3 M333.5,108.35 h-3 M62.5,85.70 h3 M333.5,85.70 h-3 M62.5,63.05 h3 M333.5,63.05 h-3 M62.5,40.40 h3 M333.5,40.40 h-3" stroke="#000" stroke-width="0.8" fill="none"/><path d="M62.5,17.4 V154.0 M333.5,17.4 V154.0 M62.0,153.5 H334.0" fill="none" stroke="#000" stroke-width="1"/><path d="M62.0,17.7 H334.0" fill="none" stroke="#000" stroke-width="0.7"/><g font-size="10.9" fill="#000" stroke="#000" stroke-width="0.08"><text x="55" y="157.2" text-anchor="end">-5</text><text x="55" y="134.6" text-anchor="end">0</text><text x="55" y="111.9" text-anchor="end">5</text><text x="55" y="89.3" text-anchor="end">10</text><text x="55" y="66.6" text-anchor="end">15</text><text x="55" y="44.0" text-anchor="end">20</text><text x="55" y="21.4" text-anchor="end">25</text><text x="88.5" y="168.8" text-anchor="middle" font-size="11.2">100</text><text x="115.9" y="168.8" text-anchor="middle" font-size="11.2">200</text><text x="143.3" y="168.8" text-anchor="middle" font-size="11.2">300</text><text x="170.7" y="168.8" text-anchor="middle" font-size="11.2">400</text><text x="198.0" y="168.8" text-anchor="middle" font-size="11.2">500</text><text x="225.4" y="168.8" text-anchor="middle" font-size="11.2">600</text><text x="252.8" y="168.8" text-anchor="middle" font-size="11.2">700</text><text x="280.2" y="168.8" text-anchor="middle" font-size="11.2">800</text><text x="307.5" y="168.8" text-anchor="middle" font-size="11.2">900</text><text x="334.9" y="168.8" text-anchor="middle" font-size="11.2">1000</text><text x="184.0" y="187.4" font-size="11.2" font-style="italic">f</text><text x="189.9" y="187.4" font-size="11" letter-spacing="0.45">[Hz]</text><g transform="rotate(-90)" stroke="#000" stroke-width="0.06"><text x="-173.2" y="26.3" font-size="11.3">(</text><text x="-166.3" y="26.3" font-size="11.3">A</text><text x="-157.8" y="20.0" font-size="8.6" textLength="17.4" lengthAdjust="spacingAndGlyphs">Tidal</text><text x="-139.9" y="29.1" font-size="8.6" textLength="24.0" lengthAdjust="spacingAndGlyphs">Hybrid</text><text x="-113.7" y="26.3" font-size="11.3">-</text><text x="-108.4" y="26.3" font-size="11.3">A</text><text x="-99.8" y="20.0" font-size="8.6" textLength="17.4" lengthAdjust="spacingAndGlyphs">Tidal</text><text x="-81.5" y="29.1" font-size="8.6" textLength="19.8" lengthAdjust="spacingAndGlyphs">model</text><text x="-58.7" y="26.3" font-size="11.3">)</text><text x="-52.3" y="26.3" font-size="11.3">/</text><text x="-46.7" y="26.3" font-size="11.3">A</text><text x="-35.7" y="20.0" font-size="8.6" textLength="19.0" lengthAdjust="spacingAndGlyphs">model</text><text x="-14.3" y="25.1" font-size="10.2">[</text><text x="-11.2" y="25.1" font-size="10.2">%</text><text x="-2.6" y="25.1" font-size="10.2">]</text></g><text x="154.0" y="203.6" text-anchor="end" font-size="11.4" letter-spacing="0.1">15H125-146</text><path d="M161,200.3 H192" stroke="#c080ff" stroke-width="1.2"/><text x="154.0" y="215.2" text-anchor="end" font-size="11.4" letter-spacing="0.1">125H125-146</text><path d="M161,211.9 H192" stroke="#90ee90" stroke-width="1.2"/><text x="154.0" y="226.9" text-anchor="end" font-size="11.4" letter-spacing="0.1">H125-146</text><path d="M161,223.6 H192" stroke="#00ffff" stroke-width="1.2"/><text x="154.0" y="238.5" text-anchor="end" font-size="11.4" letter-spacing="0.1">HB125-146</text><path d="M161,235.2 H192" stroke="#ffa500" stroke-width="1.2"/><text x="154.0" y="250.2" text-anchor="end" font-size="11.4" letter-spacing="0.1">B125-146</text><path d="M161,246.9 H192" stroke="#ff0000" stroke-width="1.2"/><text x="154.0" y="261.8" text-anchor="end" font-size="11.4" letter-spacing="0.1">15H118-155</text><path d="M161,258.5 H192" stroke="#c080ff" stroke-width="1.2" stroke-dasharray="1.6,1.0"/><text x="154.0" y="273.4" text-anchor="end" font-size="11.4" letter-spacing="0.1">125H118-155</text><path d="M161,270.1 H192" stroke="#90ee90" stroke-width="1.2" stroke-dasharray="1.6,1.0"/><text x="154.0" y="285.1" text-anchor="end" font-size="11.4" letter-spacing="0.1">H118-155</text><path d="M161,281.8 H192" stroke="#00ffff" stroke-width="1.2" stroke-dasharray="1.6,1.0"/><text x="275.1" y="203.6" text-anchor="end" font-size="11.4" letter-spacing="0.1">HB118-155</text><path d="M282,200.3 H313.5" stroke="#ffa500" stroke-width="1.2" stroke-dasharray="1.6,1.0"/><text x="275.1" y="215.2" text-anchor="end" font-size="11.4" letter-spacing="0.1">B118-155</text><path d="M282,211.9 H313.5" stroke="#ff0000" stroke-width="1.6" stroke-dasharray="1.6,1.0"/><text x="275.1" y="226.9" text-anchor="end" font-size="11.4" letter-spacing="0.1">15H117-156</text><path d="M282,223.6 H313.5" stroke="#c080ff" stroke-width="1.2" stroke-dasharray="1.6,1.0"/><text x="275.1" y="238.5" text-anchor="end" font-size="11.4" letter-spacing="0.1">125H117-156</text><path d="M282,235.2 H313.5" stroke="#90ee90" stroke-width="1.2" stroke-dasharray="1.6,1.0"/><text x="275.1" y="250.2" text-anchor="end" font-size="11.4" letter-spacing="0.1">H117-156</text><path d="M282,246.9 H313.5" stroke="#00ffff" stroke-width="1.2" stroke-dasharray="1.6,1.0"/><text x="275.1" y="261.8" text-anchor="end" font-size="11.4" letter-spacing="0.1">HB117-156</text><path d="M282,258.5 H313.5" stroke="#ffa500" stroke-width="1.2" stroke-dasharray="1.6,1.0"/><text x="275.1" y="273.4" text-anchor="end" font-size="11.4" letter-spacing="0.1">B117-156</text><path d="M282,270.1 H313.5" stroke="#ff0000" stroke-width="1.2" stroke-dasharray="1.6,1.0"/><text x="275.1" y="285.1" text-anchor="end" font-size="11.4" letter-spacing="0.1">SFHo135-135</text><path d="M282,281.8 H313.5" stroke="#0000ff" stroke-width="1.35"/></g></svg></body></html>
